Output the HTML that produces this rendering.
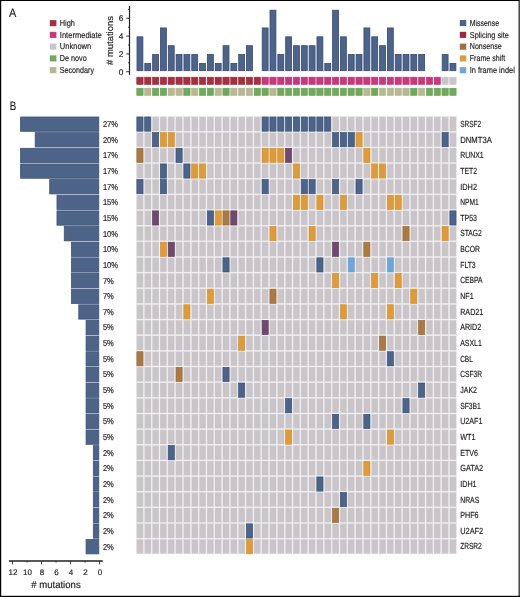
<!DOCTYPE html>
<html><head><meta charset="utf-8"><title>Oncoprint</title>
<style>
html,body{margin:0;padding:0;background:#fff;}
body{width:520px;height:597px;overflow:hidden;}
svg{display:block;will-change:transform;}
text{font-family:"Liberation Sans",sans-serif;fill:#231f20;stroke:#231f20;stroke-width:0.18px;text-rendering:geometricPrecision;}
</style></head>
<body>
<svg width="520" height="597" viewBox="0 0 520 597">
<rect x="0" y="0" width="520" height="597" fill="#fff"/>
<text x="9.00" y="16.80" font-size="12.4" text-anchor="start" textLength="7.3" lengthAdjust="spacingAndGlyphs">A</text>
<text x="9.80" y="110.20" font-size="12.4" text-anchor="start" textLength="6.5" lengthAdjust="spacingAndGlyphs">B</text>
<rect x="49.80" y="20.10" width="6.60" height="6.10" fill="#a3313f"/>
<text x="59.80" y="26.00" font-size="8.6" text-anchor="start" textLength="15.1" lengthAdjust="spacingAndGlyphs">High</text>
<rect x="49.80" y="31.85" width="6.60" height="6.10" fill="#c63a7b"/>
<text x="59.80" y="37.70" font-size="8.6" text-anchor="start" textLength="42.0" lengthAdjust="spacingAndGlyphs">Intermediate</text>
<rect x="49.80" y="43.60" width="6.60" height="6.10" fill="#cac5c9"/>
<text x="59.80" y="49.40" font-size="8.6" text-anchor="start" textLength="31.4" lengthAdjust="spacingAndGlyphs">Unknown</text>
<rect x="49.80" y="55.35" width="6.60" height="6.10" fill="#71a85b"/>
<text x="59.80" y="61.10" font-size="8.6" text-anchor="start" textLength="26.9" lengthAdjust="spacingAndGlyphs">De novo</text>
<rect x="49.80" y="67.10" width="6.60" height="6.10" fill="#b8b993"/>
<text x="59.80" y="72.80" font-size="8.6" text-anchor="start" textLength="34.2" lengthAdjust="spacingAndGlyphs">Secondary</text>
<rect x="459.80" y="20.00" width="6.40" height="6.10" fill="#4d6388"/>
<text x="469.80" y="25.90" font-size="8.6" text-anchor="start" textLength="29.2" lengthAdjust="spacingAndGlyphs">Missense</text>
<rect x="459.80" y="31.80" width="6.40" height="6.10" fill="#9c2a42"/>
<text x="469.80" y="37.60" font-size="8.6" text-anchor="start" textLength="39.0" lengthAdjust="spacingAndGlyphs">Splicing site</text>
<rect x="459.80" y="43.60" width="6.40" height="6.10" fill="#a0703a"/>
<text x="469.80" y="49.30" font-size="8.6" text-anchor="start" textLength="31.9" lengthAdjust="spacingAndGlyphs">Nonsense</text>
<rect x="459.80" y="55.40" width="6.40" height="6.10" fill="#dc9b3f"/>
<text x="469.80" y="61.00" font-size="8.6" text-anchor="start" textLength="35.4" lengthAdjust="spacingAndGlyphs">Frame shift</text>
<rect x="459.80" y="67.20" width="6.40" height="6.10" fill="#70a6d6"/>
<text x="469.80" y="72.70" font-size="8.6" text-anchor="start" textLength="45.0" lengthAdjust="spacingAndGlyphs">In frame indel</text>
<line x1="129.5" y1="6" x2="129.5" y2="74.9" stroke="#231f20" stroke-width="1.2"/>
<line x1="126.3" y1="71.70" x2="129.5" y2="71.70" stroke="#231f20" stroke-width="0.9"/>
<text x="121.00" y="74.60" font-size="8.3" text-anchor="middle">0</text>
<line x1="128.1" y1="62.80" x2="129.5" y2="62.80" stroke="#231f20" stroke-width="0.9"/>
<line x1="126.3" y1="53.90" x2="129.5" y2="53.90" stroke="#231f20" stroke-width="0.9"/>
<text x="121.00" y="56.80" font-size="8.3" text-anchor="middle">2</text>
<line x1="128.1" y1="45.00" x2="129.5" y2="45.00" stroke="#231f20" stroke-width="0.9"/>
<line x1="126.3" y1="36.10" x2="129.5" y2="36.10" stroke="#231f20" stroke-width="0.9"/>
<text x="121.00" y="39.00" font-size="8.3" text-anchor="middle">4</text>
<line x1="128.1" y1="27.20" x2="129.5" y2="27.20" stroke="#231f20" stroke-width="0.9"/>
<line x1="126.3" y1="18.30" x2="129.5" y2="18.30" stroke="#231f20" stroke-width="0.9"/>
<text x="121.00" y="21.20" font-size="8.3" text-anchor="middle">6</text>
<line x1="128.1" y1="9.40" x2="129.5" y2="9.40" stroke="#231f20" stroke-width="0.9"/>
<text transform="translate(112.9,65) rotate(-90)" font-size="9.2" textLength="49" lengthAdjust="spacingAndGlyphs">#&#160;mutations</text>
<rect x="137.00" y="36.82" width="5.90" height="33.88" fill="#4d6388" stroke="#34497a" stroke-width="0.8"/>
<rect x="144.82" y="63.43" width="5.90" height="7.27" fill="#4d6388" stroke="#34497a" stroke-width="0.8"/>
<rect x="152.65" y="54.56" width="5.90" height="16.14" fill="#4d6388" stroke="#34497a" stroke-width="0.8"/>
<rect x="160.47" y="27.95" width="5.90" height="42.75" fill="#4d6388" stroke="#34497a" stroke-width="0.8"/>
<rect x="168.30" y="45.69" width="5.90" height="25.01" fill="#4d6388" stroke="#34497a" stroke-width="0.8"/>
<rect x="176.12" y="54.56" width="5.90" height="16.14" fill="#4d6388" stroke="#34497a" stroke-width="0.8"/>
<rect x="183.95" y="54.56" width="5.90" height="16.14" fill="#4d6388" stroke="#34497a" stroke-width="0.8"/>
<rect x="191.78" y="54.56" width="5.90" height="16.14" fill="#4d6388" stroke="#34497a" stroke-width="0.8"/>
<rect x="199.60" y="63.43" width="5.90" height="7.27" fill="#4d6388" stroke="#34497a" stroke-width="0.8"/>
<rect x="207.43" y="54.56" width="5.90" height="16.14" fill="#4d6388" stroke="#34497a" stroke-width="0.8"/>
<rect x="215.25" y="63.43" width="5.90" height="7.27" fill="#4d6388" stroke="#34497a" stroke-width="0.8"/>
<rect x="223.07" y="45.69" width="5.90" height="25.01" fill="#4d6388" stroke="#34497a" stroke-width="0.8"/>
<rect x="230.90" y="63.43" width="5.90" height="7.27" fill="#4d6388" stroke="#34497a" stroke-width="0.8"/>
<rect x="238.73" y="54.56" width="5.90" height="16.14" fill="#4d6388" stroke="#34497a" stroke-width="0.8"/>
<rect x="246.55" y="45.69" width="5.90" height="25.01" fill="#4d6388" stroke="#34497a" stroke-width="0.8"/>
<rect x="262.20" y="27.95" width="5.90" height="42.75" fill="#4d6388" stroke="#34497a" stroke-width="0.8"/>
<rect x="270.02" y="10.21" width="5.90" height="60.49" fill="#4d6388" stroke="#34497a" stroke-width="0.8"/>
<rect x="277.85" y="54.56" width="5.90" height="16.14" fill="#4d6388" stroke="#34497a" stroke-width="0.8"/>
<rect x="285.68" y="36.82" width="5.90" height="33.88" fill="#4d6388" stroke="#34497a" stroke-width="0.8"/>
<rect x="293.50" y="45.69" width="5.90" height="25.01" fill="#4d6388" stroke="#34497a" stroke-width="0.8"/>
<rect x="301.33" y="45.69" width="5.90" height="25.01" fill="#4d6388" stroke="#34497a" stroke-width="0.8"/>
<rect x="309.15" y="45.69" width="5.90" height="25.01" fill="#4d6388" stroke="#34497a" stroke-width="0.8"/>
<rect x="316.98" y="36.82" width="5.90" height="33.88" fill="#4d6388" stroke="#34497a" stroke-width="0.8"/>
<rect x="324.80" y="63.43" width="5.90" height="7.27" fill="#4d6388" stroke="#34497a" stroke-width="0.8"/>
<rect x="332.62" y="10.21" width="5.90" height="60.49" fill="#4d6388" stroke="#34497a" stroke-width="0.8"/>
<rect x="340.45" y="36.82" width="5.90" height="33.88" fill="#4d6388" stroke="#34497a" stroke-width="0.8"/>
<rect x="348.27" y="54.56" width="5.90" height="16.14" fill="#4d6388" stroke="#34497a" stroke-width="0.8"/>
<rect x="356.10" y="54.56" width="5.90" height="16.14" fill="#4d6388" stroke="#34497a" stroke-width="0.8"/>
<rect x="363.93" y="27.95" width="5.90" height="42.75" fill="#4d6388" stroke="#34497a" stroke-width="0.8"/>
<rect x="371.75" y="36.82" width="5.90" height="33.88" fill="#4d6388" stroke="#34497a" stroke-width="0.8"/>
<rect x="379.58" y="45.69" width="5.90" height="25.01" fill="#4d6388" stroke="#34497a" stroke-width="0.8"/>
<rect x="387.40" y="27.95" width="5.90" height="42.75" fill="#4d6388" stroke="#34497a" stroke-width="0.8"/>
<rect x="395.23" y="54.56" width="5.90" height="16.14" fill="#4d6388" stroke="#34497a" stroke-width="0.8"/>
<rect x="403.05" y="54.56" width="5.90" height="16.14" fill="#4d6388" stroke="#34497a" stroke-width="0.8"/>
<rect x="410.88" y="54.56" width="5.90" height="16.14" fill="#4d6388" stroke="#34497a" stroke-width="0.8"/>
<rect x="418.70" y="54.56" width="5.90" height="16.14" fill="#4d6388" stroke="#34497a" stroke-width="0.8"/>
<rect x="442.18" y="54.56" width="5.90" height="16.14" fill="#4d6388" stroke="#34497a" stroke-width="0.8"/>
<rect x="450.00" y="63.43" width="5.90" height="7.27" fill="#4d6388" stroke="#34497a" stroke-width="0.8"/>
<rect x="136.75" y="77.15" width="6.40" height="7.40" fill="#a3313f" stroke="#9a2437" stroke-width="0.5"/>
<rect x="136.75" y="88.15" width="6.40" height="7.40" fill="#71a85b" stroke="#66a04f" stroke-width="0.5"/>
<rect x="144.57" y="77.15" width="6.40" height="7.40" fill="#a3313f" stroke="#9a2437" stroke-width="0.5"/>
<rect x="144.57" y="88.15" width="6.40" height="7.40" fill="#b8b993" stroke="#b0b188" stroke-width="0.5"/>
<rect x="152.40" y="77.15" width="6.40" height="7.40" fill="#a3313f" stroke="#9a2437" stroke-width="0.5"/>
<rect x="152.40" y="88.15" width="6.40" height="7.40" fill="#71a85b" stroke="#66a04f" stroke-width="0.5"/>
<rect x="160.22" y="77.15" width="6.40" height="7.40" fill="#a3313f" stroke="#9a2437" stroke-width="0.5"/>
<rect x="160.22" y="88.15" width="6.40" height="7.40" fill="#71a85b" stroke="#66a04f" stroke-width="0.5"/>
<rect x="168.05" y="77.15" width="6.40" height="7.40" fill="#a3313f" stroke="#9a2437" stroke-width="0.5"/>
<rect x="168.05" y="88.15" width="6.40" height="7.40" fill="#b8b993" stroke="#b0b188" stroke-width="0.5"/>
<rect x="175.88" y="77.15" width="6.40" height="7.40" fill="#a3313f" stroke="#9a2437" stroke-width="0.5"/>
<rect x="175.88" y="88.15" width="6.40" height="7.40" fill="#b8b993" stroke="#b0b188" stroke-width="0.5"/>
<rect x="183.70" y="77.15" width="6.40" height="7.40" fill="#a3313f" stroke="#9a2437" stroke-width="0.5"/>
<rect x="183.70" y="88.15" width="6.40" height="7.40" fill="#71a85b" stroke="#66a04f" stroke-width="0.5"/>
<rect x="191.53" y="77.15" width="6.40" height="7.40" fill="#a3313f" stroke="#9a2437" stroke-width="0.5"/>
<rect x="191.53" y="88.15" width="6.40" height="7.40" fill="#b8b993" stroke="#b0b188" stroke-width="0.5"/>
<rect x="199.35" y="77.15" width="6.40" height="7.40" fill="#a3313f" stroke="#9a2437" stroke-width="0.5"/>
<rect x="199.35" y="88.15" width="6.40" height="7.40" fill="#71a85b" stroke="#66a04f" stroke-width="0.5"/>
<rect x="207.18" y="77.15" width="6.40" height="7.40" fill="#a3313f" stroke="#9a2437" stroke-width="0.5"/>
<rect x="207.18" y="88.15" width="6.40" height="7.40" fill="#71a85b" stroke="#66a04f" stroke-width="0.5"/>
<rect x="215.00" y="77.15" width="6.40" height="7.40" fill="#a3313f" stroke="#9a2437" stroke-width="0.5"/>
<rect x="215.00" y="88.15" width="6.40" height="7.40" fill="#b8b993" stroke="#b0b188" stroke-width="0.5"/>
<rect x="222.82" y="77.15" width="6.40" height="7.40" fill="#a3313f" stroke="#9a2437" stroke-width="0.5"/>
<rect x="222.82" y="88.15" width="6.40" height="7.40" fill="#71a85b" stroke="#66a04f" stroke-width="0.5"/>
<rect x="230.65" y="77.15" width="6.40" height="7.40" fill="#a3313f" stroke="#9a2437" stroke-width="0.5"/>
<rect x="230.65" y="88.15" width="6.40" height="7.40" fill="#b8b993" stroke="#b0b188" stroke-width="0.5"/>
<rect x="238.48" y="77.15" width="6.40" height="7.40" fill="#a3313f" stroke="#9a2437" stroke-width="0.5"/>
<rect x="238.48" y="88.15" width="6.40" height="7.40" fill="#b8b993" stroke="#b0b188" stroke-width="0.5"/>
<rect x="246.30" y="77.15" width="6.40" height="7.40" fill="#a3313f" stroke="#9a2437" stroke-width="0.5"/>
<rect x="246.30" y="88.15" width="6.40" height="7.40" fill="#b8b993" stroke="#b0b188" stroke-width="0.5"/>
<rect x="254.12" y="77.15" width="6.40" height="7.40" fill="#a3313f" stroke="#9a2437" stroke-width="0.5"/>
<rect x="254.12" y="88.15" width="6.40" height="7.40" fill="#71a85b" stroke="#66a04f" stroke-width="0.5"/>
<rect x="261.95" y="77.15" width="6.40" height="7.40" fill="#c63a7b" stroke="#c02b74" stroke-width="0.5"/>
<rect x="261.95" y="88.15" width="6.40" height="7.40" fill="#71a85b" stroke="#66a04f" stroke-width="0.5"/>
<rect x="269.77" y="77.15" width="6.40" height="7.40" fill="#c63a7b" stroke="#c02b74" stroke-width="0.5"/>
<rect x="269.77" y="88.15" width="6.40" height="7.40" fill="#b8b993" stroke="#b0b188" stroke-width="0.5"/>
<rect x="277.60" y="77.15" width="6.40" height="7.40" fill="#c63a7b" stroke="#c02b74" stroke-width="0.5"/>
<rect x="277.60" y="88.15" width="6.40" height="7.40" fill="#71a85b" stroke="#66a04f" stroke-width="0.5"/>
<rect x="285.43" y="77.15" width="6.40" height="7.40" fill="#c63a7b" stroke="#c02b74" stroke-width="0.5"/>
<rect x="285.43" y="88.15" width="6.40" height="7.40" fill="#71a85b" stroke="#66a04f" stroke-width="0.5"/>
<rect x="293.25" y="77.15" width="6.40" height="7.40" fill="#c63a7b" stroke="#c02b74" stroke-width="0.5"/>
<rect x="293.25" y="88.15" width="6.40" height="7.40" fill="#71a85b" stroke="#66a04f" stroke-width="0.5"/>
<rect x="301.08" y="77.15" width="6.40" height="7.40" fill="#c63a7b" stroke="#c02b74" stroke-width="0.5"/>
<rect x="301.08" y="88.15" width="6.40" height="7.40" fill="#71a85b" stroke="#66a04f" stroke-width="0.5"/>
<rect x="308.90" y="77.15" width="6.40" height="7.40" fill="#c63a7b" stroke="#c02b74" stroke-width="0.5"/>
<rect x="308.90" y="88.15" width="6.40" height="7.40" fill="#71a85b" stroke="#66a04f" stroke-width="0.5"/>
<rect x="316.73" y="77.15" width="6.40" height="7.40" fill="#c63a7b" stroke="#c02b74" stroke-width="0.5"/>
<rect x="316.73" y="88.15" width="6.40" height="7.40" fill="#71a85b" stroke="#66a04f" stroke-width="0.5"/>
<rect x="324.55" y="77.15" width="6.40" height="7.40" fill="#c63a7b" stroke="#c02b74" stroke-width="0.5"/>
<rect x="324.55" y="88.15" width="6.40" height="7.40" fill="#71a85b" stroke="#66a04f" stroke-width="0.5"/>
<rect x="332.38" y="77.15" width="6.40" height="7.40" fill="#c63a7b" stroke="#c02b74" stroke-width="0.5"/>
<rect x="332.38" y="88.15" width="6.40" height="7.40" fill="#71a85b" stroke="#66a04f" stroke-width="0.5"/>
<rect x="340.20" y="77.15" width="6.40" height="7.40" fill="#c63a7b" stroke="#c02b74" stroke-width="0.5"/>
<rect x="340.20" y="88.15" width="6.40" height="7.40" fill="#71a85b" stroke="#66a04f" stroke-width="0.5"/>
<rect x="348.02" y="77.15" width="6.40" height="7.40" fill="#c63a7b" stroke="#c02b74" stroke-width="0.5"/>
<rect x="348.02" y="88.15" width="6.40" height="7.40" fill="#71a85b" stroke="#66a04f" stroke-width="0.5"/>
<rect x="355.85" y="77.15" width="6.40" height="7.40" fill="#c63a7b" stroke="#c02b74" stroke-width="0.5"/>
<rect x="355.85" y="88.15" width="6.40" height="7.40" fill="#71a85b" stroke="#66a04f" stroke-width="0.5"/>
<rect x="363.68" y="77.15" width="6.40" height="7.40" fill="#c63a7b" stroke="#c02b74" stroke-width="0.5"/>
<rect x="363.68" y="88.15" width="6.40" height="7.40" fill="#b8b993" stroke="#b0b188" stroke-width="0.5"/>
<rect x="371.50" y="77.15" width="6.40" height="7.40" fill="#c63a7b" stroke="#c02b74" stroke-width="0.5"/>
<rect x="371.50" y="88.15" width="6.40" height="7.40" fill="#71a85b" stroke="#66a04f" stroke-width="0.5"/>
<rect x="379.33" y="77.15" width="6.40" height="7.40" fill="#c63a7b" stroke="#c02b74" stroke-width="0.5"/>
<rect x="379.33" y="88.15" width="6.40" height="7.40" fill="#b8b993" stroke="#b0b188" stroke-width="0.5"/>
<rect x="387.15" y="77.15" width="6.40" height="7.40" fill="#c63a7b" stroke="#c02b74" stroke-width="0.5"/>
<rect x="387.15" y="88.15" width="6.40" height="7.40" fill="#b8b993" stroke="#b0b188" stroke-width="0.5"/>
<rect x="394.98" y="77.15" width="6.40" height="7.40" fill="#c63a7b" stroke="#c02b74" stroke-width="0.5"/>
<rect x="394.98" y="88.15" width="6.40" height="7.40" fill="#b8b993" stroke="#b0b188" stroke-width="0.5"/>
<rect x="402.80" y="77.15" width="6.40" height="7.40" fill="#c63a7b" stroke="#c02b74" stroke-width="0.5"/>
<rect x="402.80" y="88.15" width="6.40" height="7.40" fill="#b8b993" stroke="#b0b188" stroke-width="0.5"/>
<rect x="410.62" y="77.15" width="6.40" height="7.40" fill="#c63a7b" stroke="#c02b74" stroke-width="0.5"/>
<rect x="410.62" y="88.15" width="6.40" height="7.40" fill="#71a85b" stroke="#66a04f" stroke-width="0.5"/>
<rect x="418.45" y="77.15" width="6.40" height="7.40" fill="#c63a7b" stroke="#c02b74" stroke-width="0.5"/>
<rect x="418.45" y="88.15" width="6.40" height="7.40" fill="#b8b993" stroke="#b0b188" stroke-width="0.5"/>
<rect x="426.28" y="77.15" width="6.40" height="7.40" fill="#c63a7b" stroke="#c02b74" stroke-width="0.5"/>
<rect x="426.28" y="88.15" width="6.40" height="7.40" fill="#71a85b" stroke="#66a04f" stroke-width="0.5"/>
<rect x="434.10" y="77.15" width="6.40" height="7.40" fill="#c63a7b" stroke="#c02b74" stroke-width="0.5"/>
<rect x="434.10" y="88.15" width="6.40" height="7.40" fill="#71a85b" stroke="#66a04f" stroke-width="0.5"/>
<rect x="441.93" y="77.15" width="6.40" height="7.40" fill="#cac5c9" stroke="#cac5c9" stroke-width="0.5"/>
<rect x="441.93" y="88.15" width="6.40" height="7.40" fill="#71a85b" stroke="#66a04f" stroke-width="0.5"/>
<rect x="449.75" y="77.15" width="6.40" height="7.40" fill="#cac5c9" stroke="#cac5c9" stroke-width="0.5"/>
<rect x="449.75" y="88.15" width="6.40" height="7.40" fill="#71a85b" stroke="#66a04f" stroke-width="0.5"/>
<rect x="136.85" y="116.95" width="6.20" height="14.25" fill="#4d6388" stroke="#36507a" stroke-width="0.7"/>
<rect x="144.67" y="116.95" width="6.20" height="14.25" fill="#4d6388" stroke="#36507a" stroke-width="0.7"/>
<rect x="152.15" y="116.60" width="6.90" height="14.70" fill="#cac5c9" stroke="#e8e5ea" stroke-width="0.5"/>
<rect x="159.97" y="116.60" width="6.90" height="14.70" fill="#cac5c9" stroke="#e8e5ea" stroke-width="0.5"/>
<rect x="167.80" y="116.60" width="6.90" height="14.70" fill="#cac5c9" stroke="#e8e5ea" stroke-width="0.5"/>
<rect x="175.62" y="116.60" width="6.90" height="14.70" fill="#cac5c9" stroke="#e8e5ea" stroke-width="0.5"/>
<rect x="183.45" y="116.60" width="6.90" height="14.70" fill="#cac5c9" stroke="#e8e5ea" stroke-width="0.5"/>
<rect x="191.28" y="116.60" width="6.90" height="14.70" fill="#cac5c9" stroke="#e8e5ea" stroke-width="0.5"/>
<rect x="199.10" y="116.60" width="6.90" height="14.70" fill="#cac5c9" stroke="#e8e5ea" stroke-width="0.5"/>
<rect x="206.93" y="116.60" width="6.90" height="14.70" fill="#cac5c9" stroke="#e8e5ea" stroke-width="0.5"/>
<rect x="214.75" y="116.60" width="6.90" height="14.70" fill="#cac5c9" stroke="#e8e5ea" stroke-width="0.5"/>
<rect x="222.57" y="116.60" width="6.90" height="14.70" fill="#cac5c9" stroke="#e8e5ea" stroke-width="0.5"/>
<rect x="230.40" y="116.60" width="6.90" height="14.70" fill="#cac5c9" stroke="#e8e5ea" stroke-width="0.5"/>
<rect x="238.23" y="116.60" width="6.90" height="14.70" fill="#cac5c9" stroke="#e8e5ea" stroke-width="0.5"/>
<rect x="246.05" y="116.60" width="6.90" height="14.70" fill="#cac5c9" stroke="#e8e5ea" stroke-width="0.5"/>
<rect x="253.88" y="116.60" width="6.90" height="14.70" fill="#cac5c9" stroke="#e8e5ea" stroke-width="0.5"/>
<rect x="262.05" y="116.95" width="6.20" height="14.25" fill="#4d6388" stroke="#36507a" stroke-width="0.7"/>
<rect x="269.88" y="116.95" width="6.20" height="14.25" fill="#4d6388" stroke="#36507a" stroke-width="0.7"/>
<rect x="277.70" y="116.95" width="6.20" height="14.25" fill="#4d6388" stroke="#36507a" stroke-width="0.7"/>
<rect x="285.53" y="116.95" width="6.20" height="14.25" fill="#4d6388" stroke="#36507a" stroke-width="0.7"/>
<rect x="293.35" y="116.95" width="6.20" height="14.25" fill="#4d6388" stroke="#36507a" stroke-width="0.7"/>
<rect x="301.18" y="116.95" width="6.20" height="14.25" fill="#4d6388" stroke="#36507a" stroke-width="0.7"/>
<rect x="309.00" y="116.95" width="6.20" height="14.25" fill="#4d6388" stroke="#36507a" stroke-width="0.7"/>
<rect x="316.83" y="116.95" width="6.20" height="14.25" fill="#4d6388" stroke="#36507a" stroke-width="0.7"/>
<rect x="324.65" y="116.95" width="6.20" height="14.25" fill="#4d6388" stroke="#36507a" stroke-width="0.7"/>
<rect x="332.12" y="116.60" width="6.90" height="14.70" fill="#cac5c9" stroke="#e8e5ea" stroke-width="0.5"/>
<rect x="339.95" y="116.60" width="6.90" height="14.70" fill="#cac5c9" stroke="#e8e5ea" stroke-width="0.5"/>
<rect x="347.77" y="116.60" width="6.90" height="14.70" fill="#cac5c9" stroke="#e8e5ea" stroke-width="0.5"/>
<rect x="355.60" y="116.60" width="6.90" height="14.70" fill="#cac5c9" stroke="#e8e5ea" stroke-width="0.5"/>
<rect x="363.43" y="116.60" width="6.90" height="14.70" fill="#cac5c9" stroke="#e8e5ea" stroke-width="0.5"/>
<rect x="371.25" y="116.60" width="6.90" height="14.70" fill="#cac5c9" stroke="#e8e5ea" stroke-width="0.5"/>
<rect x="379.08" y="116.60" width="6.90" height="14.70" fill="#cac5c9" stroke="#e8e5ea" stroke-width="0.5"/>
<rect x="386.90" y="116.60" width="6.90" height="14.70" fill="#cac5c9" stroke="#e8e5ea" stroke-width="0.5"/>
<rect x="394.73" y="116.60" width="6.90" height="14.70" fill="#cac5c9" stroke="#e8e5ea" stroke-width="0.5"/>
<rect x="402.55" y="116.60" width="6.90" height="14.70" fill="#cac5c9" stroke="#e8e5ea" stroke-width="0.5"/>
<rect x="410.38" y="116.60" width="6.90" height="14.70" fill="#cac5c9" stroke="#e8e5ea" stroke-width="0.5"/>
<rect x="418.20" y="116.60" width="6.90" height="14.70" fill="#cac5c9" stroke="#e8e5ea" stroke-width="0.5"/>
<rect x="426.03" y="116.60" width="6.90" height="14.70" fill="#cac5c9" stroke="#e8e5ea" stroke-width="0.5"/>
<rect x="433.85" y="116.60" width="6.90" height="14.70" fill="#cac5c9" stroke="#e8e5ea" stroke-width="0.5"/>
<rect x="441.68" y="116.60" width="6.90" height="14.70" fill="#cac5c9" stroke="#e8e5ea" stroke-width="0.5"/>
<rect x="449.50" y="116.60" width="6.90" height="14.70" fill="#cac5c9" stroke="#e8e5ea" stroke-width="0.5"/>
<text x="460.20" y="126.90" font-size="8.8" text-anchor="start" textLength="21.0" lengthAdjust="spacingAndGlyphs">SRSF2</text>
<text x="102.90" y="127.00" font-size="8.5" text-anchor="start" textLength="15.2" lengthAdjust="spacingAndGlyphs">27%</text>
<rect x="20.63" y="117.00" width="78.17" height="14.30" fill="#4d6388" stroke="#3d5279" stroke-width="0.8"/>
<rect x="136.50" y="132.25" width="6.90" height="14.70" fill="#cac5c9" stroke="#e8e5ea" stroke-width="0.5"/>
<rect x="144.32" y="132.25" width="6.90" height="14.70" fill="#cac5c9" stroke="#e8e5ea" stroke-width="0.5"/>
<rect x="152.50" y="132.60" width="6.20" height="14.25" fill="#4d6388" stroke="#36507a" stroke-width="0.7"/>
<rect x="160.32" y="132.60" width="6.20" height="14.25" fill="#dc9b3f" stroke="#d48f2e" stroke-width="0.7"/>
<rect x="168.15" y="132.60" width="6.20" height="14.25" fill="#dc9b3f" stroke="#d48f2e" stroke-width="0.7"/>
<rect x="175.62" y="132.25" width="6.90" height="14.70" fill="#cac5c9" stroke="#e8e5ea" stroke-width="0.5"/>
<rect x="183.45" y="132.25" width="6.90" height="14.70" fill="#cac5c9" stroke="#e8e5ea" stroke-width="0.5"/>
<rect x="191.28" y="132.25" width="6.90" height="14.70" fill="#cac5c9" stroke="#e8e5ea" stroke-width="0.5"/>
<rect x="199.10" y="132.25" width="6.90" height="14.70" fill="#cac5c9" stroke="#e8e5ea" stroke-width="0.5"/>
<rect x="206.93" y="132.25" width="6.90" height="14.70" fill="#cac5c9" stroke="#e8e5ea" stroke-width="0.5"/>
<rect x="214.75" y="132.25" width="6.90" height="14.70" fill="#cac5c9" stroke="#e8e5ea" stroke-width="0.5"/>
<rect x="222.57" y="132.25" width="6.90" height="14.70" fill="#cac5c9" stroke="#e8e5ea" stroke-width="0.5"/>
<rect x="230.40" y="132.25" width="6.90" height="14.70" fill="#cac5c9" stroke="#e8e5ea" stroke-width="0.5"/>
<rect x="238.23" y="132.25" width="6.90" height="14.70" fill="#cac5c9" stroke="#e8e5ea" stroke-width="0.5"/>
<rect x="246.05" y="132.25" width="6.90" height="14.70" fill="#cac5c9" stroke="#e8e5ea" stroke-width="0.5"/>
<rect x="253.88" y="132.25" width="6.90" height="14.70" fill="#cac5c9" stroke="#e8e5ea" stroke-width="0.5"/>
<rect x="261.70" y="132.25" width="6.90" height="14.70" fill="#cac5c9" stroke="#e8e5ea" stroke-width="0.5"/>
<rect x="269.52" y="132.25" width="6.90" height="14.70" fill="#cac5c9" stroke="#e8e5ea" stroke-width="0.5"/>
<rect x="277.35" y="132.25" width="6.90" height="14.70" fill="#cac5c9" stroke="#e8e5ea" stroke-width="0.5"/>
<rect x="285.18" y="132.25" width="6.90" height="14.70" fill="#cac5c9" stroke="#e8e5ea" stroke-width="0.5"/>
<rect x="293.00" y="132.25" width="6.90" height="14.70" fill="#cac5c9" stroke="#e8e5ea" stroke-width="0.5"/>
<rect x="300.83" y="132.25" width="6.90" height="14.70" fill="#cac5c9" stroke="#e8e5ea" stroke-width="0.5"/>
<rect x="308.65" y="132.25" width="6.90" height="14.70" fill="#cac5c9" stroke="#e8e5ea" stroke-width="0.5"/>
<rect x="316.48" y="132.25" width="6.90" height="14.70" fill="#cac5c9" stroke="#e8e5ea" stroke-width="0.5"/>
<rect x="324.30" y="132.25" width="6.90" height="14.70" fill="#cac5c9" stroke="#e8e5ea" stroke-width="0.5"/>
<rect x="332.48" y="132.60" width="6.20" height="14.25" fill="#4d6388" stroke="#36507a" stroke-width="0.7"/>
<rect x="340.30" y="132.60" width="6.20" height="14.25" fill="#4d6388" stroke="#36507a" stroke-width="0.7"/>
<rect x="348.12" y="132.60" width="6.20" height="14.25" fill="#4d6388" stroke="#36507a" stroke-width="0.7"/>
<rect x="355.95" y="132.60" width="6.20" height="14.25" fill="#dc9b3f" stroke="#d48f2e" stroke-width="0.7"/>
<rect x="363.43" y="132.25" width="6.90" height="14.70" fill="#cac5c9" stroke="#e8e5ea" stroke-width="0.5"/>
<rect x="371.25" y="132.25" width="6.90" height="14.70" fill="#cac5c9" stroke="#e8e5ea" stroke-width="0.5"/>
<rect x="379.08" y="132.25" width="6.90" height="14.70" fill="#cac5c9" stroke="#e8e5ea" stroke-width="0.5"/>
<rect x="386.90" y="132.25" width="6.90" height="14.70" fill="#cac5c9" stroke="#e8e5ea" stroke-width="0.5"/>
<rect x="394.73" y="132.25" width="6.90" height="14.70" fill="#cac5c9" stroke="#e8e5ea" stroke-width="0.5"/>
<rect x="402.55" y="132.25" width="6.90" height="14.70" fill="#cac5c9" stroke="#e8e5ea" stroke-width="0.5"/>
<rect x="410.38" y="132.25" width="6.90" height="14.70" fill="#cac5c9" stroke="#e8e5ea" stroke-width="0.5"/>
<rect x="418.20" y="132.25" width="6.90" height="14.70" fill="#cac5c9" stroke="#e8e5ea" stroke-width="0.5"/>
<rect x="426.03" y="132.25" width="6.90" height="14.70" fill="#cac5c9" stroke="#e8e5ea" stroke-width="0.5"/>
<rect x="433.85" y="132.25" width="6.90" height="14.70" fill="#cac5c9" stroke="#e8e5ea" stroke-width="0.5"/>
<rect x="442.03" y="132.60" width="6.20" height="14.25" fill="#4d6388" stroke="#36507a" stroke-width="0.7"/>
<rect x="449.50" y="132.25" width="6.90" height="14.70" fill="#cac5c9" stroke="#e8e5ea" stroke-width="0.5"/>
<text x="460.20" y="142.55" font-size="8.8" text-anchor="start" textLength="31.7" lengthAdjust="spacingAndGlyphs">DNMT3A</text>
<text x="102.90" y="142.65" font-size="8.5" text-anchor="start" textLength="15.2" lengthAdjust="spacingAndGlyphs">20%</text>
<rect x="35.17" y="132.65" width="63.63" height="14.30" fill="#4d6388" stroke="#3d5279" stroke-width="0.8"/>
<rect x="136.85" y="148.25" width="6.20" height="14.25" fill="#a97a45" stroke="#9c6c37" stroke-width="0.7"/>
<rect x="144.32" y="147.90" width="6.90" height="14.70" fill="#cac5c9" stroke="#e8e5ea" stroke-width="0.5"/>
<rect x="152.15" y="147.90" width="6.90" height="14.70" fill="#cac5c9" stroke="#e8e5ea" stroke-width="0.5"/>
<rect x="159.97" y="147.90" width="6.90" height="14.70" fill="#cac5c9" stroke="#e8e5ea" stroke-width="0.5"/>
<rect x="167.80" y="147.90" width="6.90" height="14.70" fill="#cac5c9" stroke="#e8e5ea" stroke-width="0.5"/>
<rect x="175.97" y="148.25" width="6.20" height="14.25" fill="#4d6388" stroke="#36507a" stroke-width="0.7"/>
<rect x="183.45" y="147.90" width="6.90" height="14.70" fill="#cac5c9" stroke="#e8e5ea" stroke-width="0.5"/>
<rect x="191.28" y="147.90" width="6.90" height="14.70" fill="#cac5c9" stroke="#e8e5ea" stroke-width="0.5"/>
<rect x="199.10" y="147.90" width="6.90" height="14.70" fill="#cac5c9" stroke="#e8e5ea" stroke-width="0.5"/>
<rect x="206.93" y="147.90" width="6.90" height="14.70" fill="#cac5c9" stroke="#e8e5ea" stroke-width="0.5"/>
<rect x="214.75" y="147.90" width="6.90" height="14.70" fill="#cac5c9" stroke="#e8e5ea" stroke-width="0.5"/>
<rect x="222.57" y="147.90" width="6.90" height="14.70" fill="#cac5c9" stroke="#e8e5ea" stroke-width="0.5"/>
<rect x="230.40" y="147.90" width="6.90" height="14.70" fill="#cac5c9" stroke="#e8e5ea" stroke-width="0.5"/>
<rect x="238.23" y="147.90" width="6.90" height="14.70" fill="#cac5c9" stroke="#e8e5ea" stroke-width="0.5"/>
<rect x="246.05" y="147.90" width="6.90" height="14.70" fill="#cac5c9" stroke="#e8e5ea" stroke-width="0.5"/>
<rect x="253.88" y="147.90" width="6.90" height="14.70" fill="#cac5c9" stroke="#e8e5ea" stroke-width="0.5"/>
<rect x="262.05" y="148.25" width="6.20" height="14.25" fill="#dc9b3f" stroke="#d48f2e" stroke-width="0.7"/>
<rect x="269.88" y="148.25" width="6.20" height="14.25" fill="#dc9b3f" stroke="#d48f2e" stroke-width="0.7"/>
<rect x="277.70" y="148.25" width="6.20" height="14.25" fill="#dc9b3f" stroke="#d48f2e" stroke-width="0.7"/>
<rect x="285.53" y="148.25" width="6.20" height="14.25" fill="#6e4a6f" stroke="#603d61" stroke-width="0.7"/>
<rect x="293.00" y="147.90" width="6.90" height="14.70" fill="#cac5c9" stroke="#e8e5ea" stroke-width="0.5"/>
<rect x="300.83" y="147.90" width="6.90" height="14.70" fill="#cac5c9" stroke="#e8e5ea" stroke-width="0.5"/>
<rect x="308.65" y="147.90" width="6.90" height="14.70" fill="#cac5c9" stroke="#e8e5ea" stroke-width="0.5"/>
<rect x="316.48" y="147.90" width="6.90" height="14.70" fill="#cac5c9" stroke="#e8e5ea" stroke-width="0.5"/>
<rect x="324.30" y="147.90" width="6.90" height="14.70" fill="#cac5c9" stroke="#e8e5ea" stroke-width="0.5"/>
<rect x="332.12" y="147.90" width="6.90" height="14.70" fill="#cac5c9" stroke="#e8e5ea" stroke-width="0.5"/>
<rect x="339.95" y="147.90" width="6.90" height="14.70" fill="#cac5c9" stroke="#e8e5ea" stroke-width="0.5"/>
<rect x="347.77" y="147.90" width="6.90" height="14.70" fill="#cac5c9" stroke="#e8e5ea" stroke-width="0.5"/>
<rect x="355.60" y="147.90" width="6.90" height="14.70" fill="#cac5c9" stroke="#e8e5ea" stroke-width="0.5"/>
<rect x="363.78" y="148.25" width="6.20" height="14.25" fill="#dc9b3f" stroke="#d48f2e" stroke-width="0.7"/>
<rect x="371.25" y="147.90" width="6.90" height="14.70" fill="#cac5c9" stroke="#e8e5ea" stroke-width="0.5"/>
<rect x="379.08" y="147.90" width="6.90" height="14.70" fill="#cac5c9" stroke="#e8e5ea" stroke-width="0.5"/>
<rect x="386.90" y="147.90" width="6.90" height="14.70" fill="#cac5c9" stroke="#e8e5ea" stroke-width="0.5"/>
<rect x="394.73" y="147.90" width="6.90" height="14.70" fill="#cac5c9" stroke="#e8e5ea" stroke-width="0.5"/>
<rect x="402.55" y="147.90" width="6.90" height="14.70" fill="#cac5c9" stroke="#e8e5ea" stroke-width="0.5"/>
<rect x="410.38" y="147.90" width="6.90" height="14.70" fill="#cac5c9" stroke="#e8e5ea" stroke-width="0.5"/>
<rect x="418.20" y="147.90" width="6.90" height="14.70" fill="#cac5c9" stroke="#e8e5ea" stroke-width="0.5"/>
<rect x="426.03" y="147.90" width="6.90" height="14.70" fill="#cac5c9" stroke="#e8e5ea" stroke-width="0.5"/>
<rect x="433.85" y="147.90" width="6.90" height="14.70" fill="#cac5c9" stroke="#e8e5ea" stroke-width="0.5"/>
<rect x="441.68" y="147.90" width="6.90" height="14.70" fill="#cac5c9" stroke="#e8e5ea" stroke-width="0.5"/>
<rect x="449.50" y="147.90" width="6.90" height="14.70" fill="#cac5c9" stroke="#e8e5ea" stroke-width="0.5"/>
<text x="460.20" y="158.20" font-size="8.8" text-anchor="start" textLength="23.5" lengthAdjust="spacingAndGlyphs">RUNX1</text>
<text x="102.90" y="158.30" font-size="8.5" text-anchor="start" textLength="15.2" lengthAdjust="spacingAndGlyphs">17%</text>
<rect x="20.63" y="148.30" width="78.17" height="14.30" fill="#4d6388" stroke="#3d5279" stroke-width="0.8"/>
<rect x="136.50" y="163.55" width="6.90" height="14.70" fill="#cac5c9" stroke="#e8e5ea" stroke-width="0.5"/>
<rect x="144.32" y="163.55" width="6.90" height="14.70" fill="#cac5c9" stroke="#e8e5ea" stroke-width="0.5"/>
<rect x="152.15" y="163.55" width="6.90" height="14.70" fill="#cac5c9" stroke="#e8e5ea" stroke-width="0.5"/>
<rect x="160.32" y="163.90" width="6.20" height="14.25" fill="#4d6388" stroke="#36507a" stroke-width="0.7"/>
<rect x="167.80" y="163.55" width="6.90" height="14.70" fill="#cac5c9" stroke="#e8e5ea" stroke-width="0.5"/>
<rect x="175.62" y="163.55" width="6.90" height="14.70" fill="#cac5c9" stroke="#e8e5ea" stroke-width="0.5"/>
<rect x="183.80" y="163.90" width="6.20" height="14.25" fill="#4d6388" stroke="#36507a" stroke-width="0.7"/>
<rect x="191.62" y="163.90" width="6.20" height="14.25" fill="#dc9b3f" stroke="#d48f2e" stroke-width="0.7"/>
<rect x="199.45" y="163.90" width="6.20" height="14.25" fill="#dc9b3f" stroke="#d48f2e" stroke-width="0.7"/>
<rect x="206.93" y="163.55" width="6.90" height="14.70" fill="#cac5c9" stroke="#e8e5ea" stroke-width="0.5"/>
<rect x="214.75" y="163.55" width="6.90" height="14.70" fill="#cac5c9" stroke="#e8e5ea" stroke-width="0.5"/>
<rect x="222.57" y="163.55" width="6.90" height="14.70" fill="#cac5c9" stroke="#e8e5ea" stroke-width="0.5"/>
<rect x="230.40" y="163.55" width="6.90" height="14.70" fill="#cac5c9" stroke="#e8e5ea" stroke-width="0.5"/>
<rect x="238.23" y="163.55" width="6.90" height="14.70" fill="#cac5c9" stroke="#e8e5ea" stroke-width="0.5"/>
<rect x="246.05" y="163.55" width="6.90" height="14.70" fill="#cac5c9" stroke="#e8e5ea" stroke-width="0.5"/>
<rect x="253.88" y="163.55" width="6.90" height="14.70" fill="#cac5c9" stroke="#e8e5ea" stroke-width="0.5"/>
<rect x="261.70" y="163.55" width="6.90" height="14.70" fill="#cac5c9" stroke="#e8e5ea" stroke-width="0.5"/>
<rect x="269.52" y="163.55" width="6.90" height="14.70" fill="#cac5c9" stroke="#e8e5ea" stroke-width="0.5"/>
<rect x="277.35" y="163.55" width="6.90" height="14.70" fill="#cac5c9" stroke="#e8e5ea" stroke-width="0.5"/>
<rect x="285.18" y="163.55" width="6.90" height="14.70" fill="#cac5c9" stroke="#e8e5ea" stroke-width="0.5"/>
<rect x="293.35" y="163.90" width="6.20" height="14.25" fill="#dc9b3f" stroke="#d48f2e" stroke-width="0.7"/>
<rect x="300.83" y="163.55" width="6.90" height="14.70" fill="#cac5c9" stroke="#e8e5ea" stroke-width="0.5"/>
<rect x="308.65" y="163.55" width="6.90" height="14.70" fill="#cac5c9" stroke="#e8e5ea" stroke-width="0.5"/>
<rect x="316.48" y="163.55" width="6.90" height="14.70" fill="#cac5c9" stroke="#e8e5ea" stroke-width="0.5"/>
<rect x="324.30" y="163.55" width="6.90" height="14.70" fill="#cac5c9" stroke="#e8e5ea" stroke-width="0.5"/>
<rect x="332.12" y="163.55" width="6.90" height="14.70" fill="#cac5c9" stroke="#e8e5ea" stroke-width="0.5"/>
<rect x="339.95" y="163.55" width="6.90" height="14.70" fill="#cac5c9" stroke="#e8e5ea" stroke-width="0.5"/>
<rect x="347.77" y="163.55" width="6.90" height="14.70" fill="#cac5c9" stroke="#e8e5ea" stroke-width="0.5"/>
<rect x="355.60" y="163.55" width="6.90" height="14.70" fill="#cac5c9" stroke="#e8e5ea" stroke-width="0.5"/>
<rect x="363.43" y="163.55" width="6.90" height="14.70" fill="#cac5c9" stroke="#e8e5ea" stroke-width="0.5"/>
<rect x="371.60" y="163.90" width="6.20" height="14.25" fill="#dc9b3f" stroke="#d48f2e" stroke-width="0.7"/>
<rect x="379.43" y="163.90" width="6.20" height="14.25" fill="#dc9b3f" stroke="#d48f2e" stroke-width="0.7"/>
<rect x="386.90" y="163.55" width="6.90" height="14.70" fill="#cac5c9" stroke="#e8e5ea" stroke-width="0.5"/>
<rect x="394.73" y="163.55" width="6.90" height="14.70" fill="#cac5c9" stroke="#e8e5ea" stroke-width="0.5"/>
<rect x="402.55" y="163.55" width="6.90" height="14.70" fill="#cac5c9" stroke="#e8e5ea" stroke-width="0.5"/>
<rect x="410.38" y="163.55" width="6.90" height="14.70" fill="#cac5c9" stroke="#e8e5ea" stroke-width="0.5"/>
<rect x="418.20" y="163.55" width="6.90" height="14.70" fill="#cac5c9" stroke="#e8e5ea" stroke-width="0.5"/>
<rect x="426.03" y="163.55" width="6.90" height="14.70" fill="#cac5c9" stroke="#e8e5ea" stroke-width="0.5"/>
<rect x="433.85" y="163.55" width="6.90" height="14.70" fill="#cac5c9" stroke="#e8e5ea" stroke-width="0.5"/>
<rect x="441.68" y="163.55" width="6.90" height="14.70" fill="#cac5c9" stroke="#e8e5ea" stroke-width="0.5"/>
<rect x="449.50" y="163.55" width="6.90" height="14.70" fill="#cac5c9" stroke="#e8e5ea" stroke-width="0.5"/>
<text x="460.20" y="173.85" font-size="8.8" text-anchor="start" textLength="16.8" lengthAdjust="spacingAndGlyphs">TET2</text>
<text x="102.90" y="173.95" font-size="8.5" text-anchor="start" textLength="15.2" lengthAdjust="spacingAndGlyphs">17%</text>
<rect x="20.63" y="163.95" width="78.17" height="14.30" fill="#4d6388" stroke="#3d5279" stroke-width="0.8"/>
<rect x="136.85" y="179.55" width="6.20" height="14.25" fill="#4d6388" stroke="#36507a" stroke-width="0.7"/>
<rect x="144.32" y="179.20" width="6.90" height="14.70" fill="#cac5c9" stroke="#e8e5ea" stroke-width="0.5"/>
<rect x="152.15" y="179.20" width="6.90" height="14.70" fill="#cac5c9" stroke="#e8e5ea" stroke-width="0.5"/>
<rect x="160.32" y="179.55" width="6.20" height="14.25" fill="#4d6388" stroke="#36507a" stroke-width="0.7"/>
<rect x="167.80" y="179.20" width="6.90" height="14.70" fill="#cac5c9" stroke="#e8e5ea" stroke-width="0.5"/>
<rect x="175.62" y="179.20" width="6.90" height="14.70" fill="#cac5c9" stroke="#e8e5ea" stroke-width="0.5"/>
<rect x="183.45" y="179.20" width="6.90" height="14.70" fill="#cac5c9" stroke="#e8e5ea" stroke-width="0.5"/>
<rect x="191.28" y="179.20" width="6.90" height="14.70" fill="#cac5c9" stroke="#e8e5ea" stroke-width="0.5"/>
<rect x="199.10" y="179.20" width="6.90" height="14.70" fill="#cac5c9" stroke="#e8e5ea" stroke-width="0.5"/>
<rect x="206.93" y="179.20" width="6.90" height="14.70" fill="#cac5c9" stroke="#e8e5ea" stroke-width="0.5"/>
<rect x="214.75" y="179.20" width="6.90" height="14.70" fill="#cac5c9" stroke="#e8e5ea" stroke-width="0.5"/>
<rect x="222.57" y="179.20" width="6.90" height="14.70" fill="#cac5c9" stroke="#e8e5ea" stroke-width="0.5"/>
<rect x="230.40" y="179.20" width="6.90" height="14.70" fill="#cac5c9" stroke="#e8e5ea" stroke-width="0.5"/>
<rect x="238.23" y="179.20" width="6.90" height="14.70" fill="#cac5c9" stroke="#e8e5ea" stroke-width="0.5"/>
<rect x="246.05" y="179.20" width="6.90" height="14.70" fill="#cac5c9" stroke="#e8e5ea" stroke-width="0.5"/>
<rect x="253.88" y="179.20" width="6.90" height="14.70" fill="#cac5c9" stroke="#e8e5ea" stroke-width="0.5"/>
<rect x="262.05" y="179.55" width="6.20" height="14.25" fill="#4d6388" stroke="#36507a" stroke-width="0.7"/>
<rect x="269.52" y="179.20" width="6.90" height="14.70" fill="#cac5c9" stroke="#e8e5ea" stroke-width="0.5"/>
<rect x="277.35" y="179.20" width="6.90" height="14.70" fill="#cac5c9" stroke="#e8e5ea" stroke-width="0.5"/>
<rect x="285.18" y="179.20" width="6.90" height="14.70" fill="#cac5c9" stroke="#e8e5ea" stroke-width="0.5"/>
<rect x="293.00" y="179.20" width="6.90" height="14.70" fill="#cac5c9" stroke="#e8e5ea" stroke-width="0.5"/>
<rect x="301.18" y="179.55" width="6.20" height="14.25" fill="#4d6388" stroke="#36507a" stroke-width="0.7"/>
<rect x="309.00" y="179.55" width="6.20" height="14.25" fill="#4d6388" stroke="#36507a" stroke-width="0.7"/>
<rect x="316.48" y="179.20" width="6.90" height="14.70" fill="#cac5c9" stroke="#e8e5ea" stroke-width="0.5"/>
<rect x="324.30" y="179.20" width="6.90" height="14.70" fill="#cac5c9" stroke="#e8e5ea" stroke-width="0.5"/>
<rect x="332.48" y="179.55" width="6.20" height="14.25" fill="#4d6388" stroke="#36507a" stroke-width="0.7"/>
<rect x="339.95" y="179.20" width="6.90" height="14.70" fill="#cac5c9" stroke="#e8e5ea" stroke-width="0.5"/>
<rect x="347.77" y="179.20" width="6.90" height="14.70" fill="#cac5c9" stroke="#e8e5ea" stroke-width="0.5"/>
<rect x="355.95" y="179.55" width="6.20" height="14.25" fill="#4d6388" stroke="#36507a" stroke-width="0.7"/>
<rect x="363.43" y="179.20" width="6.90" height="14.70" fill="#cac5c9" stroke="#e8e5ea" stroke-width="0.5"/>
<rect x="371.25" y="179.20" width="6.90" height="14.70" fill="#cac5c9" stroke="#e8e5ea" stroke-width="0.5"/>
<rect x="379.08" y="179.20" width="6.90" height="14.70" fill="#cac5c9" stroke="#e8e5ea" stroke-width="0.5"/>
<rect x="386.90" y="179.20" width="6.90" height="14.70" fill="#cac5c9" stroke="#e8e5ea" stroke-width="0.5"/>
<rect x="394.73" y="179.20" width="6.90" height="14.70" fill="#cac5c9" stroke="#e8e5ea" stroke-width="0.5"/>
<rect x="402.55" y="179.20" width="6.90" height="14.70" fill="#cac5c9" stroke="#e8e5ea" stroke-width="0.5"/>
<rect x="410.38" y="179.20" width="6.90" height="14.70" fill="#cac5c9" stroke="#e8e5ea" stroke-width="0.5"/>
<rect x="418.20" y="179.20" width="6.90" height="14.70" fill="#cac5c9" stroke="#e8e5ea" stroke-width="0.5"/>
<rect x="426.03" y="179.20" width="6.90" height="14.70" fill="#cac5c9" stroke="#e8e5ea" stroke-width="0.5"/>
<rect x="433.85" y="179.20" width="6.90" height="14.70" fill="#cac5c9" stroke="#e8e5ea" stroke-width="0.5"/>
<rect x="441.68" y="179.20" width="6.90" height="14.70" fill="#cac5c9" stroke="#e8e5ea" stroke-width="0.5"/>
<rect x="449.50" y="179.20" width="6.90" height="14.70" fill="#cac5c9" stroke="#e8e5ea" stroke-width="0.5"/>
<text x="460.20" y="189.50" font-size="8.8" text-anchor="start" textLength="16.8" lengthAdjust="spacingAndGlyphs">IDH2</text>
<text x="102.90" y="189.60" font-size="8.5" text-anchor="start" textLength="15.2" lengthAdjust="spacingAndGlyphs">17%</text>
<rect x="49.71" y="179.60" width="49.09" height="14.30" fill="#4d6388" stroke="#3d5279" stroke-width="0.8"/>
<rect x="136.50" y="194.85" width="6.90" height="14.70" fill="#cac5c9" stroke="#e8e5ea" stroke-width="0.5"/>
<rect x="144.32" y="194.85" width="6.90" height="14.70" fill="#cac5c9" stroke="#e8e5ea" stroke-width="0.5"/>
<rect x="152.15" y="194.85" width="6.90" height="14.70" fill="#cac5c9" stroke="#e8e5ea" stroke-width="0.5"/>
<rect x="159.97" y="194.85" width="6.90" height="14.70" fill="#cac5c9" stroke="#e8e5ea" stroke-width="0.5"/>
<rect x="167.80" y="194.85" width="6.90" height="14.70" fill="#cac5c9" stroke="#e8e5ea" stroke-width="0.5"/>
<rect x="175.62" y="194.85" width="6.90" height="14.70" fill="#cac5c9" stroke="#e8e5ea" stroke-width="0.5"/>
<rect x="183.45" y="194.85" width="6.90" height="14.70" fill="#cac5c9" stroke="#e8e5ea" stroke-width="0.5"/>
<rect x="191.28" y="194.85" width="6.90" height="14.70" fill="#cac5c9" stroke="#e8e5ea" stroke-width="0.5"/>
<rect x="199.10" y="194.85" width="6.90" height="14.70" fill="#cac5c9" stroke="#e8e5ea" stroke-width="0.5"/>
<rect x="206.93" y="194.85" width="6.90" height="14.70" fill="#cac5c9" stroke="#e8e5ea" stroke-width="0.5"/>
<rect x="214.75" y="194.85" width="6.90" height="14.70" fill="#cac5c9" stroke="#e8e5ea" stroke-width="0.5"/>
<rect x="222.57" y="194.85" width="6.90" height="14.70" fill="#cac5c9" stroke="#e8e5ea" stroke-width="0.5"/>
<rect x="230.40" y="194.85" width="6.90" height="14.70" fill="#cac5c9" stroke="#e8e5ea" stroke-width="0.5"/>
<rect x="238.23" y="194.85" width="6.90" height="14.70" fill="#cac5c9" stroke="#e8e5ea" stroke-width="0.5"/>
<rect x="246.05" y="194.85" width="6.90" height="14.70" fill="#cac5c9" stroke="#e8e5ea" stroke-width="0.5"/>
<rect x="253.88" y="194.85" width="6.90" height="14.70" fill="#cac5c9" stroke="#e8e5ea" stroke-width="0.5"/>
<rect x="261.70" y="194.85" width="6.90" height="14.70" fill="#cac5c9" stroke="#e8e5ea" stroke-width="0.5"/>
<rect x="269.52" y="194.85" width="6.90" height="14.70" fill="#cac5c9" stroke="#e8e5ea" stroke-width="0.5"/>
<rect x="277.35" y="194.85" width="6.90" height="14.70" fill="#cac5c9" stroke="#e8e5ea" stroke-width="0.5"/>
<rect x="285.18" y="194.85" width="6.90" height="14.70" fill="#cac5c9" stroke="#e8e5ea" stroke-width="0.5"/>
<rect x="293.35" y="195.20" width="6.20" height="14.25" fill="#dc9b3f" stroke="#d48f2e" stroke-width="0.7"/>
<rect x="301.18" y="195.20" width="6.20" height="14.25" fill="#dc9b3f" stroke="#d48f2e" stroke-width="0.7"/>
<rect x="308.65" y="194.85" width="6.90" height="14.70" fill="#cac5c9" stroke="#e8e5ea" stroke-width="0.5"/>
<rect x="316.83" y="195.20" width="6.20" height="14.25" fill="#dc9b3f" stroke="#d48f2e" stroke-width="0.7"/>
<rect x="324.30" y="194.85" width="6.90" height="14.70" fill="#cac5c9" stroke="#e8e5ea" stroke-width="0.5"/>
<rect x="332.12" y="194.85" width="6.90" height="14.70" fill="#cac5c9" stroke="#e8e5ea" stroke-width="0.5"/>
<rect x="340.30" y="195.20" width="6.20" height="14.25" fill="#dc9b3f" stroke="#d48f2e" stroke-width="0.7"/>
<rect x="347.77" y="194.85" width="6.90" height="14.70" fill="#cac5c9" stroke="#e8e5ea" stroke-width="0.5"/>
<rect x="355.60" y="194.85" width="6.90" height="14.70" fill="#cac5c9" stroke="#e8e5ea" stroke-width="0.5"/>
<rect x="363.43" y="194.85" width="6.90" height="14.70" fill="#cac5c9" stroke="#e8e5ea" stroke-width="0.5"/>
<rect x="371.25" y="194.85" width="6.90" height="14.70" fill="#cac5c9" stroke="#e8e5ea" stroke-width="0.5"/>
<rect x="379.08" y="194.85" width="6.90" height="14.70" fill="#cac5c9" stroke="#e8e5ea" stroke-width="0.5"/>
<rect x="387.25" y="195.20" width="6.20" height="14.25" fill="#dc9b3f" stroke="#d48f2e" stroke-width="0.7"/>
<rect x="395.08" y="195.20" width="6.20" height="14.25" fill="#dc9b3f" stroke="#d48f2e" stroke-width="0.7"/>
<rect x="402.55" y="194.85" width="6.90" height="14.70" fill="#cac5c9" stroke="#e8e5ea" stroke-width="0.5"/>
<rect x="410.38" y="194.85" width="6.90" height="14.70" fill="#cac5c9" stroke="#e8e5ea" stroke-width="0.5"/>
<rect x="418.20" y="194.85" width="6.90" height="14.70" fill="#cac5c9" stroke="#e8e5ea" stroke-width="0.5"/>
<rect x="426.03" y="194.85" width="6.90" height="14.70" fill="#cac5c9" stroke="#e8e5ea" stroke-width="0.5"/>
<rect x="433.85" y="194.85" width="6.90" height="14.70" fill="#cac5c9" stroke="#e8e5ea" stroke-width="0.5"/>
<rect x="441.68" y="194.85" width="6.90" height="14.70" fill="#cac5c9" stroke="#e8e5ea" stroke-width="0.5"/>
<rect x="449.50" y="194.85" width="6.90" height="14.70" fill="#cac5c9" stroke="#e8e5ea" stroke-width="0.5"/>
<text x="460.20" y="205.15" font-size="8.8" text-anchor="start" textLength="18.4" lengthAdjust="spacingAndGlyphs">NPM1</text>
<text x="102.90" y="205.25" font-size="8.5" text-anchor="start" textLength="15.2" lengthAdjust="spacingAndGlyphs">15%</text>
<rect x="56.98" y="195.25" width="41.82" height="14.30" fill="#4d6388" stroke="#3d5279" stroke-width="0.8"/>
<rect x="136.50" y="210.50" width="6.90" height="14.70" fill="#cac5c9" stroke="#e8e5ea" stroke-width="0.5"/>
<rect x="144.32" y="210.50" width="6.90" height="14.70" fill="#cac5c9" stroke="#e8e5ea" stroke-width="0.5"/>
<rect x="152.50" y="210.85" width="6.20" height="14.25" fill="#6e4a6f" stroke="#603d61" stroke-width="0.7"/>
<rect x="159.97" y="210.50" width="6.90" height="14.70" fill="#cac5c9" stroke="#e8e5ea" stroke-width="0.5"/>
<rect x="167.80" y="210.50" width="6.90" height="14.70" fill="#cac5c9" stroke="#e8e5ea" stroke-width="0.5"/>
<rect x="175.62" y="210.50" width="6.90" height="14.70" fill="#cac5c9" stroke="#e8e5ea" stroke-width="0.5"/>
<rect x="183.45" y="210.50" width="6.90" height="14.70" fill="#cac5c9" stroke="#e8e5ea" stroke-width="0.5"/>
<rect x="191.28" y="210.50" width="6.90" height="14.70" fill="#cac5c9" stroke="#e8e5ea" stroke-width="0.5"/>
<rect x="199.10" y="210.50" width="6.90" height="14.70" fill="#cac5c9" stroke="#e8e5ea" stroke-width="0.5"/>
<rect x="207.28" y="210.85" width="6.20" height="14.25" fill="#4d6388" stroke="#36507a" stroke-width="0.7"/>
<rect x="215.10" y="210.85" width="6.20" height="14.25" fill="#dc9b3f" stroke="#d48f2e" stroke-width="0.7"/>
<rect x="222.92" y="210.85" width="6.20" height="14.25" fill="#a97a45" stroke="#9c6c37" stroke-width="0.7"/>
<rect x="230.75" y="210.85" width="6.20" height="14.25" fill="#6e4a6f" stroke="#603d61" stroke-width="0.7"/>
<rect x="238.23" y="210.50" width="6.90" height="14.70" fill="#cac5c9" stroke="#e8e5ea" stroke-width="0.5"/>
<rect x="246.05" y="210.50" width="6.90" height="14.70" fill="#cac5c9" stroke="#e8e5ea" stroke-width="0.5"/>
<rect x="253.88" y="210.50" width="6.90" height="14.70" fill="#cac5c9" stroke="#e8e5ea" stroke-width="0.5"/>
<rect x="261.70" y="210.50" width="6.90" height="14.70" fill="#cac5c9" stroke="#e8e5ea" stroke-width="0.5"/>
<rect x="269.52" y="210.50" width="6.90" height="14.70" fill="#cac5c9" stroke="#e8e5ea" stroke-width="0.5"/>
<rect x="277.35" y="210.50" width="6.90" height="14.70" fill="#cac5c9" stroke="#e8e5ea" stroke-width="0.5"/>
<rect x="285.18" y="210.50" width="6.90" height="14.70" fill="#cac5c9" stroke="#e8e5ea" stroke-width="0.5"/>
<rect x="293.00" y="210.50" width="6.90" height="14.70" fill="#cac5c9" stroke="#e8e5ea" stroke-width="0.5"/>
<rect x="300.83" y="210.50" width="6.90" height="14.70" fill="#cac5c9" stroke="#e8e5ea" stroke-width="0.5"/>
<rect x="308.65" y="210.50" width="6.90" height="14.70" fill="#cac5c9" stroke="#e8e5ea" stroke-width="0.5"/>
<rect x="316.48" y="210.50" width="6.90" height="14.70" fill="#cac5c9" stroke="#e8e5ea" stroke-width="0.5"/>
<rect x="324.30" y="210.50" width="6.90" height="14.70" fill="#cac5c9" stroke="#e8e5ea" stroke-width="0.5"/>
<rect x="332.12" y="210.50" width="6.90" height="14.70" fill="#cac5c9" stroke="#e8e5ea" stroke-width="0.5"/>
<rect x="339.95" y="210.50" width="6.90" height="14.70" fill="#cac5c9" stroke="#e8e5ea" stroke-width="0.5"/>
<rect x="347.77" y="210.50" width="6.90" height="14.70" fill="#cac5c9" stroke="#e8e5ea" stroke-width="0.5"/>
<rect x="355.60" y="210.50" width="6.90" height="14.70" fill="#cac5c9" stroke="#e8e5ea" stroke-width="0.5"/>
<rect x="363.43" y="210.50" width="6.90" height="14.70" fill="#cac5c9" stroke="#e8e5ea" stroke-width="0.5"/>
<rect x="371.25" y="210.50" width="6.90" height="14.70" fill="#cac5c9" stroke="#e8e5ea" stroke-width="0.5"/>
<rect x="379.08" y="210.50" width="6.90" height="14.70" fill="#cac5c9" stroke="#e8e5ea" stroke-width="0.5"/>
<rect x="386.90" y="210.50" width="6.90" height="14.70" fill="#cac5c9" stroke="#e8e5ea" stroke-width="0.5"/>
<rect x="394.73" y="210.50" width="6.90" height="14.70" fill="#cac5c9" stroke="#e8e5ea" stroke-width="0.5"/>
<rect x="402.55" y="210.50" width="6.90" height="14.70" fill="#cac5c9" stroke="#e8e5ea" stroke-width="0.5"/>
<rect x="410.38" y="210.50" width="6.90" height="14.70" fill="#cac5c9" stroke="#e8e5ea" stroke-width="0.5"/>
<rect x="418.20" y="210.50" width="6.90" height="14.70" fill="#cac5c9" stroke="#e8e5ea" stroke-width="0.5"/>
<rect x="426.03" y="210.50" width="6.90" height="14.70" fill="#cac5c9" stroke="#e8e5ea" stroke-width="0.5"/>
<rect x="433.85" y="210.50" width="6.90" height="14.70" fill="#cac5c9" stroke="#e8e5ea" stroke-width="0.5"/>
<rect x="441.68" y="210.50" width="6.90" height="14.70" fill="#cac5c9" stroke="#e8e5ea" stroke-width="0.5"/>
<rect x="449.85" y="210.85" width="6.20" height="14.25" fill="#4d6388" stroke="#36507a" stroke-width="0.7"/>
<text x="460.20" y="220.80" font-size="8.8" text-anchor="start" textLength="16.8" lengthAdjust="spacingAndGlyphs">TP53</text>
<text x="102.90" y="220.90" font-size="8.5" text-anchor="start" textLength="15.2" lengthAdjust="spacingAndGlyphs">15%</text>
<rect x="56.98" y="210.90" width="41.82" height="14.30" fill="#4d6388" stroke="#3d5279" stroke-width="0.8"/>
<rect x="136.50" y="226.15" width="6.90" height="14.70" fill="#cac5c9" stroke="#e8e5ea" stroke-width="0.5"/>
<rect x="144.32" y="226.15" width="6.90" height="14.70" fill="#cac5c9" stroke="#e8e5ea" stroke-width="0.5"/>
<rect x="152.15" y="226.15" width="6.90" height="14.70" fill="#cac5c9" stroke="#e8e5ea" stroke-width="0.5"/>
<rect x="159.97" y="226.15" width="6.90" height="14.70" fill="#cac5c9" stroke="#e8e5ea" stroke-width="0.5"/>
<rect x="167.80" y="226.15" width="6.90" height="14.70" fill="#cac5c9" stroke="#e8e5ea" stroke-width="0.5"/>
<rect x="175.62" y="226.15" width="6.90" height="14.70" fill="#cac5c9" stroke="#e8e5ea" stroke-width="0.5"/>
<rect x="183.45" y="226.15" width="6.90" height="14.70" fill="#cac5c9" stroke="#e8e5ea" stroke-width="0.5"/>
<rect x="191.28" y="226.15" width="6.90" height="14.70" fill="#cac5c9" stroke="#e8e5ea" stroke-width="0.5"/>
<rect x="199.10" y="226.15" width="6.90" height="14.70" fill="#cac5c9" stroke="#e8e5ea" stroke-width="0.5"/>
<rect x="206.93" y="226.15" width="6.90" height="14.70" fill="#cac5c9" stroke="#e8e5ea" stroke-width="0.5"/>
<rect x="214.75" y="226.15" width="6.90" height="14.70" fill="#cac5c9" stroke="#e8e5ea" stroke-width="0.5"/>
<rect x="222.57" y="226.15" width="6.90" height="14.70" fill="#cac5c9" stroke="#e8e5ea" stroke-width="0.5"/>
<rect x="230.40" y="226.15" width="6.90" height="14.70" fill="#cac5c9" stroke="#e8e5ea" stroke-width="0.5"/>
<rect x="238.23" y="226.15" width="6.90" height="14.70" fill="#cac5c9" stroke="#e8e5ea" stroke-width="0.5"/>
<rect x="246.05" y="226.15" width="6.90" height="14.70" fill="#cac5c9" stroke="#e8e5ea" stroke-width="0.5"/>
<rect x="253.88" y="226.15" width="6.90" height="14.70" fill="#cac5c9" stroke="#e8e5ea" stroke-width="0.5"/>
<rect x="261.70" y="226.15" width="6.90" height="14.70" fill="#cac5c9" stroke="#e8e5ea" stroke-width="0.5"/>
<rect x="269.88" y="226.50" width="6.20" height="14.25" fill="#dc9b3f" stroke="#d48f2e" stroke-width="0.7"/>
<rect x="277.35" y="226.15" width="6.90" height="14.70" fill="#cac5c9" stroke="#e8e5ea" stroke-width="0.5"/>
<rect x="285.18" y="226.15" width="6.90" height="14.70" fill="#cac5c9" stroke="#e8e5ea" stroke-width="0.5"/>
<rect x="293.00" y="226.15" width="6.90" height="14.70" fill="#cac5c9" stroke="#e8e5ea" stroke-width="0.5"/>
<rect x="300.83" y="226.15" width="6.90" height="14.70" fill="#cac5c9" stroke="#e8e5ea" stroke-width="0.5"/>
<rect x="309.00" y="226.50" width="6.20" height="14.25" fill="#dc9b3f" stroke="#d48f2e" stroke-width="0.7"/>
<rect x="316.48" y="226.15" width="6.90" height="14.70" fill="#cac5c9" stroke="#e8e5ea" stroke-width="0.5"/>
<rect x="324.30" y="226.15" width="6.90" height="14.70" fill="#cac5c9" stroke="#e8e5ea" stroke-width="0.5"/>
<rect x="332.12" y="226.15" width="6.90" height="14.70" fill="#cac5c9" stroke="#e8e5ea" stroke-width="0.5"/>
<rect x="339.95" y="226.15" width="6.90" height="14.70" fill="#cac5c9" stroke="#e8e5ea" stroke-width="0.5"/>
<rect x="347.77" y="226.15" width="6.90" height="14.70" fill="#cac5c9" stroke="#e8e5ea" stroke-width="0.5"/>
<rect x="355.60" y="226.15" width="6.90" height="14.70" fill="#cac5c9" stroke="#e8e5ea" stroke-width="0.5"/>
<rect x="363.43" y="226.15" width="6.90" height="14.70" fill="#cac5c9" stroke="#e8e5ea" stroke-width="0.5"/>
<rect x="371.25" y="226.15" width="6.90" height="14.70" fill="#cac5c9" stroke="#e8e5ea" stroke-width="0.5"/>
<rect x="379.08" y="226.15" width="6.90" height="14.70" fill="#cac5c9" stroke="#e8e5ea" stroke-width="0.5"/>
<rect x="386.90" y="226.15" width="6.90" height="14.70" fill="#cac5c9" stroke="#e8e5ea" stroke-width="0.5"/>
<rect x="394.73" y="226.15" width="6.90" height="14.70" fill="#cac5c9" stroke="#e8e5ea" stroke-width="0.5"/>
<rect x="402.90" y="226.50" width="6.20" height="14.25" fill="#a97a45" stroke="#9c6c37" stroke-width="0.7"/>
<rect x="410.38" y="226.15" width="6.90" height="14.70" fill="#cac5c9" stroke="#e8e5ea" stroke-width="0.5"/>
<rect x="418.20" y="226.15" width="6.90" height="14.70" fill="#cac5c9" stroke="#e8e5ea" stroke-width="0.5"/>
<rect x="426.03" y="226.15" width="6.90" height="14.70" fill="#cac5c9" stroke="#e8e5ea" stroke-width="0.5"/>
<rect x="433.85" y="226.15" width="6.90" height="14.70" fill="#cac5c9" stroke="#e8e5ea" stroke-width="0.5"/>
<rect x="442.03" y="226.50" width="6.20" height="14.25" fill="#dc9b3f" stroke="#d48f2e" stroke-width="0.7"/>
<rect x="449.50" y="226.15" width="6.90" height="14.70" fill="#cac5c9" stroke="#e8e5ea" stroke-width="0.5"/>
<text x="460.20" y="236.45" font-size="8.8" text-anchor="start" textLength="21.6" lengthAdjust="spacingAndGlyphs">STAG2</text>
<text x="102.90" y="236.55" font-size="8.5" text-anchor="start" textLength="15.2" lengthAdjust="spacingAndGlyphs">10%</text>
<rect x="64.25" y="226.55" width="34.55" height="14.30" fill="#4d6388" stroke="#3d5279" stroke-width="0.8"/>
<rect x="136.50" y="241.80" width="6.90" height="14.70" fill="#cac5c9" stroke="#e8e5ea" stroke-width="0.5"/>
<rect x="144.32" y="241.80" width="6.90" height="14.70" fill="#cac5c9" stroke="#e8e5ea" stroke-width="0.5"/>
<rect x="152.15" y="241.80" width="6.90" height="14.70" fill="#cac5c9" stroke="#e8e5ea" stroke-width="0.5"/>
<rect x="160.32" y="242.15" width="6.20" height="14.25" fill="#dc9b3f" stroke="#d48f2e" stroke-width="0.7"/>
<rect x="168.15" y="242.15" width="6.20" height="14.25" fill="#6e4a6f" stroke="#603d61" stroke-width="0.7"/>
<rect x="175.62" y="241.80" width="6.90" height="14.70" fill="#cac5c9" stroke="#e8e5ea" stroke-width="0.5"/>
<rect x="183.45" y="241.80" width="6.90" height="14.70" fill="#cac5c9" stroke="#e8e5ea" stroke-width="0.5"/>
<rect x="191.28" y="241.80" width="6.90" height="14.70" fill="#cac5c9" stroke="#e8e5ea" stroke-width="0.5"/>
<rect x="199.10" y="241.80" width="6.90" height="14.70" fill="#cac5c9" stroke="#e8e5ea" stroke-width="0.5"/>
<rect x="206.93" y="241.80" width="6.90" height="14.70" fill="#cac5c9" stroke="#e8e5ea" stroke-width="0.5"/>
<rect x="214.75" y="241.80" width="6.90" height="14.70" fill="#cac5c9" stroke="#e8e5ea" stroke-width="0.5"/>
<rect x="222.57" y="241.80" width="6.90" height="14.70" fill="#cac5c9" stroke="#e8e5ea" stroke-width="0.5"/>
<rect x="230.40" y="241.80" width="6.90" height="14.70" fill="#cac5c9" stroke="#e8e5ea" stroke-width="0.5"/>
<rect x="238.23" y="241.80" width="6.90" height="14.70" fill="#cac5c9" stroke="#e8e5ea" stroke-width="0.5"/>
<rect x="246.05" y="241.80" width="6.90" height="14.70" fill="#cac5c9" stroke="#e8e5ea" stroke-width="0.5"/>
<rect x="253.88" y="241.80" width="6.90" height="14.70" fill="#cac5c9" stroke="#e8e5ea" stroke-width="0.5"/>
<rect x="261.70" y="241.80" width="6.90" height="14.70" fill="#cac5c9" stroke="#e8e5ea" stroke-width="0.5"/>
<rect x="269.52" y="241.80" width="6.90" height="14.70" fill="#cac5c9" stroke="#e8e5ea" stroke-width="0.5"/>
<rect x="277.35" y="241.80" width="6.90" height="14.70" fill="#cac5c9" stroke="#e8e5ea" stroke-width="0.5"/>
<rect x="285.18" y="241.80" width="6.90" height="14.70" fill="#cac5c9" stroke="#e8e5ea" stroke-width="0.5"/>
<rect x="293.00" y="241.80" width="6.90" height="14.70" fill="#cac5c9" stroke="#e8e5ea" stroke-width="0.5"/>
<rect x="300.83" y="241.80" width="6.90" height="14.70" fill="#cac5c9" stroke="#e8e5ea" stroke-width="0.5"/>
<rect x="308.65" y="241.80" width="6.90" height="14.70" fill="#cac5c9" stroke="#e8e5ea" stroke-width="0.5"/>
<rect x="316.48" y="241.80" width="6.90" height="14.70" fill="#cac5c9" stroke="#e8e5ea" stroke-width="0.5"/>
<rect x="324.30" y="241.80" width="6.90" height="14.70" fill="#cac5c9" stroke="#e8e5ea" stroke-width="0.5"/>
<rect x="332.48" y="242.15" width="6.20" height="14.25" fill="#6e4a6f" stroke="#603d61" stroke-width="0.7"/>
<rect x="339.95" y="241.80" width="6.90" height="14.70" fill="#cac5c9" stroke="#e8e5ea" stroke-width="0.5"/>
<rect x="347.77" y="241.80" width="6.90" height="14.70" fill="#cac5c9" stroke="#e8e5ea" stroke-width="0.5"/>
<rect x="355.60" y="241.80" width="6.90" height="14.70" fill="#cac5c9" stroke="#e8e5ea" stroke-width="0.5"/>
<rect x="363.78" y="242.15" width="6.20" height="14.25" fill="#a97a45" stroke="#9c6c37" stroke-width="0.7"/>
<rect x="371.25" y="241.80" width="6.90" height="14.70" fill="#cac5c9" stroke="#e8e5ea" stroke-width="0.5"/>
<rect x="379.08" y="241.80" width="6.90" height="14.70" fill="#cac5c9" stroke="#e8e5ea" stroke-width="0.5"/>
<rect x="386.90" y="241.80" width="6.90" height="14.70" fill="#cac5c9" stroke="#e8e5ea" stroke-width="0.5"/>
<rect x="394.73" y="241.80" width="6.90" height="14.70" fill="#cac5c9" stroke="#e8e5ea" stroke-width="0.5"/>
<rect x="402.55" y="241.80" width="6.90" height="14.70" fill="#cac5c9" stroke="#e8e5ea" stroke-width="0.5"/>
<rect x="410.38" y="241.80" width="6.90" height="14.70" fill="#cac5c9" stroke="#e8e5ea" stroke-width="0.5"/>
<rect x="418.20" y="241.80" width="6.90" height="14.70" fill="#cac5c9" stroke="#e8e5ea" stroke-width="0.5"/>
<rect x="426.03" y="241.80" width="6.90" height="14.70" fill="#cac5c9" stroke="#e8e5ea" stroke-width="0.5"/>
<rect x="433.85" y="241.80" width="6.90" height="14.70" fill="#cac5c9" stroke="#e8e5ea" stroke-width="0.5"/>
<rect x="441.68" y="241.80" width="6.90" height="14.70" fill="#cac5c9" stroke="#e8e5ea" stroke-width="0.5"/>
<rect x="449.50" y="241.80" width="6.90" height="14.70" fill="#cac5c9" stroke="#e8e5ea" stroke-width="0.5"/>
<text x="460.20" y="252.10" font-size="8.8" text-anchor="start" textLength="19.7" lengthAdjust="spacingAndGlyphs">BCOR</text>
<text x="102.90" y="252.20" font-size="8.5" text-anchor="start" textLength="15.2" lengthAdjust="spacingAndGlyphs">10%</text>
<rect x="71.52" y="242.20" width="27.28" height="14.30" fill="#4d6388" stroke="#3d5279" stroke-width="0.8"/>
<rect x="136.50" y="257.45" width="6.90" height="14.70" fill="#cac5c9" stroke="#e8e5ea" stroke-width="0.5"/>
<rect x="144.32" y="257.45" width="6.90" height="14.70" fill="#cac5c9" stroke="#e8e5ea" stroke-width="0.5"/>
<rect x="152.15" y="257.45" width="6.90" height="14.70" fill="#cac5c9" stroke="#e8e5ea" stroke-width="0.5"/>
<rect x="159.97" y="257.45" width="6.90" height="14.70" fill="#cac5c9" stroke="#e8e5ea" stroke-width="0.5"/>
<rect x="167.80" y="257.45" width="6.90" height="14.70" fill="#cac5c9" stroke="#e8e5ea" stroke-width="0.5"/>
<rect x="175.62" y="257.45" width="6.90" height="14.70" fill="#cac5c9" stroke="#e8e5ea" stroke-width="0.5"/>
<rect x="183.45" y="257.45" width="6.90" height="14.70" fill="#cac5c9" stroke="#e8e5ea" stroke-width="0.5"/>
<rect x="191.28" y="257.45" width="6.90" height="14.70" fill="#cac5c9" stroke="#e8e5ea" stroke-width="0.5"/>
<rect x="199.10" y="257.45" width="6.90" height="14.70" fill="#cac5c9" stroke="#e8e5ea" stroke-width="0.5"/>
<rect x="206.93" y="257.45" width="6.90" height="14.70" fill="#cac5c9" stroke="#e8e5ea" stroke-width="0.5"/>
<rect x="214.75" y="257.45" width="6.90" height="14.70" fill="#cac5c9" stroke="#e8e5ea" stroke-width="0.5"/>
<rect x="222.92" y="257.80" width="6.20" height="14.25" fill="#4d6388" stroke="#36507a" stroke-width="0.7"/>
<rect x="230.40" y="257.45" width="6.90" height="14.70" fill="#cac5c9" stroke="#e8e5ea" stroke-width="0.5"/>
<rect x="238.23" y="257.45" width="6.90" height="14.70" fill="#cac5c9" stroke="#e8e5ea" stroke-width="0.5"/>
<rect x="246.05" y="257.45" width="6.90" height="14.70" fill="#cac5c9" stroke="#e8e5ea" stroke-width="0.5"/>
<rect x="253.88" y="257.45" width="6.90" height="14.70" fill="#cac5c9" stroke="#e8e5ea" stroke-width="0.5"/>
<rect x="261.70" y="257.45" width="6.90" height="14.70" fill="#cac5c9" stroke="#e8e5ea" stroke-width="0.5"/>
<rect x="269.52" y="257.45" width="6.90" height="14.70" fill="#cac5c9" stroke="#e8e5ea" stroke-width="0.5"/>
<rect x="277.35" y="257.45" width="6.90" height="14.70" fill="#cac5c9" stroke="#e8e5ea" stroke-width="0.5"/>
<rect x="285.18" y="257.45" width="6.90" height="14.70" fill="#cac5c9" stroke="#e8e5ea" stroke-width="0.5"/>
<rect x="293.00" y="257.45" width="6.90" height="14.70" fill="#cac5c9" stroke="#e8e5ea" stroke-width="0.5"/>
<rect x="300.83" y="257.45" width="6.90" height="14.70" fill="#cac5c9" stroke="#e8e5ea" stroke-width="0.5"/>
<rect x="308.65" y="257.45" width="6.90" height="14.70" fill="#cac5c9" stroke="#e8e5ea" stroke-width="0.5"/>
<rect x="316.83" y="257.80" width="6.20" height="14.25" fill="#4d6388" stroke="#36507a" stroke-width="0.7"/>
<rect x="324.30" y="257.45" width="6.90" height="14.70" fill="#cac5c9" stroke="#e8e5ea" stroke-width="0.5"/>
<rect x="332.12" y="257.45" width="6.90" height="14.70" fill="#cac5c9" stroke="#e8e5ea" stroke-width="0.5"/>
<rect x="339.95" y="257.45" width="6.90" height="14.70" fill="#cac5c9" stroke="#e8e5ea" stroke-width="0.5"/>
<rect x="348.12" y="257.80" width="6.20" height="14.25" fill="#70a6d6" stroke="#62a0d4" stroke-width="0.7"/>
<rect x="355.60" y="257.45" width="6.90" height="14.70" fill="#cac5c9" stroke="#e8e5ea" stroke-width="0.5"/>
<rect x="363.43" y="257.45" width="6.90" height="14.70" fill="#cac5c9" stroke="#e8e5ea" stroke-width="0.5"/>
<rect x="371.25" y="257.45" width="6.90" height="14.70" fill="#cac5c9" stroke="#e8e5ea" stroke-width="0.5"/>
<rect x="379.08" y="257.45" width="6.90" height="14.70" fill="#cac5c9" stroke="#e8e5ea" stroke-width="0.5"/>
<rect x="387.25" y="257.80" width="6.20" height="14.25" fill="#70a6d6" stroke="#62a0d4" stroke-width="0.7"/>
<rect x="394.73" y="257.45" width="6.90" height="14.70" fill="#cac5c9" stroke="#e8e5ea" stroke-width="0.5"/>
<rect x="402.55" y="257.45" width="6.90" height="14.70" fill="#cac5c9" stroke="#e8e5ea" stroke-width="0.5"/>
<rect x="410.38" y="257.45" width="6.90" height="14.70" fill="#cac5c9" stroke="#e8e5ea" stroke-width="0.5"/>
<rect x="418.20" y="257.45" width="6.90" height="14.70" fill="#cac5c9" stroke="#e8e5ea" stroke-width="0.5"/>
<rect x="426.03" y="257.45" width="6.90" height="14.70" fill="#cac5c9" stroke="#e8e5ea" stroke-width="0.5"/>
<rect x="433.85" y="257.45" width="6.90" height="14.70" fill="#cac5c9" stroke="#e8e5ea" stroke-width="0.5"/>
<rect x="441.68" y="257.45" width="6.90" height="14.70" fill="#cac5c9" stroke="#e8e5ea" stroke-width="0.5"/>
<rect x="449.50" y="257.45" width="6.90" height="14.70" fill="#cac5c9" stroke="#e8e5ea" stroke-width="0.5"/>
<text x="460.20" y="267.75" font-size="8.8" text-anchor="start" textLength="15.5" lengthAdjust="spacingAndGlyphs">FLT3</text>
<text x="102.90" y="267.85" font-size="8.5" text-anchor="start" textLength="15.2" lengthAdjust="spacingAndGlyphs">10%</text>
<rect x="71.52" y="257.85" width="27.28" height="14.30" fill="#4d6388" stroke="#3d5279" stroke-width="0.8"/>
<rect x="136.50" y="273.10" width="6.90" height="14.70" fill="#cac5c9" stroke="#e8e5ea" stroke-width="0.5"/>
<rect x="144.32" y="273.10" width="6.90" height="14.70" fill="#cac5c9" stroke="#e8e5ea" stroke-width="0.5"/>
<rect x="152.15" y="273.10" width="6.90" height="14.70" fill="#cac5c9" stroke="#e8e5ea" stroke-width="0.5"/>
<rect x="159.97" y="273.10" width="6.90" height="14.70" fill="#cac5c9" stroke="#e8e5ea" stroke-width="0.5"/>
<rect x="167.80" y="273.10" width="6.90" height="14.70" fill="#cac5c9" stroke="#e8e5ea" stroke-width="0.5"/>
<rect x="175.62" y="273.10" width="6.90" height="14.70" fill="#cac5c9" stroke="#e8e5ea" stroke-width="0.5"/>
<rect x="183.45" y="273.10" width="6.90" height="14.70" fill="#cac5c9" stroke="#e8e5ea" stroke-width="0.5"/>
<rect x="191.28" y="273.10" width="6.90" height="14.70" fill="#cac5c9" stroke="#e8e5ea" stroke-width="0.5"/>
<rect x="199.10" y="273.10" width="6.90" height="14.70" fill="#cac5c9" stroke="#e8e5ea" stroke-width="0.5"/>
<rect x="206.93" y="273.10" width="6.90" height="14.70" fill="#cac5c9" stroke="#e8e5ea" stroke-width="0.5"/>
<rect x="214.75" y="273.10" width="6.90" height="14.70" fill="#cac5c9" stroke="#e8e5ea" stroke-width="0.5"/>
<rect x="222.57" y="273.10" width="6.90" height="14.70" fill="#cac5c9" stroke="#e8e5ea" stroke-width="0.5"/>
<rect x="230.40" y="273.10" width="6.90" height="14.70" fill="#cac5c9" stroke="#e8e5ea" stroke-width="0.5"/>
<rect x="238.23" y="273.10" width="6.90" height="14.70" fill="#cac5c9" stroke="#e8e5ea" stroke-width="0.5"/>
<rect x="246.05" y="273.10" width="6.90" height="14.70" fill="#cac5c9" stroke="#e8e5ea" stroke-width="0.5"/>
<rect x="253.88" y="273.10" width="6.90" height="14.70" fill="#cac5c9" stroke="#e8e5ea" stroke-width="0.5"/>
<rect x="261.70" y="273.10" width="6.90" height="14.70" fill="#cac5c9" stroke="#e8e5ea" stroke-width="0.5"/>
<rect x="269.52" y="273.10" width="6.90" height="14.70" fill="#cac5c9" stroke="#e8e5ea" stroke-width="0.5"/>
<rect x="277.35" y="273.10" width="6.90" height="14.70" fill="#cac5c9" stroke="#e8e5ea" stroke-width="0.5"/>
<rect x="285.18" y="273.10" width="6.90" height="14.70" fill="#cac5c9" stroke="#e8e5ea" stroke-width="0.5"/>
<rect x="293.00" y="273.10" width="6.90" height="14.70" fill="#cac5c9" stroke="#e8e5ea" stroke-width="0.5"/>
<rect x="300.83" y="273.10" width="6.90" height="14.70" fill="#cac5c9" stroke="#e8e5ea" stroke-width="0.5"/>
<rect x="308.65" y="273.10" width="6.90" height="14.70" fill="#cac5c9" stroke="#e8e5ea" stroke-width="0.5"/>
<rect x="316.48" y="273.10" width="6.90" height="14.70" fill="#cac5c9" stroke="#e8e5ea" stroke-width="0.5"/>
<rect x="324.30" y="273.10" width="6.90" height="14.70" fill="#cac5c9" stroke="#e8e5ea" stroke-width="0.5"/>
<rect x="332.48" y="273.45" width="6.20" height="14.25" fill="#dc9b3f" stroke="#d48f2e" stroke-width="0.7"/>
<rect x="339.95" y="273.10" width="6.90" height="14.70" fill="#cac5c9" stroke="#e8e5ea" stroke-width="0.5"/>
<rect x="347.77" y="273.10" width="6.90" height="14.70" fill="#cac5c9" stroke="#e8e5ea" stroke-width="0.5"/>
<rect x="355.60" y="273.10" width="6.90" height="14.70" fill="#cac5c9" stroke="#e8e5ea" stroke-width="0.5"/>
<rect x="363.43" y="273.10" width="6.90" height="14.70" fill="#cac5c9" stroke="#e8e5ea" stroke-width="0.5"/>
<rect x="371.60" y="273.45" width="6.20" height="14.25" fill="#dc9b3f" stroke="#d48f2e" stroke-width="0.7"/>
<rect x="379.08" y="273.10" width="6.90" height="14.70" fill="#cac5c9" stroke="#e8e5ea" stroke-width="0.5"/>
<rect x="386.90" y="273.10" width="6.90" height="14.70" fill="#cac5c9" stroke="#e8e5ea" stroke-width="0.5"/>
<rect x="395.08" y="273.45" width="6.20" height="14.25" fill="#dc9b3f" stroke="#d48f2e" stroke-width="0.7"/>
<rect x="402.55" y="273.10" width="6.90" height="14.70" fill="#cac5c9" stroke="#e8e5ea" stroke-width="0.5"/>
<rect x="410.38" y="273.10" width="6.90" height="14.70" fill="#cac5c9" stroke="#e8e5ea" stroke-width="0.5"/>
<rect x="418.20" y="273.10" width="6.90" height="14.70" fill="#cac5c9" stroke="#e8e5ea" stroke-width="0.5"/>
<rect x="426.03" y="273.10" width="6.90" height="14.70" fill="#cac5c9" stroke="#e8e5ea" stroke-width="0.5"/>
<rect x="433.85" y="273.10" width="6.90" height="14.70" fill="#cac5c9" stroke="#e8e5ea" stroke-width="0.5"/>
<rect x="441.68" y="273.10" width="6.90" height="14.70" fill="#cac5c9" stroke="#e8e5ea" stroke-width="0.5"/>
<rect x="449.50" y="273.10" width="6.90" height="14.70" fill="#cac5c9" stroke="#e8e5ea" stroke-width="0.5"/>
<text x="460.20" y="283.40" font-size="8.8" text-anchor="start" textLength="22.2" lengthAdjust="spacingAndGlyphs">CEBPA</text>
<text x="102.90" y="283.50" font-size="8.5" text-anchor="start" textLength="10.9" lengthAdjust="spacingAndGlyphs">7%</text>
<rect x="71.52" y="273.50" width="27.28" height="14.30" fill="#4d6388" stroke="#3d5279" stroke-width="0.8"/>
<rect x="136.50" y="288.75" width="6.90" height="14.70" fill="#cac5c9" stroke="#e8e5ea" stroke-width="0.5"/>
<rect x="144.32" y="288.75" width="6.90" height="14.70" fill="#cac5c9" stroke="#e8e5ea" stroke-width="0.5"/>
<rect x="152.15" y="288.75" width="6.90" height="14.70" fill="#cac5c9" stroke="#e8e5ea" stroke-width="0.5"/>
<rect x="159.97" y="288.75" width="6.90" height="14.70" fill="#cac5c9" stroke="#e8e5ea" stroke-width="0.5"/>
<rect x="167.80" y="288.75" width="6.90" height="14.70" fill="#cac5c9" stroke="#e8e5ea" stroke-width="0.5"/>
<rect x="175.62" y="288.75" width="6.90" height="14.70" fill="#cac5c9" stroke="#e8e5ea" stroke-width="0.5"/>
<rect x="183.45" y="288.75" width="6.90" height="14.70" fill="#cac5c9" stroke="#e8e5ea" stroke-width="0.5"/>
<rect x="191.28" y="288.75" width="6.90" height="14.70" fill="#cac5c9" stroke="#e8e5ea" stroke-width="0.5"/>
<rect x="199.10" y="288.75" width="6.90" height="14.70" fill="#cac5c9" stroke="#e8e5ea" stroke-width="0.5"/>
<rect x="207.28" y="289.10" width="6.20" height="14.25" fill="#dc9b3f" stroke="#d48f2e" stroke-width="0.7"/>
<rect x="214.75" y="288.75" width="6.90" height="14.70" fill="#cac5c9" stroke="#e8e5ea" stroke-width="0.5"/>
<rect x="222.57" y="288.75" width="6.90" height="14.70" fill="#cac5c9" stroke="#e8e5ea" stroke-width="0.5"/>
<rect x="230.40" y="288.75" width="6.90" height="14.70" fill="#cac5c9" stroke="#e8e5ea" stroke-width="0.5"/>
<rect x="238.23" y="288.75" width="6.90" height="14.70" fill="#cac5c9" stroke="#e8e5ea" stroke-width="0.5"/>
<rect x="246.05" y="288.75" width="6.90" height="14.70" fill="#cac5c9" stroke="#e8e5ea" stroke-width="0.5"/>
<rect x="253.88" y="288.75" width="6.90" height="14.70" fill="#cac5c9" stroke="#e8e5ea" stroke-width="0.5"/>
<rect x="261.70" y="288.75" width="6.90" height="14.70" fill="#cac5c9" stroke="#e8e5ea" stroke-width="0.5"/>
<rect x="269.88" y="289.10" width="6.20" height="14.25" fill="#a97a45" stroke="#9c6c37" stroke-width="0.7"/>
<rect x="277.35" y="288.75" width="6.90" height="14.70" fill="#cac5c9" stroke="#e8e5ea" stroke-width="0.5"/>
<rect x="285.18" y="288.75" width="6.90" height="14.70" fill="#cac5c9" stroke="#e8e5ea" stroke-width="0.5"/>
<rect x="293.00" y="288.75" width="6.90" height="14.70" fill="#cac5c9" stroke="#e8e5ea" stroke-width="0.5"/>
<rect x="300.83" y="288.75" width="6.90" height="14.70" fill="#cac5c9" stroke="#e8e5ea" stroke-width="0.5"/>
<rect x="308.65" y="288.75" width="6.90" height="14.70" fill="#cac5c9" stroke="#e8e5ea" stroke-width="0.5"/>
<rect x="316.48" y="288.75" width="6.90" height="14.70" fill="#cac5c9" stroke="#e8e5ea" stroke-width="0.5"/>
<rect x="324.30" y="288.75" width="6.90" height="14.70" fill="#cac5c9" stroke="#e8e5ea" stroke-width="0.5"/>
<rect x="332.12" y="288.75" width="6.90" height="14.70" fill="#cac5c9" stroke="#e8e5ea" stroke-width="0.5"/>
<rect x="339.95" y="288.75" width="6.90" height="14.70" fill="#cac5c9" stroke="#e8e5ea" stroke-width="0.5"/>
<rect x="347.77" y="288.75" width="6.90" height="14.70" fill="#cac5c9" stroke="#e8e5ea" stroke-width="0.5"/>
<rect x="355.60" y="288.75" width="6.90" height="14.70" fill="#cac5c9" stroke="#e8e5ea" stroke-width="0.5"/>
<rect x="363.43" y="288.75" width="6.90" height="14.70" fill="#cac5c9" stroke="#e8e5ea" stroke-width="0.5"/>
<rect x="371.25" y="288.75" width="6.90" height="14.70" fill="#cac5c9" stroke="#e8e5ea" stroke-width="0.5"/>
<rect x="379.08" y="288.75" width="6.90" height="14.70" fill="#cac5c9" stroke="#e8e5ea" stroke-width="0.5"/>
<rect x="386.90" y="288.75" width="6.90" height="14.70" fill="#cac5c9" stroke="#e8e5ea" stroke-width="0.5"/>
<rect x="394.73" y="288.75" width="6.90" height="14.70" fill="#cac5c9" stroke="#e8e5ea" stroke-width="0.5"/>
<rect x="402.55" y="288.75" width="6.90" height="14.70" fill="#cac5c9" stroke="#e8e5ea" stroke-width="0.5"/>
<rect x="410.73" y="289.10" width="6.20" height="14.25" fill="#dc9b3f" stroke="#d48f2e" stroke-width="0.7"/>
<rect x="418.20" y="288.75" width="6.90" height="14.70" fill="#cac5c9" stroke="#e8e5ea" stroke-width="0.5"/>
<rect x="426.03" y="288.75" width="6.90" height="14.70" fill="#cac5c9" stroke="#e8e5ea" stroke-width="0.5"/>
<rect x="433.85" y="288.75" width="6.90" height="14.70" fill="#cac5c9" stroke="#e8e5ea" stroke-width="0.5"/>
<rect x="441.68" y="288.75" width="6.90" height="14.70" fill="#cac5c9" stroke="#e8e5ea" stroke-width="0.5"/>
<rect x="449.50" y="288.75" width="6.90" height="14.70" fill="#cac5c9" stroke="#e8e5ea" stroke-width="0.5"/>
<text x="460.20" y="299.05" font-size="8.8" text-anchor="start" textLength="13.4" lengthAdjust="spacingAndGlyphs">NF1</text>
<text x="102.90" y="299.15" font-size="8.5" text-anchor="start" textLength="10.9" lengthAdjust="spacingAndGlyphs">7%</text>
<rect x="71.52" y="289.15" width="27.28" height="14.30" fill="#4d6388" stroke="#3d5279" stroke-width="0.8"/>
<rect x="136.50" y="304.40" width="6.90" height="14.70" fill="#cac5c9" stroke="#e8e5ea" stroke-width="0.5"/>
<rect x="144.32" y="304.40" width="6.90" height="14.70" fill="#cac5c9" stroke="#e8e5ea" stroke-width="0.5"/>
<rect x="152.15" y="304.40" width="6.90" height="14.70" fill="#cac5c9" stroke="#e8e5ea" stroke-width="0.5"/>
<rect x="159.97" y="304.40" width="6.90" height="14.70" fill="#cac5c9" stroke="#e8e5ea" stroke-width="0.5"/>
<rect x="167.80" y="304.40" width="6.90" height="14.70" fill="#cac5c9" stroke="#e8e5ea" stroke-width="0.5"/>
<rect x="175.62" y="304.40" width="6.90" height="14.70" fill="#cac5c9" stroke="#e8e5ea" stroke-width="0.5"/>
<rect x="183.80" y="304.75" width="6.20" height="14.25" fill="#dc9b3f" stroke="#d48f2e" stroke-width="0.7"/>
<rect x="191.28" y="304.40" width="6.90" height="14.70" fill="#cac5c9" stroke="#e8e5ea" stroke-width="0.5"/>
<rect x="199.10" y="304.40" width="6.90" height="14.70" fill="#cac5c9" stroke="#e8e5ea" stroke-width="0.5"/>
<rect x="206.93" y="304.40" width="6.90" height="14.70" fill="#cac5c9" stroke="#e8e5ea" stroke-width="0.5"/>
<rect x="214.75" y="304.40" width="6.90" height="14.70" fill="#cac5c9" stroke="#e8e5ea" stroke-width="0.5"/>
<rect x="222.57" y="304.40" width="6.90" height="14.70" fill="#cac5c9" stroke="#e8e5ea" stroke-width="0.5"/>
<rect x="230.40" y="304.40" width="6.90" height="14.70" fill="#cac5c9" stroke="#e8e5ea" stroke-width="0.5"/>
<rect x="238.23" y="304.40" width="6.90" height="14.70" fill="#cac5c9" stroke="#e8e5ea" stroke-width="0.5"/>
<rect x="246.05" y="304.40" width="6.90" height="14.70" fill="#cac5c9" stroke="#e8e5ea" stroke-width="0.5"/>
<rect x="253.88" y="304.40" width="6.90" height="14.70" fill="#cac5c9" stroke="#e8e5ea" stroke-width="0.5"/>
<rect x="261.70" y="304.40" width="6.90" height="14.70" fill="#cac5c9" stroke="#e8e5ea" stroke-width="0.5"/>
<rect x="269.52" y="304.40" width="6.90" height="14.70" fill="#cac5c9" stroke="#e8e5ea" stroke-width="0.5"/>
<rect x="277.35" y="304.40" width="6.90" height="14.70" fill="#cac5c9" stroke="#e8e5ea" stroke-width="0.5"/>
<rect x="285.18" y="304.40" width="6.90" height="14.70" fill="#cac5c9" stroke="#e8e5ea" stroke-width="0.5"/>
<rect x="293.00" y="304.40" width="6.90" height="14.70" fill="#cac5c9" stroke="#e8e5ea" stroke-width="0.5"/>
<rect x="300.83" y="304.40" width="6.90" height="14.70" fill="#cac5c9" stroke="#e8e5ea" stroke-width="0.5"/>
<rect x="308.65" y="304.40" width="6.90" height="14.70" fill="#cac5c9" stroke="#e8e5ea" stroke-width="0.5"/>
<rect x="316.48" y="304.40" width="6.90" height="14.70" fill="#cac5c9" stroke="#e8e5ea" stroke-width="0.5"/>
<rect x="324.30" y="304.40" width="6.90" height="14.70" fill="#cac5c9" stroke="#e8e5ea" stroke-width="0.5"/>
<rect x="332.12" y="304.40" width="6.90" height="14.70" fill="#cac5c9" stroke="#e8e5ea" stroke-width="0.5"/>
<rect x="340.30" y="304.75" width="6.20" height="14.25" fill="#dc9b3f" stroke="#d48f2e" stroke-width="0.7"/>
<rect x="347.77" y="304.40" width="6.90" height="14.70" fill="#cac5c9" stroke="#e8e5ea" stroke-width="0.5"/>
<rect x="355.60" y="304.40" width="6.90" height="14.70" fill="#cac5c9" stroke="#e8e5ea" stroke-width="0.5"/>
<rect x="363.43" y="304.40" width="6.90" height="14.70" fill="#cac5c9" stroke="#e8e5ea" stroke-width="0.5"/>
<rect x="371.25" y="304.40" width="6.90" height="14.70" fill="#cac5c9" stroke="#e8e5ea" stroke-width="0.5"/>
<rect x="379.08" y="304.40" width="6.90" height="14.70" fill="#cac5c9" stroke="#e8e5ea" stroke-width="0.5"/>
<rect x="387.25" y="304.75" width="6.20" height="14.25" fill="#dc9b3f" stroke="#d48f2e" stroke-width="0.7"/>
<rect x="394.73" y="304.40" width="6.90" height="14.70" fill="#cac5c9" stroke="#e8e5ea" stroke-width="0.5"/>
<rect x="402.55" y="304.40" width="6.90" height="14.70" fill="#cac5c9" stroke="#e8e5ea" stroke-width="0.5"/>
<rect x="410.38" y="304.40" width="6.90" height="14.70" fill="#cac5c9" stroke="#e8e5ea" stroke-width="0.5"/>
<rect x="418.20" y="304.40" width="6.90" height="14.70" fill="#cac5c9" stroke="#e8e5ea" stroke-width="0.5"/>
<rect x="426.03" y="304.40" width="6.90" height="14.70" fill="#cac5c9" stroke="#e8e5ea" stroke-width="0.5"/>
<rect x="433.85" y="304.40" width="6.90" height="14.70" fill="#cac5c9" stroke="#e8e5ea" stroke-width="0.5"/>
<rect x="441.68" y="304.40" width="6.90" height="14.70" fill="#cac5c9" stroke="#e8e5ea" stroke-width="0.5"/>
<rect x="449.50" y="304.40" width="6.90" height="14.70" fill="#cac5c9" stroke="#e8e5ea" stroke-width="0.5"/>
<text x="460.20" y="314.70" font-size="8.8" text-anchor="start" textLength="23.1" lengthAdjust="spacingAndGlyphs">RAD21</text>
<text x="102.90" y="314.80" font-size="8.5" text-anchor="start" textLength="10.9" lengthAdjust="spacingAndGlyphs">7%</text>
<rect x="78.79" y="304.80" width="20.01" height="14.30" fill="#4d6388" stroke="#3d5279" stroke-width="0.8"/>
<rect x="136.50" y="320.05" width="6.90" height="14.70" fill="#cac5c9" stroke="#e8e5ea" stroke-width="0.5"/>
<rect x="144.32" y="320.05" width="6.90" height="14.70" fill="#cac5c9" stroke="#e8e5ea" stroke-width="0.5"/>
<rect x="152.15" y="320.05" width="6.90" height="14.70" fill="#cac5c9" stroke="#e8e5ea" stroke-width="0.5"/>
<rect x="159.97" y="320.05" width="6.90" height="14.70" fill="#cac5c9" stroke="#e8e5ea" stroke-width="0.5"/>
<rect x="167.80" y="320.05" width="6.90" height="14.70" fill="#cac5c9" stroke="#e8e5ea" stroke-width="0.5"/>
<rect x="175.62" y="320.05" width="6.90" height="14.70" fill="#cac5c9" stroke="#e8e5ea" stroke-width="0.5"/>
<rect x="183.45" y="320.05" width="6.90" height="14.70" fill="#cac5c9" stroke="#e8e5ea" stroke-width="0.5"/>
<rect x="191.28" y="320.05" width="6.90" height="14.70" fill="#cac5c9" stroke="#e8e5ea" stroke-width="0.5"/>
<rect x="199.10" y="320.05" width="6.90" height="14.70" fill="#cac5c9" stroke="#e8e5ea" stroke-width="0.5"/>
<rect x="206.93" y="320.05" width="6.90" height="14.70" fill="#cac5c9" stroke="#e8e5ea" stroke-width="0.5"/>
<rect x="214.75" y="320.05" width="6.90" height="14.70" fill="#cac5c9" stroke="#e8e5ea" stroke-width="0.5"/>
<rect x="222.57" y="320.05" width="6.90" height="14.70" fill="#cac5c9" stroke="#e8e5ea" stroke-width="0.5"/>
<rect x="230.40" y="320.05" width="6.90" height="14.70" fill="#cac5c9" stroke="#e8e5ea" stroke-width="0.5"/>
<rect x="238.23" y="320.05" width="6.90" height="14.70" fill="#cac5c9" stroke="#e8e5ea" stroke-width="0.5"/>
<rect x="246.05" y="320.05" width="6.90" height="14.70" fill="#cac5c9" stroke="#e8e5ea" stroke-width="0.5"/>
<rect x="253.88" y="320.05" width="6.90" height="14.70" fill="#cac5c9" stroke="#e8e5ea" stroke-width="0.5"/>
<rect x="262.05" y="320.40" width="6.20" height="14.25" fill="#6e4a6f" stroke="#603d61" stroke-width="0.7"/>
<rect x="269.52" y="320.05" width="6.90" height="14.70" fill="#cac5c9" stroke="#e8e5ea" stroke-width="0.5"/>
<rect x="277.35" y="320.05" width="6.90" height="14.70" fill="#cac5c9" stroke="#e8e5ea" stroke-width="0.5"/>
<rect x="285.18" y="320.05" width="6.90" height="14.70" fill="#cac5c9" stroke="#e8e5ea" stroke-width="0.5"/>
<rect x="293.00" y="320.05" width="6.90" height="14.70" fill="#cac5c9" stroke="#e8e5ea" stroke-width="0.5"/>
<rect x="300.83" y="320.05" width="6.90" height="14.70" fill="#cac5c9" stroke="#e8e5ea" stroke-width="0.5"/>
<rect x="308.65" y="320.05" width="6.90" height="14.70" fill="#cac5c9" stroke="#e8e5ea" stroke-width="0.5"/>
<rect x="316.48" y="320.05" width="6.90" height="14.70" fill="#cac5c9" stroke="#e8e5ea" stroke-width="0.5"/>
<rect x="324.30" y="320.05" width="6.90" height="14.70" fill="#cac5c9" stroke="#e8e5ea" stroke-width="0.5"/>
<rect x="332.12" y="320.05" width="6.90" height="14.70" fill="#cac5c9" stroke="#e8e5ea" stroke-width="0.5"/>
<rect x="339.95" y="320.05" width="6.90" height="14.70" fill="#cac5c9" stroke="#e8e5ea" stroke-width="0.5"/>
<rect x="347.77" y="320.05" width="6.90" height="14.70" fill="#cac5c9" stroke="#e8e5ea" stroke-width="0.5"/>
<rect x="355.60" y="320.05" width="6.90" height="14.70" fill="#cac5c9" stroke="#e8e5ea" stroke-width="0.5"/>
<rect x="363.43" y="320.05" width="6.90" height="14.70" fill="#cac5c9" stroke="#e8e5ea" stroke-width="0.5"/>
<rect x="371.25" y="320.05" width="6.90" height="14.70" fill="#cac5c9" stroke="#e8e5ea" stroke-width="0.5"/>
<rect x="379.08" y="320.05" width="6.90" height="14.70" fill="#cac5c9" stroke="#e8e5ea" stroke-width="0.5"/>
<rect x="386.90" y="320.05" width="6.90" height="14.70" fill="#cac5c9" stroke="#e8e5ea" stroke-width="0.5"/>
<rect x="394.73" y="320.05" width="6.90" height="14.70" fill="#cac5c9" stroke="#e8e5ea" stroke-width="0.5"/>
<rect x="402.55" y="320.05" width="6.90" height="14.70" fill="#cac5c9" stroke="#e8e5ea" stroke-width="0.5"/>
<rect x="410.38" y="320.05" width="6.90" height="14.70" fill="#cac5c9" stroke="#e8e5ea" stroke-width="0.5"/>
<rect x="418.55" y="320.40" width="6.20" height="14.25" fill="#a97a45" stroke="#9c6c37" stroke-width="0.7"/>
<rect x="426.03" y="320.05" width="6.90" height="14.70" fill="#cac5c9" stroke="#e8e5ea" stroke-width="0.5"/>
<rect x="433.85" y="320.05" width="6.90" height="14.70" fill="#cac5c9" stroke="#e8e5ea" stroke-width="0.5"/>
<rect x="441.68" y="320.05" width="6.90" height="14.70" fill="#cac5c9" stroke="#e8e5ea" stroke-width="0.5"/>
<rect x="449.50" y="320.05" width="6.90" height="14.70" fill="#cac5c9" stroke="#e8e5ea" stroke-width="0.5"/>
<text x="460.20" y="330.35" font-size="8.8" text-anchor="start" textLength="21.0" lengthAdjust="spacingAndGlyphs">ARID2</text>
<text x="102.90" y="330.45" font-size="8.5" text-anchor="start" textLength="10.9" lengthAdjust="spacingAndGlyphs">5%</text>
<rect x="86.06" y="320.45" width="12.74" height="14.30" fill="#4d6388" stroke="#3d5279" stroke-width="0.8"/>
<rect x="136.50" y="335.70" width="6.90" height="14.70" fill="#cac5c9" stroke="#e8e5ea" stroke-width="0.5"/>
<rect x="144.32" y="335.70" width="6.90" height="14.70" fill="#cac5c9" stroke="#e8e5ea" stroke-width="0.5"/>
<rect x="152.15" y="335.70" width="6.90" height="14.70" fill="#cac5c9" stroke="#e8e5ea" stroke-width="0.5"/>
<rect x="159.97" y="335.70" width="6.90" height="14.70" fill="#cac5c9" stroke="#e8e5ea" stroke-width="0.5"/>
<rect x="167.80" y="335.70" width="6.90" height="14.70" fill="#cac5c9" stroke="#e8e5ea" stroke-width="0.5"/>
<rect x="175.62" y="335.70" width="6.90" height="14.70" fill="#cac5c9" stroke="#e8e5ea" stroke-width="0.5"/>
<rect x="183.45" y="335.70" width="6.90" height="14.70" fill="#cac5c9" stroke="#e8e5ea" stroke-width="0.5"/>
<rect x="191.28" y="335.70" width="6.90" height="14.70" fill="#cac5c9" stroke="#e8e5ea" stroke-width="0.5"/>
<rect x="199.10" y="335.70" width="6.90" height="14.70" fill="#cac5c9" stroke="#e8e5ea" stroke-width="0.5"/>
<rect x="206.93" y="335.70" width="6.90" height="14.70" fill="#cac5c9" stroke="#e8e5ea" stroke-width="0.5"/>
<rect x="214.75" y="335.70" width="6.90" height="14.70" fill="#cac5c9" stroke="#e8e5ea" stroke-width="0.5"/>
<rect x="222.57" y="335.70" width="6.90" height="14.70" fill="#cac5c9" stroke="#e8e5ea" stroke-width="0.5"/>
<rect x="230.40" y="335.70" width="6.90" height="14.70" fill="#cac5c9" stroke="#e8e5ea" stroke-width="0.5"/>
<rect x="238.58" y="336.05" width="6.20" height="14.25" fill="#dc9b3f" stroke="#d48f2e" stroke-width="0.7"/>
<rect x="246.05" y="335.70" width="6.90" height="14.70" fill="#cac5c9" stroke="#e8e5ea" stroke-width="0.5"/>
<rect x="253.88" y="335.70" width="6.90" height="14.70" fill="#cac5c9" stroke="#e8e5ea" stroke-width="0.5"/>
<rect x="261.70" y="335.70" width="6.90" height="14.70" fill="#cac5c9" stroke="#e8e5ea" stroke-width="0.5"/>
<rect x="269.52" y="335.70" width="6.90" height="14.70" fill="#cac5c9" stroke="#e8e5ea" stroke-width="0.5"/>
<rect x="277.35" y="335.70" width="6.90" height="14.70" fill="#cac5c9" stroke="#e8e5ea" stroke-width="0.5"/>
<rect x="285.18" y="335.70" width="6.90" height="14.70" fill="#cac5c9" stroke="#e8e5ea" stroke-width="0.5"/>
<rect x="293.00" y="335.70" width="6.90" height="14.70" fill="#cac5c9" stroke="#e8e5ea" stroke-width="0.5"/>
<rect x="300.83" y="335.70" width="6.90" height="14.70" fill="#cac5c9" stroke="#e8e5ea" stroke-width="0.5"/>
<rect x="308.65" y="335.70" width="6.90" height="14.70" fill="#cac5c9" stroke="#e8e5ea" stroke-width="0.5"/>
<rect x="316.48" y="335.70" width="6.90" height="14.70" fill="#cac5c9" stroke="#e8e5ea" stroke-width="0.5"/>
<rect x="324.30" y="335.70" width="6.90" height="14.70" fill="#cac5c9" stroke="#e8e5ea" stroke-width="0.5"/>
<rect x="332.12" y="335.70" width="6.90" height="14.70" fill="#cac5c9" stroke="#e8e5ea" stroke-width="0.5"/>
<rect x="339.95" y="335.70" width="6.90" height="14.70" fill="#cac5c9" stroke="#e8e5ea" stroke-width="0.5"/>
<rect x="347.77" y="335.70" width="6.90" height="14.70" fill="#cac5c9" stroke="#e8e5ea" stroke-width="0.5"/>
<rect x="355.60" y="335.70" width="6.90" height="14.70" fill="#cac5c9" stroke="#e8e5ea" stroke-width="0.5"/>
<rect x="363.43" y="335.70" width="6.90" height="14.70" fill="#cac5c9" stroke="#e8e5ea" stroke-width="0.5"/>
<rect x="371.25" y="335.70" width="6.90" height="14.70" fill="#cac5c9" stroke="#e8e5ea" stroke-width="0.5"/>
<rect x="379.43" y="336.05" width="6.20" height="14.25" fill="#a97a45" stroke="#9c6c37" stroke-width="0.7"/>
<rect x="386.90" y="335.70" width="6.90" height="14.70" fill="#cac5c9" stroke="#e8e5ea" stroke-width="0.5"/>
<rect x="394.73" y="335.70" width="6.90" height="14.70" fill="#cac5c9" stroke="#e8e5ea" stroke-width="0.5"/>
<rect x="402.55" y="335.70" width="6.90" height="14.70" fill="#cac5c9" stroke="#e8e5ea" stroke-width="0.5"/>
<rect x="410.38" y="335.70" width="6.90" height="14.70" fill="#cac5c9" stroke="#e8e5ea" stroke-width="0.5"/>
<rect x="418.20" y="335.70" width="6.90" height="14.70" fill="#cac5c9" stroke="#e8e5ea" stroke-width="0.5"/>
<rect x="426.03" y="335.70" width="6.90" height="14.70" fill="#cac5c9" stroke="#e8e5ea" stroke-width="0.5"/>
<rect x="433.85" y="335.70" width="6.90" height="14.70" fill="#cac5c9" stroke="#e8e5ea" stroke-width="0.5"/>
<rect x="441.68" y="335.70" width="6.90" height="14.70" fill="#cac5c9" stroke="#e8e5ea" stroke-width="0.5"/>
<rect x="449.50" y="335.70" width="6.90" height="14.70" fill="#cac5c9" stroke="#e8e5ea" stroke-width="0.5"/>
<text x="460.20" y="346.00" font-size="8.8" text-anchor="start" textLength="21.6" lengthAdjust="spacingAndGlyphs">ASXL1</text>
<text x="102.90" y="346.10" font-size="8.5" text-anchor="start" textLength="10.9" lengthAdjust="spacingAndGlyphs">5%</text>
<rect x="86.06" y="336.10" width="12.74" height="14.30" fill="#4d6388" stroke="#3d5279" stroke-width="0.8"/>
<rect x="136.85" y="351.70" width="6.20" height="14.25" fill="#a97a45" stroke="#9c6c37" stroke-width="0.7"/>
<rect x="144.32" y="351.35" width="6.90" height="14.70" fill="#cac5c9" stroke="#e8e5ea" stroke-width="0.5"/>
<rect x="152.15" y="351.35" width="6.90" height="14.70" fill="#cac5c9" stroke="#e8e5ea" stroke-width="0.5"/>
<rect x="159.97" y="351.35" width="6.90" height="14.70" fill="#cac5c9" stroke="#e8e5ea" stroke-width="0.5"/>
<rect x="167.80" y="351.35" width="6.90" height="14.70" fill="#cac5c9" stroke="#e8e5ea" stroke-width="0.5"/>
<rect x="175.62" y="351.35" width="6.90" height="14.70" fill="#cac5c9" stroke="#e8e5ea" stroke-width="0.5"/>
<rect x="183.45" y="351.35" width="6.90" height="14.70" fill="#cac5c9" stroke="#e8e5ea" stroke-width="0.5"/>
<rect x="191.28" y="351.35" width="6.90" height="14.70" fill="#cac5c9" stroke="#e8e5ea" stroke-width="0.5"/>
<rect x="199.10" y="351.35" width="6.90" height="14.70" fill="#cac5c9" stroke="#e8e5ea" stroke-width="0.5"/>
<rect x="206.93" y="351.35" width="6.90" height="14.70" fill="#cac5c9" stroke="#e8e5ea" stroke-width="0.5"/>
<rect x="214.75" y="351.35" width="6.90" height="14.70" fill="#cac5c9" stroke="#e8e5ea" stroke-width="0.5"/>
<rect x="222.57" y="351.35" width="6.90" height="14.70" fill="#cac5c9" stroke="#e8e5ea" stroke-width="0.5"/>
<rect x="230.40" y="351.35" width="6.90" height="14.70" fill="#cac5c9" stroke="#e8e5ea" stroke-width="0.5"/>
<rect x="238.23" y="351.35" width="6.90" height="14.70" fill="#cac5c9" stroke="#e8e5ea" stroke-width="0.5"/>
<rect x="246.05" y="351.35" width="6.90" height="14.70" fill="#cac5c9" stroke="#e8e5ea" stroke-width="0.5"/>
<rect x="253.88" y="351.35" width="6.90" height="14.70" fill="#cac5c9" stroke="#e8e5ea" stroke-width="0.5"/>
<rect x="261.70" y="351.35" width="6.90" height="14.70" fill="#cac5c9" stroke="#e8e5ea" stroke-width="0.5"/>
<rect x="269.52" y="351.35" width="6.90" height="14.70" fill="#cac5c9" stroke="#e8e5ea" stroke-width="0.5"/>
<rect x="277.35" y="351.35" width="6.90" height="14.70" fill="#cac5c9" stroke="#e8e5ea" stroke-width="0.5"/>
<rect x="285.18" y="351.35" width="6.90" height="14.70" fill="#cac5c9" stroke="#e8e5ea" stroke-width="0.5"/>
<rect x="293.00" y="351.35" width="6.90" height="14.70" fill="#cac5c9" stroke="#e8e5ea" stroke-width="0.5"/>
<rect x="300.83" y="351.35" width="6.90" height="14.70" fill="#cac5c9" stroke="#e8e5ea" stroke-width="0.5"/>
<rect x="308.65" y="351.35" width="6.90" height="14.70" fill="#cac5c9" stroke="#e8e5ea" stroke-width="0.5"/>
<rect x="316.48" y="351.35" width="6.90" height="14.70" fill="#cac5c9" stroke="#e8e5ea" stroke-width="0.5"/>
<rect x="324.30" y="351.35" width="6.90" height="14.70" fill="#cac5c9" stroke="#e8e5ea" stroke-width="0.5"/>
<rect x="332.12" y="351.35" width="6.90" height="14.70" fill="#cac5c9" stroke="#e8e5ea" stroke-width="0.5"/>
<rect x="339.95" y="351.35" width="6.90" height="14.70" fill="#cac5c9" stroke="#e8e5ea" stroke-width="0.5"/>
<rect x="347.77" y="351.35" width="6.90" height="14.70" fill="#cac5c9" stroke="#e8e5ea" stroke-width="0.5"/>
<rect x="355.60" y="351.35" width="6.90" height="14.70" fill="#cac5c9" stroke="#e8e5ea" stroke-width="0.5"/>
<rect x="363.43" y="351.35" width="6.90" height="14.70" fill="#cac5c9" stroke="#e8e5ea" stroke-width="0.5"/>
<rect x="371.25" y="351.35" width="6.90" height="14.70" fill="#cac5c9" stroke="#e8e5ea" stroke-width="0.5"/>
<rect x="379.08" y="351.35" width="6.90" height="14.70" fill="#cac5c9" stroke="#e8e5ea" stroke-width="0.5"/>
<rect x="387.25" y="351.70" width="6.20" height="14.25" fill="#4d6388" stroke="#36507a" stroke-width="0.7"/>
<rect x="394.73" y="351.35" width="6.90" height="14.70" fill="#cac5c9" stroke="#e8e5ea" stroke-width="0.5"/>
<rect x="402.55" y="351.35" width="6.90" height="14.70" fill="#cac5c9" stroke="#e8e5ea" stroke-width="0.5"/>
<rect x="410.38" y="351.35" width="6.90" height="14.70" fill="#cac5c9" stroke="#e8e5ea" stroke-width="0.5"/>
<rect x="418.20" y="351.35" width="6.90" height="14.70" fill="#cac5c9" stroke="#e8e5ea" stroke-width="0.5"/>
<rect x="426.03" y="351.35" width="6.90" height="14.70" fill="#cac5c9" stroke="#e8e5ea" stroke-width="0.5"/>
<rect x="433.85" y="351.35" width="6.90" height="14.70" fill="#cac5c9" stroke="#e8e5ea" stroke-width="0.5"/>
<rect x="441.68" y="351.35" width="6.90" height="14.70" fill="#cac5c9" stroke="#e8e5ea" stroke-width="0.5"/>
<rect x="449.50" y="351.35" width="6.90" height="14.70" fill="#cac5c9" stroke="#e8e5ea" stroke-width="0.5"/>
<text x="460.20" y="361.65" font-size="8.8" text-anchor="start" textLength="12.6" lengthAdjust="spacingAndGlyphs">CBL</text>
<text x="102.90" y="361.75" font-size="8.5" text-anchor="start" textLength="10.9" lengthAdjust="spacingAndGlyphs">5%</text>
<rect x="86.06" y="351.75" width="12.74" height="14.30" fill="#4d6388" stroke="#3d5279" stroke-width="0.8"/>
<rect x="136.50" y="367.00" width="6.90" height="14.70" fill="#cac5c9" stroke="#e8e5ea" stroke-width="0.5"/>
<rect x="144.32" y="367.00" width="6.90" height="14.70" fill="#cac5c9" stroke="#e8e5ea" stroke-width="0.5"/>
<rect x="152.15" y="367.00" width="6.90" height="14.70" fill="#cac5c9" stroke="#e8e5ea" stroke-width="0.5"/>
<rect x="159.97" y="367.00" width="6.90" height="14.70" fill="#cac5c9" stroke="#e8e5ea" stroke-width="0.5"/>
<rect x="167.80" y="367.00" width="6.90" height="14.70" fill="#cac5c9" stroke="#e8e5ea" stroke-width="0.5"/>
<rect x="175.97" y="367.35" width="6.20" height="14.25" fill="#a97a45" stroke="#9c6c37" stroke-width="0.7"/>
<rect x="183.45" y="367.00" width="6.90" height="14.70" fill="#cac5c9" stroke="#e8e5ea" stroke-width="0.5"/>
<rect x="191.28" y="367.00" width="6.90" height="14.70" fill="#cac5c9" stroke="#e8e5ea" stroke-width="0.5"/>
<rect x="199.10" y="367.00" width="6.90" height="14.70" fill="#cac5c9" stroke="#e8e5ea" stroke-width="0.5"/>
<rect x="206.93" y="367.00" width="6.90" height="14.70" fill="#cac5c9" stroke="#e8e5ea" stroke-width="0.5"/>
<rect x="214.75" y="367.00" width="6.90" height="14.70" fill="#cac5c9" stroke="#e8e5ea" stroke-width="0.5"/>
<rect x="222.92" y="367.35" width="6.20" height="14.25" fill="#4d6388" stroke="#36507a" stroke-width="0.7"/>
<rect x="230.40" y="367.00" width="6.90" height="14.70" fill="#cac5c9" stroke="#e8e5ea" stroke-width="0.5"/>
<rect x="238.23" y="367.00" width="6.90" height="14.70" fill="#cac5c9" stroke="#e8e5ea" stroke-width="0.5"/>
<rect x="246.05" y="367.00" width="6.90" height="14.70" fill="#cac5c9" stroke="#e8e5ea" stroke-width="0.5"/>
<rect x="253.88" y="367.00" width="6.90" height="14.70" fill="#cac5c9" stroke="#e8e5ea" stroke-width="0.5"/>
<rect x="261.70" y="367.00" width="6.90" height="14.70" fill="#cac5c9" stroke="#e8e5ea" stroke-width="0.5"/>
<rect x="269.52" y="367.00" width="6.90" height="14.70" fill="#cac5c9" stroke="#e8e5ea" stroke-width="0.5"/>
<rect x="277.35" y="367.00" width="6.90" height="14.70" fill="#cac5c9" stroke="#e8e5ea" stroke-width="0.5"/>
<rect x="285.18" y="367.00" width="6.90" height="14.70" fill="#cac5c9" stroke="#e8e5ea" stroke-width="0.5"/>
<rect x="293.00" y="367.00" width="6.90" height="14.70" fill="#cac5c9" stroke="#e8e5ea" stroke-width="0.5"/>
<rect x="300.83" y="367.00" width="6.90" height="14.70" fill="#cac5c9" stroke="#e8e5ea" stroke-width="0.5"/>
<rect x="308.65" y="367.00" width="6.90" height="14.70" fill="#cac5c9" stroke="#e8e5ea" stroke-width="0.5"/>
<rect x="316.48" y="367.00" width="6.90" height="14.70" fill="#cac5c9" stroke="#e8e5ea" stroke-width="0.5"/>
<rect x="324.30" y="367.00" width="6.90" height="14.70" fill="#cac5c9" stroke="#e8e5ea" stroke-width="0.5"/>
<rect x="332.12" y="367.00" width="6.90" height="14.70" fill="#cac5c9" stroke="#e8e5ea" stroke-width="0.5"/>
<rect x="339.95" y="367.00" width="6.90" height="14.70" fill="#cac5c9" stroke="#e8e5ea" stroke-width="0.5"/>
<rect x="347.77" y="367.00" width="6.90" height="14.70" fill="#cac5c9" stroke="#e8e5ea" stroke-width="0.5"/>
<rect x="355.60" y="367.00" width="6.90" height="14.70" fill="#cac5c9" stroke="#e8e5ea" stroke-width="0.5"/>
<rect x="363.43" y="367.00" width="6.90" height="14.70" fill="#cac5c9" stroke="#e8e5ea" stroke-width="0.5"/>
<rect x="371.25" y="367.00" width="6.90" height="14.70" fill="#cac5c9" stroke="#e8e5ea" stroke-width="0.5"/>
<rect x="379.08" y="367.00" width="6.90" height="14.70" fill="#cac5c9" stroke="#e8e5ea" stroke-width="0.5"/>
<rect x="386.90" y="367.00" width="6.90" height="14.70" fill="#cac5c9" stroke="#e8e5ea" stroke-width="0.5"/>
<rect x="394.73" y="367.00" width="6.90" height="14.70" fill="#cac5c9" stroke="#e8e5ea" stroke-width="0.5"/>
<rect x="402.55" y="367.00" width="6.90" height="14.70" fill="#cac5c9" stroke="#e8e5ea" stroke-width="0.5"/>
<rect x="410.38" y="367.00" width="6.90" height="14.70" fill="#cac5c9" stroke="#e8e5ea" stroke-width="0.5"/>
<rect x="418.20" y="367.00" width="6.90" height="14.70" fill="#cac5c9" stroke="#e8e5ea" stroke-width="0.5"/>
<rect x="426.03" y="367.00" width="6.90" height="14.70" fill="#cac5c9" stroke="#e8e5ea" stroke-width="0.5"/>
<rect x="433.85" y="367.00" width="6.90" height="14.70" fill="#cac5c9" stroke="#e8e5ea" stroke-width="0.5"/>
<rect x="441.68" y="367.00" width="6.90" height="14.70" fill="#cac5c9" stroke="#e8e5ea" stroke-width="0.5"/>
<rect x="449.50" y="367.00" width="6.90" height="14.70" fill="#cac5c9" stroke="#e8e5ea" stroke-width="0.5"/>
<text x="460.20" y="377.30" font-size="8.8" text-anchor="start" textLength="22.0" lengthAdjust="spacingAndGlyphs">CSF3R</text>
<text x="102.90" y="377.40" font-size="8.5" text-anchor="start" textLength="10.9" lengthAdjust="spacingAndGlyphs">5%</text>
<rect x="86.06" y="367.40" width="12.74" height="14.30" fill="#4d6388" stroke="#3d5279" stroke-width="0.8"/>
<rect x="136.50" y="382.65" width="6.90" height="14.70" fill="#cac5c9" stroke="#e8e5ea" stroke-width="0.5"/>
<rect x="144.32" y="382.65" width="6.90" height="14.70" fill="#cac5c9" stroke="#e8e5ea" stroke-width="0.5"/>
<rect x="152.15" y="382.65" width="6.90" height="14.70" fill="#cac5c9" stroke="#e8e5ea" stroke-width="0.5"/>
<rect x="159.97" y="382.65" width="6.90" height="14.70" fill="#cac5c9" stroke="#e8e5ea" stroke-width="0.5"/>
<rect x="167.80" y="382.65" width="6.90" height="14.70" fill="#cac5c9" stroke="#e8e5ea" stroke-width="0.5"/>
<rect x="175.62" y="382.65" width="6.90" height="14.70" fill="#cac5c9" stroke="#e8e5ea" stroke-width="0.5"/>
<rect x="183.45" y="382.65" width="6.90" height="14.70" fill="#cac5c9" stroke="#e8e5ea" stroke-width="0.5"/>
<rect x="191.28" y="382.65" width="6.90" height="14.70" fill="#cac5c9" stroke="#e8e5ea" stroke-width="0.5"/>
<rect x="199.10" y="382.65" width="6.90" height="14.70" fill="#cac5c9" stroke="#e8e5ea" stroke-width="0.5"/>
<rect x="206.93" y="382.65" width="6.90" height="14.70" fill="#cac5c9" stroke="#e8e5ea" stroke-width="0.5"/>
<rect x="214.75" y="382.65" width="6.90" height="14.70" fill="#cac5c9" stroke="#e8e5ea" stroke-width="0.5"/>
<rect x="222.57" y="382.65" width="6.90" height="14.70" fill="#cac5c9" stroke="#e8e5ea" stroke-width="0.5"/>
<rect x="230.40" y="382.65" width="6.90" height="14.70" fill="#cac5c9" stroke="#e8e5ea" stroke-width="0.5"/>
<rect x="238.58" y="383.00" width="6.20" height="14.25" fill="#4d6388" stroke="#36507a" stroke-width="0.7"/>
<rect x="246.05" y="382.65" width="6.90" height="14.70" fill="#cac5c9" stroke="#e8e5ea" stroke-width="0.5"/>
<rect x="253.88" y="382.65" width="6.90" height="14.70" fill="#cac5c9" stroke="#e8e5ea" stroke-width="0.5"/>
<rect x="261.70" y="382.65" width="6.90" height="14.70" fill="#cac5c9" stroke="#e8e5ea" stroke-width="0.5"/>
<rect x="269.52" y="382.65" width="6.90" height="14.70" fill="#cac5c9" stroke="#e8e5ea" stroke-width="0.5"/>
<rect x="277.35" y="382.65" width="6.90" height="14.70" fill="#cac5c9" stroke="#e8e5ea" stroke-width="0.5"/>
<rect x="285.18" y="382.65" width="6.90" height="14.70" fill="#cac5c9" stroke="#e8e5ea" stroke-width="0.5"/>
<rect x="293.00" y="382.65" width="6.90" height="14.70" fill="#cac5c9" stroke="#e8e5ea" stroke-width="0.5"/>
<rect x="300.83" y="382.65" width="6.90" height="14.70" fill="#cac5c9" stroke="#e8e5ea" stroke-width="0.5"/>
<rect x="308.65" y="382.65" width="6.90" height="14.70" fill="#cac5c9" stroke="#e8e5ea" stroke-width="0.5"/>
<rect x="316.48" y="382.65" width="6.90" height="14.70" fill="#cac5c9" stroke="#e8e5ea" stroke-width="0.5"/>
<rect x="324.30" y="382.65" width="6.90" height="14.70" fill="#cac5c9" stroke="#e8e5ea" stroke-width="0.5"/>
<rect x="332.12" y="382.65" width="6.90" height="14.70" fill="#cac5c9" stroke="#e8e5ea" stroke-width="0.5"/>
<rect x="339.95" y="382.65" width="6.90" height="14.70" fill="#cac5c9" stroke="#e8e5ea" stroke-width="0.5"/>
<rect x="347.77" y="382.65" width="6.90" height="14.70" fill="#cac5c9" stroke="#e8e5ea" stroke-width="0.5"/>
<rect x="355.60" y="382.65" width="6.90" height="14.70" fill="#cac5c9" stroke="#e8e5ea" stroke-width="0.5"/>
<rect x="363.43" y="382.65" width="6.90" height="14.70" fill="#cac5c9" stroke="#e8e5ea" stroke-width="0.5"/>
<rect x="371.25" y="382.65" width="6.90" height="14.70" fill="#cac5c9" stroke="#e8e5ea" stroke-width="0.5"/>
<rect x="379.08" y="382.65" width="6.90" height="14.70" fill="#cac5c9" stroke="#e8e5ea" stroke-width="0.5"/>
<rect x="386.90" y="382.65" width="6.90" height="14.70" fill="#cac5c9" stroke="#e8e5ea" stroke-width="0.5"/>
<rect x="394.73" y="382.65" width="6.90" height="14.70" fill="#cac5c9" stroke="#e8e5ea" stroke-width="0.5"/>
<rect x="402.55" y="382.65" width="6.90" height="14.70" fill="#cac5c9" stroke="#e8e5ea" stroke-width="0.5"/>
<rect x="410.38" y="382.65" width="6.90" height="14.70" fill="#cac5c9" stroke="#e8e5ea" stroke-width="0.5"/>
<rect x="418.55" y="383.00" width="6.20" height="14.25" fill="#4d6388" stroke="#36507a" stroke-width="0.7"/>
<rect x="426.03" y="382.65" width="6.90" height="14.70" fill="#cac5c9" stroke="#e8e5ea" stroke-width="0.5"/>
<rect x="433.85" y="382.65" width="6.90" height="14.70" fill="#cac5c9" stroke="#e8e5ea" stroke-width="0.5"/>
<rect x="441.68" y="382.65" width="6.90" height="14.70" fill="#cac5c9" stroke="#e8e5ea" stroke-width="0.5"/>
<rect x="449.50" y="382.65" width="6.90" height="14.70" fill="#cac5c9" stroke="#e8e5ea" stroke-width="0.5"/>
<text x="460.20" y="392.95" font-size="8.8" text-anchor="start" textLength="16.8" lengthAdjust="spacingAndGlyphs">JAK2</text>
<text x="102.90" y="393.05" font-size="8.5" text-anchor="start" textLength="10.9" lengthAdjust="spacingAndGlyphs">5%</text>
<rect x="86.06" y="383.05" width="12.74" height="14.30" fill="#4d6388" stroke="#3d5279" stroke-width="0.8"/>
<rect x="136.50" y="398.30" width="6.90" height="14.70" fill="#cac5c9" stroke="#e8e5ea" stroke-width="0.5"/>
<rect x="144.32" y="398.30" width="6.90" height="14.70" fill="#cac5c9" stroke="#e8e5ea" stroke-width="0.5"/>
<rect x="152.15" y="398.30" width="6.90" height="14.70" fill="#cac5c9" stroke="#e8e5ea" stroke-width="0.5"/>
<rect x="159.97" y="398.30" width="6.90" height="14.70" fill="#cac5c9" stroke="#e8e5ea" stroke-width="0.5"/>
<rect x="167.80" y="398.30" width="6.90" height="14.70" fill="#cac5c9" stroke="#e8e5ea" stroke-width="0.5"/>
<rect x="175.62" y="398.30" width="6.90" height="14.70" fill="#cac5c9" stroke="#e8e5ea" stroke-width="0.5"/>
<rect x="183.45" y="398.30" width="6.90" height="14.70" fill="#cac5c9" stroke="#e8e5ea" stroke-width="0.5"/>
<rect x="191.28" y="398.30" width="6.90" height="14.70" fill="#cac5c9" stroke="#e8e5ea" stroke-width="0.5"/>
<rect x="199.10" y="398.30" width="6.90" height="14.70" fill="#cac5c9" stroke="#e8e5ea" stroke-width="0.5"/>
<rect x="206.93" y="398.30" width="6.90" height="14.70" fill="#cac5c9" stroke="#e8e5ea" stroke-width="0.5"/>
<rect x="214.75" y="398.30" width="6.90" height="14.70" fill="#cac5c9" stroke="#e8e5ea" stroke-width="0.5"/>
<rect x="222.57" y="398.30" width="6.90" height="14.70" fill="#cac5c9" stroke="#e8e5ea" stroke-width="0.5"/>
<rect x="230.40" y="398.30" width="6.90" height="14.70" fill="#cac5c9" stroke="#e8e5ea" stroke-width="0.5"/>
<rect x="238.23" y="398.30" width="6.90" height="14.70" fill="#cac5c9" stroke="#e8e5ea" stroke-width="0.5"/>
<rect x="246.05" y="398.30" width="6.90" height="14.70" fill="#cac5c9" stroke="#e8e5ea" stroke-width="0.5"/>
<rect x="253.88" y="398.30" width="6.90" height="14.70" fill="#cac5c9" stroke="#e8e5ea" stroke-width="0.5"/>
<rect x="261.70" y="398.30" width="6.90" height="14.70" fill="#cac5c9" stroke="#e8e5ea" stroke-width="0.5"/>
<rect x="269.52" y="398.30" width="6.90" height="14.70" fill="#cac5c9" stroke="#e8e5ea" stroke-width="0.5"/>
<rect x="277.35" y="398.30" width="6.90" height="14.70" fill="#cac5c9" stroke="#e8e5ea" stroke-width="0.5"/>
<rect x="285.53" y="398.65" width="6.20" height="14.25" fill="#4d6388" stroke="#36507a" stroke-width="0.7"/>
<rect x="293.00" y="398.30" width="6.90" height="14.70" fill="#cac5c9" stroke="#e8e5ea" stroke-width="0.5"/>
<rect x="300.83" y="398.30" width="6.90" height="14.70" fill="#cac5c9" stroke="#e8e5ea" stroke-width="0.5"/>
<rect x="308.65" y="398.30" width="6.90" height="14.70" fill="#cac5c9" stroke="#e8e5ea" stroke-width="0.5"/>
<rect x="316.48" y="398.30" width="6.90" height="14.70" fill="#cac5c9" stroke="#e8e5ea" stroke-width="0.5"/>
<rect x="324.30" y="398.30" width="6.90" height="14.70" fill="#cac5c9" stroke="#e8e5ea" stroke-width="0.5"/>
<rect x="332.12" y="398.30" width="6.90" height="14.70" fill="#cac5c9" stroke="#e8e5ea" stroke-width="0.5"/>
<rect x="339.95" y="398.30" width="6.90" height="14.70" fill="#cac5c9" stroke="#e8e5ea" stroke-width="0.5"/>
<rect x="347.77" y="398.30" width="6.90" height="14.70" fill="#cac5c9" stroke="#e8e5ea" stroke-width="0.5"/>
<rect x="355.60" y="398.30" width="6.90" height="14.70" fill="#cac5c9" stroke="#e8e5ea" stroke-width="0.5"/>
<rect x="363.43" y="398.30" width="6.90" height="14.70" fill="#cac5c9" stroke="#e8e5ea" stroke-width="0.5"/>
<rect x="371.25" y="398.30" width="6.90" height="14.70" fill="#cac5c9" stroke="#e8e5ea" stroke-width="0.5"/>
<rect x="379.08" y="398.30" width="6.90" height="14.70" fill="#cac5c9" stroke="#e8e5ea" stroke-width="0.5"/>
<rect x="386.90" y="398.30" width="6.90" height="14.70" fill="#cac5c9" stroke="#e8e5ea" stroke-width="0.5"/>
<rect x="394.73" y="398.30" width="6.90" height="14.70" fill="#cac5c9" stroke="#e8e5ea" stroke-width="0.5"/>
<rect x="402.90" y="398.65" width="6.20" height="14.25" fill="#4d6388" stroke="#36507a" stroke-width="0.7"/>
<rect x="410.38" y="398.30" width="6.90" height="14.70" fill="#cac5c9" stroke="#e8e5ea" stroke-width="0.5"/>
<rect x="418.20" y="398.30" width="6.90" height="14.70" fill="#cac5c9" stroke="#e8e5ea" stroke-width="0.5"/>
<rect x="426.03" y="398.30" width="6.90" height="14.70" fill="#cac5c9" stroke="#e8e5ea" stroke-width="0.5"/>
<rect x="433.85" y="398.30" width="6.90" height="14.70" fill="#cac5c9" stroke="#e8e5ea" stroke-width="0.5"/>
<rect x="441.68" y="398.30" width="6.90" height="14.70" fill="#cac5c9" stroke="#e8e5ea" stroke-width="0.5"/>
<rect x="449.50" y="398.30" width="6.90" height="14.70" fill="#cac5c9" stroke="#e8e5ea" stroke-width="0.5"/>
<text x="460.20" y="408.60" font-size="8.8" text-anchor="start" textLength="20.7" lengthAdjust="spacingAndGlyphs">SF3B1</text>
<text x="102.90" y="408.70" font-size="8.5" text-anchor="start" textLength="10.9" lengthAdjust="spacingAndGlyphs">5%</text>
<rect x="86.06" y="398.70" width="12.74" height="14.30" fill="#4d6388" stroke="#3d5279" stroke-width="0.8"/>
<rect x="136.50" y="413.95" width="6.90" height="14.70" fill="#cac5c9" stroke="#e8e5ea" stroke-width="0.5"/>
<rect x="144.32" y="413.95" width="6.90" height="14.70" fill="#cac5c9" stroke="#e8e5ea" stroke-width="0.5"/>
<rect x="152.15" y="413.95" width="6.90" height="14.70" fill="#cac5c9" stroke="#e8e5ea" stroke-width="0.5"/>
<rect x="159.97" y="413.95" width="6.90" height="14.70" fill="#cac5c9" stroke="#e8e5ea" stroke-width="0.5"/>
<rect x="167.80" y="413.95" width="6.90" height="14.70" fill="#cac5c9" stroke="#e8e5ea" stroke-width="0.5"/>
<rect x="175.62" y="413.95" width="6.90" height="14.70" fill="#cac5c9" stroke="#e8e5ea" stroke-width="0.5"/>
<rect x="183.45" y="413.95" width="6.90" height="14.70" fill="#cac5c9" stroke="#e8e5ea" stroke-width="0.5"/>
<rect x="191.28" y="413.95" width="6.90" height="14.70" fill="#cac5c9" stroke="#e8e5ea" stroke-width="0.5"/>
<rect x="199.10" y="413.95" width="6.90" height="14.70" fill="#cac5c9" stroke="#e8e5ea" stroke-width="0.5"/>
<rect x="206.93" y="413.95" width="6.90" height="14.70" fill="#cac5c9" stroke="#e8e5ea" stroke-width="0.5"/>
<rect x="214.75" y="413.95" width="6.90" height="14.70" fill="#cac5c9" stroke="#e8e5ea" stroke-width="0.5"/>
<rect x="222.57" y="413.95" width="6.90" height="14.70" fill="#cac5c9" stroke="#e8e5ea" stroke-width="0.5"/>
<rect x="230.40" y="413.95" width="6.90" height="14.70" fill="#cac5c9" stroke="#e8e5ea" stroke-width="0.5"/>
<rect x="238.23" y="413.95" width="6.90" height="14.70" fill="#cac5c9" stroke="#e8e5ea" stroke-width="0.5"/>
<rect x="246.05" y="413.95" width="6.90" height="14.70" fill="#cac5c9" stroke="#e8e5ea" stroke-width="0.5"/>
<rect x="253.88" y="413.95" width="6.90" height="14.70" fill="#cac5c9" stroke="#e8e5ea" stroke-width="0.5"/>
<rect x="261.70" y="413.95" width="6.90" height="14.70" fill="#cac5c9" stroke="#e8e5ea" stroke-width="0.5"/>
<rect x="269.52" y="413.95" width="6.90" height="14.70" fill="#cac5c9" stroke="#e8e5ea" stroke-width="0.5"/>
<rect x="277.35" y="413.95" width="6.90" height="14.70" fill="#cac5c9" stroke="#e8e5ea" stroke-width="0.5"/>
<rect x="285.18" y="413.95" width="6.90" height="14.70" fill="#cac5c9" stroke="#e8e5ea" stroke-width="0.5"/>
<rect x="293.00" y="413.95" width="6.90" height="14.70" fill="#cac5c9" stroke="#e8e5ea" stroke-width="0.5"/>
<rect x="300.83" y="413.95" width="6.90" height="14.70" fill="#cac5c9" stroke="#e8e5ea" stroke-width="0.5"/>
<rect x="308.65" y="413.95" width="6.90" height="14.70" fill="#cac5c9" stroke="#e8e5ea" stroke-width="0.5"/>
<rect x="316.48" y="413.95" width="6.90" height="14.70" fill="#cac5c9" stroke="#e8e5ea" stroke-width="0.5"/>
<rect x="324.30" y="413.95" width="6.90" height="14.70" fill="#cac5c9" stroke="#e8e5ea" stroke-width="0.5"/>
<rect x="332.48" y="414.30" width="6.20" height="14.25" fill="#4d6388" stroke="#36507a" stroke-width="0.7"/>
<rect x="339.95" y="413.95" width="6.90" height="14.70" fill="#cac5c9" stroke="#e8e5ea" stroke-width="0.5"/>
<rect x="347.77" y="413.95" width="6.90" height="14.70" fill="#cac5c9" stroke="#e8e5ea" stroke-width="0.5"/>
<rect x="355.60" y="413.95" width="6.90" height="14.70" fill="#cac5c9" stroke="#e8e5ea" stroke-width="0.5"/>
<rect x="363.78" y="414.30" width="6.20" height="14.25" fill="#4d6388" stroke="#36507a" stroke-width="0.7"/>
<rect x="371.25" y="413.95" width="6.90" height="14.70" fill="#cac5c9" stroke="#e8e5ea" stroke-width="0.5"/>
<rect x="379.08" y="413.95" width="6.90" height="14.70" fill="#cac5c9" stroke="#e8e5ea" stroke-width="0.5"/>
<rect x="386.90" y="413.95" width="6.90" height="14.70" fill="#cac5c9" stroke="#e8e5ea" stroke-width="0.5"/>
<rect x="394.73" y="413.95" width="6.90" height="14.70" fill="#cac5c9" stroke="#e8e5ea" stroke-width="0.5"/>
<rect x="402.55" y="413.95" width="6.90" height="14.70" fill="#cac5c9" stroke="#e8e5ea" stroke-width="0.5"/>
<rect x="410.38" y="413.95" width="6.90" height="14.70" fill="#cac5c9" stroke="#e8e5ea" stroke-width="0.5"/>
<rect x="418.20" y="413.95" width="6.90" height="14.70" fill="#cac5c9" stroke="#e8e5ea" stroke-width="0.5"/>
<rect x="426.03" y="413.95" width="6.90" height="14.70" fill="#cac5c9" stroke="#e8e5ea" stroke-width="0.5"/>
<rect x="433.85" y="413.95" width="6.90" height="14.70" fill="#cac5c9" stroke="#e8e5ea" stroke-width="0.5"/>
<rect x="441.68" y="413.95" width="6.90" height="14.70" fill="#cac5c9" stroke="#e8e5ea" stroke-width="0.5"/>
<rect x="449.50" y="413.95" width="6.90" height="14.70" fill="#cac5c9" stroke="#e8e5ea" stroke-width="0.5"/>
<text x="460.20" y="424.25" font-size="8.8" text-anchor="start" textLength="22.2" lengthAdjust="spacingAndGlyphs">U2AF1</text>
<text x="102.90" y="424.35" font-size="8.5" text-anchor="start" textLength="10.9" lengthAdjust="spacingAndGlyphs">5%</text>
<rect x="86.06" y="414.35" width="12.74" height="14.30" fill="#4d6388" stroke="#3d5279" stroke-width="0.8"/>
<rect x="136.50" y="429.60" width="6.90" height="14.70" fill="#cac5c9" stroke="#e8e5ea" stroke-width="0.5"/>
<rect x="144.32" y="429.60" width="6.90" height="14.70" fill="#cac5c9" stroke="#e8e5ea" stroke-width="0.5"/>
<rect x="152.15" y="429.60" width="6.90" height="14.70" fill="#cac5c9" stroke="#e8e5ea" stroke-width="0.5"/>
<rect x="159.97" y="429.60" width="6.90" height="14.70" fill="#cac5c9" stroke="#e8e5ea" stroke-width="0.5"/>
<rect x="167.80" y="429.60" width="6.90" height="14.70" fill="#cac5c9" stroke="#e8e5ea" stroke-width="0.5"/>
<rect x="175.62" y="429.60" width="6.90" height="14.70" fill="#cac5c9" stroke="#e8e5ea" stroke-width="0.5"/>
<rect x="183.45" y="429.60" width="6.90" height="14.70" fill="#cac5c9" stroke="#e8e5ea" stroke-width="0.5"/>
<rect x="191.28" y="429.60" width="6.90" height="14.70" fill="#cac5c9" stroke="#e8e5ea" stroke-width="0.5"/>
<rect x="199.10" y="429.60" width="6.90" height="14.70" fill="#cac5c9" stroke="#e8e5ea" stroke-width="0.5"/>
<rect x="206.93" y="429.60" width="6.90" height="14.70" fill="#cac5c9" stroke="#e8e5ea" stroke-width="0.5"/>
<rect x="214.75" y="429.60" width="6.90" height="14.70" fill="#cac5c9" stroke="#e8e5ea" stroke-width="0.5"/>
<rect x="222.57" y="429.60" width="6.90" height="14.70" fill="#cac5c9" stroke="#e8e5ea" stroke-width="0.5"/>
<rect x="230.40" y="429.60" width="6.90" height="14.70" fill="#cac5c9" stroke="#e8e5ea" stroke-width="0.5"/>
<rect x="238.23" y="429.60" width="6.90" height="14.70" fill="#cac5c9" stroke="#e8e5ea" stroke-width="0.5"/>
<rect x="246.05" y="429.60" width="6.90" height="14.70" fill="#cac5c9" stroke="#e8e5ea" stroke-width="0.5"/>
<rect x="253.88" y="429.60" width="6.90" height="14.70" fill="#cac5c9" stroke="#e8e5ea" stroke-width="0.5"/>
<rect x="261.70" y="429.60" width="6.90" height="14.70" fill="#cac5c9" stroke="#e8e5ea" stroke-width="0.5"/>
<rect x="269.52" y="429.60" width="6.90" height="14.70" fill="#cac5c9" stroke="#e8e5ea" stroke-width="0.5"/>
<rect x="277.35" y="429.60" width="6.90" height="14.70" fill="#cac5c9" stroke="#e8e5ea" stroke-width="0.5"/>
<rect x="285.53" y="429.95" width="6.20" height="14.25" fill="#dc9b3f" stroke="#d48f2e" stroke-width="0.7"/>
<rect x="293.00" y="429.60" width="6.90" height="14.70" fill="#cac5c9" stroke="#e8e5ea" stroke-width="0.5"/>
<rect x="300.83" y="429.60" width="6.90" height="14.70" fill="#cac5c9" stroke="#e8e5ea" stroke-width="0.5"/>
<rect x="308.65" y="429.60" width="6.90" height="14.70" fill="#cac5c9" stroke="#e8e5ea" stroke-width="0.5"/>
<rect x="316.48" y="429.60" width="6.90" height="14.70" fill="#cac5c9" stroke="#e8e5ea" stroke-width="0.5"/>
<rect x="324.30" y="429.60" width="6.90" height="14.70" fill="#cac5c9" stroke="#e8e5ea" stroke-width="0.5"/>
<rect x="332.12" y="429.60" width="6.90" height="14.70" fill="#cac5c9" stroke="#e8e5ea" stroke-width="0.5"/>
<rect x="339.95" y="429.60" width="6.90" height="14.70" fill="#cac5c9" stroke="#e8e5ea" stroke-width="0.5"/>
<rect x="347.77" y="429.60" width="6.90" height="14.70" fill="#cac5c9" stroke="#e8e5ea" stroke-width="0.5"/>
<rect x="355.60" y="429.60" width="6.90" height="14.70" fill="#cac5c9" stroke="#e8e5ea" stroke-width="0.5"/>
<rect x="363.43" y="429.60" width="6.90" height="14.70" fill="#cac5c9" stroke="#e8e5ea" stroke-width="0.5"/>
<rect x="371.25" y="429.60" width="6.90" height="14.70" fill="#cac5c9" stroke="#e8e5ea" stroke-width="0.5"/>
<rect x="379.08" y="429.60" width="6.90" height="14.70" fill="#cac5c9" stroke="#e8e5ea" stroke-width="0.5"/>
<rect x="387.25" y="429.95" width="6.20" height="14.25" fill="#dc9b3f" stroke="#d48f2e" stroke-width="0.7"/>
<rect x="394.73" y="429.60" width="6.90" height="14.70" fill="#cac5c9" stroke="#e8e5ea" stroke-width="0.5"/>
<rect x="402.55" y="429.60" width="6.90" height="14.70" fill="#cac5c9" stroke="#e8e5ea" stroke-width="0.5"/>
<rect x="410.38" y="429.60" width="6.90" height="14.70" fill="#cac5c9" stroke="#e8e5ea" stroke-width="0.5"/>
<rect x="418.20" y="429.60" width="6.90" height="14.70" fill="#cac5c9" stroke="#e8e5ea" stroke-width="0.5"/>
<rect x="426.03" y="429.60" width="6.90" height="14.70" fill="#cac5c9" stroke="#e8e5ea" stroke-width="0.5"/>
<rect x="433.85" y="429.60" width="6.90" height="14.70" fill="#cac5c9" stroke="#e8e5ea" stroke-width="0.5"/>
<rect x="441.68" y="429.60" width="6.90" height="14.70" fill="#cac5c9" stroke="#e8e5ea" stroke-width="0.5"/>
<rect x="449.50" y="429.60" width="6.90" height="14.70" fill="#cac5c9" stroke="#e8e5ea" stroke-width="0.5"/>
<text x="460.20" y="439.90" font-size="8.8" text-anchor="start" textLength="15.5" lengthAdjust="spacingAndGlyphs">WT1</text>
<text x="102.90" y="440.00" font-size="8.5" text-anchor="start" textLength="10.9" lengthAdjust="spacingAndGlyphs">5%</text>
<rect x="86.06" y="430.00" width="12.74" height="14.30" fill="#4d6388" stroke="#3d5279" stroke-width="0.8"/>
<rect x="136.50" y="445.25" width="6.90" height="14.70" fill="#cac5c9" stroke="#e8e5ea" stroke-width="0.5"/>
<rect x="144.32" y="445.25" width="6.90" height="14.70" fill="#cac5c9" stroke="#e8e5ea" stroke-width="0.5"/>
<rect x="152.15" y="445.25" width="6.90" height="14.70" fill="#cac5c9" stroke="#e8e5ea" stroke-width="0.5"/>
<rect x="159.97" y="445.25" width="6.90" height="14.70" fill="#cac5c9" stroke="#e8e5ea" stroke-width="0.5"/>
<rect x="168.15" y="445.60" width="6.20" height="14.25" fill="#4d6388" stroke="#36507a" stroke-width="0.7"/>
<rect x="175.62" y="445.25" width="6.90" height="14.70" fill="#cac5c9" stroke="#e8e5ea" stroke-width="0.5"/>
<rect x="183.45" y="445.25" width="6.90" height="14.70" fill="#cac5c9" stroke="#e8e5ea" stroke-width="0.5"/>
<rect x="191.28" y="445.25" width="6.90" height="14.70" fill="#cac5c9" stroke="#e8e5ea" stroke-width="0.5"/>
<rect x="199.10" y="445.25" width="6.90" height="14.70" fill="#cac5c9" stroke="#e8e5ea" stroke-width="0.5"/>
<rect x="206.93" y="445.25" width="6.90" height="14.70" fill="#cac5c9" stroke="#e8e5ea" stroke-width="0.5"/>
<rect x="214.75" y="445.25" width="6.90" height="14.70" fill="#cac5c9" stroke="#e8e5ea" stroke-width="0.5"/>
<rect x="222.57" y="445.25" width="6.90" height="14.70" fill="#cac5c9" stroke="#e8e5ea" stroke-width="0.5"/>
<rect x="230.40" y="445.25" width="6.90" height="14.70" fill="#cac5c9" stroke="#e8e5ea" stroke-width="0.5"/>
<rect x="238.23" y="445.25" width="6.90" height="14.70" fill="#cac5c9" stroke="#e8e5ea" stroke-width="0.5"/>
<rect x="246.05" y="445.25" width="6.90" height="14.70" fill="#cac5c9" stroke="#e8e5ea" stroke-width="0.5"/>
<rect x="253.88" y="445.25" width="6.90" height="14.70" fill="#cac5c9" stroke="#e8e5ea" stroke-width="0.5"/>
<rect x="261.70" y="445.25" width="6.90" height="14.70" fill="#cac5c9" stroke="#e8e5ea" stroke-width="0.5"/>
<rect x="269.52" y="445.25" width="6.90" height="14.70" fill="#cac5c9" stroke="#e8e5ea" stroke-width="0.5"/>
<rect x="277.35" y="445.25" width="6.90" height="14.70" fill="#cac5c9" stroke="#e8e5ea" stroke-width="0.5"/>
<rect x="285.18" y="445.25" width="6.90" height="14.70" fill="#cac5c9" stroke="#e8e5ea" stroke-width="0.5"/>
<rect x="293.00" y="445.25" width="6.90" height="14.70" fill="#cac5c9" stroke="#e8e5ea" stroke-width="0.5"/>
<rect x="300.83" y="445.25" width="6.90" height="14.70" fill="#cac5c9" stroke="#e8e5ea" stroke-width="0.5"/>
<rect x="308.65" y="445.25" width="6.90" height="14.70" fill="#cac5c9" stroke="#e8e5ea" stroke-width="0.5"/>
<rect x="316.48" y="445.25" width="6.90" height="14.70" fill="#cac5c9" stroke="#e8e5ea" stroke-width="0.5"/>
<rect x="324.30" y="445.25" width="6.90" height="14.70" fill="#cac5c9" stroke="#e8e5ea" stroke-width="0.5"/>
<rect x="332.12" y="445.25" width="6.90" height="14.70" fill="#cac5c9" stroke="#e8e5ea" stroke-width="0.5"/>
<rect x="339.95" y="445.25" width="6.90" height="14.70" fill="#cac5c9" stroke="#e8e5ea" stroke-width="0.5"/>
<rect x="347.77" y="445.25" width="6.90" height="14.70" fill="#cac5c9" stroke="#e8e5ea" stroke-width="0.5"/>
<rect x="355.60" y="445.25" width="6.90" height="14.70" fill="#cac5c9" stroke="#e8e5ea" stroke-width="0.5"/>
<rect x="363.43" y="445.25" width="6.90" height="14.70" fill="#cac5c9" stroke="#e8e5ea" stroke-width="0.5"/>
<rect x="371.25" y="445.25" width="6.90" height="14.70" fill="#cac5c9" stroke="#e8e5ea" stroke-width="0.5"/>
<rect x="379.08" y="445.25" width="6.90" height="14.70" fill="#cac5c9" stroke="#e8e5ea" stroke-width="0.5"/>
<rect x="386.90" y="445.25" width="6.90" height="14.70" fill="#cac5c9" stroke="#e8e5ea" stroke-width="0.5"/>
<rect x="394.73" y="445.25" width="6.90" height="14.70" fill="#cac5c9" stroke="#e8e5ea" stroke-width="0.5"/>
<rect x="402.55" y="445.25" width="6.90" height="14.70" fill="#cac5c9" stroke="#e8e5ea" stroke-width="0.5"/>
<rect x="410.38" y="445.25" width="6.90" height="14.70" fill="#cac5c9" stroke="#e8e5ea" stroke-width="0.5"/>
<rect x="418.20" y="445.25" width="6.90" height="14.70" fill="#cac5c9" stroke="#e8e5ea" stroke-width="0.5"/>
<rect x="426.03" y="445.25" width="6.90" height="14.70" fill="#cac5c9" stroke="#e8e5ea" stroke-width="0.5"/>
<rect x="433.85" y="445.25" width="6.90" height="14.70" fill="#cac5c9" stroke="#e8e5ea" stroke-width="0.5"/>
<rect x="441.68" y="445.25" width="6.90" height="14.70" fill="#cac5c9" stroke="#e8e5ea" stroke-width="0.5"/>
<rect x="449.50" y="445.25" width="6.90" height="14.70" fill="#cac5c9" stroke="#e8e5ea" stroke-width="0.5"/>
<text x="460.20" y="455.55" font-size="8.8" text-anchor="start" textLength="17.8" lengthAdjust="spacingAndGlyphs">ETV6</text>
<text x="102.90" y="455.65" font-size="8.5" text-anchor="start" textLength="10.9" lengthAdjust="spacingAndGlyphs">2%</text>
<rect x="93.33" y="445.65" width="5.47" height="14.30" fill="#4d6388" stroke="#3d5279" stroke-width="0.8"/>
<rect x="136.50" y="460.90" width="6.90" height="14.70" fill="#cac5c9" stroke="#e8e5ea" stroke-width="0.5"/>
<rect x="144.32" y="460.90" width="6.90" height="14.70" fill="#cac5c9" stroke="#e8e5ea" stroke-width="0.5"/>
<rect x="152.15" y="460.90" width="6.90" height="14.70" fill="#cac5c9" stroke="#e8e5ea" stroke-width="0.5"/>
<rect x="159.97" y="460.90" width="6.90" height="14.70" fill="#cac5c9" stroke="#e8e5ea" stroke-width="0.5"/>
<rect x="167.80" y="460.90" width="6.90" height="14.70" fill="#cac5c9" stroke="#e8e5ea" stroke-width="0.5"/>
<rect x="175.62" y="460.90" width="6.90" height="14.70" fill="#cac5c9" stroke="#e8e5ea" stroke-width="0.5"/>
<rect x="183.45" y="460.90" width="6.90" height="14.70" fill="#cac5c9" stroke="#e8e5ea" stroke-width="0.5"/>
<rect x="191.28" y="460.90" width="6.90" height="14.70" fill="#cac5c9" stroke="#e8e5ea" stroke-width="0.5"/>
<rect x="199.10" y="460.90" width="6.90" height="14.70" fill="#cac5c9" stroke="#e8e5ea" stroke-width="0.5"/>
<rect x="206.93" y="460.90" width="6.90" height="14.70" fill="#cac5c9" stroke="#e8e5ea" stroke-width="0.5"/>
<rect x="214.75" y="460.90" width="6.90" height="14.70" fill="#cac5c9" stroke="#e8e5ea" stroke-width="0.5"/>
<rect x="222.57" y="460.90" width="6.90" height="14.70" fill="#cac5c9" stroke="#e8e5ea" stroke-width="0.5"/>
<rect x="230.40" y="460.90" width="6.90" height="14.70" fill="#cac5c9" stroke="#e8e5ea" stroke-width="0.5"/>
<rect x="238.23" y="460.90" width="6.90" height="14.70" fill="#cac5c9" stroke="#e8e5ea" stroke-width="0.5"/>
<rect x="246.05" y="460.90" width="6.90" height="14.70" fill="#cac5c9" stroke="#e8e5ea" stroke-width="0.5"/>
<rect x="253.88" y="460.90" width="6.90" height="14.70" fill="#cac5c9" stroke="#e8e5ea" stroke-width="0.5"/>
<rect x="261.70" y="460.90" width="6.90" height="14.70" fill="#cac5c9" stroke="#e8e5ea" stroke-width="0.5"/>
<rect x="269.52" y="460.90" width="6.90" height="14.70" fill="#cac5c9" stroke="#e8e5ea" stroke-width="0.5"/>
<rect x="277.35" y="460.90" width="6.90" height="14.70" fill="#cac5c9" stroke="#e8e5ea" stroke-width="0.5"/>
<rect x="285.18" y="460.90" width="6.90" height="14.70" fill="#cac5c9" stroke="#e8e5ea" stroke-width="0.5"/>
<rect x="293.00" y="460.90" width="6.90" height="14.70" fill="#cac5c9" stroke="#e8e5ea" stroke-width="0.5"/>
<rect x="300.83" y="460.90" width="6.90" height="14.70" fill="#cac5c9" stroke="#e8e5ea" stroke-width="0.5"/>
<rect x="308.65" y="460.90" width="6.90" height="14.70" fill="#cac5c9" stroke="#e8e5ea" stroke-width="0.5"/>
<rect x="316.48" y="460.90" width="6.90" height="14.70" fill="#cac5c9" stroke="#e8e5ea" stroke-width="0.5"/>
<rect x="324.30" y="460.90" width="6.90" height="14.70" fill="#cac5c9" stroke="#e8e5ea" stroke-width="0.5"/>
<rect x="332.12" y="460.90" width="6.90" height="14.70" fill="#cac5c9" stroke="#e8e5ea" stroke-width="0.5"/>
<rect x="339.95" y="460.90" width="6.90" height="14.70" fill="#cac5c9" stroke="#e8e5ea" stroke-width="0.5"/>
<rect x="347.77" y="460.90" width="6.90" height="14.70" fill="#cac5c9" stroke="#e8e5ea" stroke-width="0.5"/>
<rect x="355.60" y="460.90" width="6.90" height="14.70" fill="#cac5c9" stroke="#e8e5ea" stroke-width="0.5"/>
<rect x="363.78" y="461.25" width="6.20" height="14.25" fill="#dc9b3f" stroke="#d48f2e" stroke-width="0.7"/>
<rect x="371.25" y="460.90" width="6.90" height="14.70" fill="#cac5c9" stroke="#e8e5ea" stroke-width="0.5"/>
<rect x="379.08" y="460.90" width="6.90" height="14.70" fill="#cac5c9" stroke="#e8e5ea" stroke-width="0.5"/>
<rect x="386.90" y="460.90" width="6.90" height="14.70" fill="#cac5c9" stroke="#e8e5ea" stroke-width="0.5"/>
<rect x="394.73" y="460.90" width="6.90" height="14.70" fill="#cac5c9" stroke="#e8e5ea" stroke-width="0.5"/>
<rect x="402.55" y="460.90" width="6.90" height="14.70" fill="#cac5c9" stroke="#e8e5ea" stroke-width="0.5"/>
<rect x="410.38" y="460.90" width="6.90" height="14.70" fill="#cac5c9" stroke="#e8e5ea" stroke-width="0.5"/>
<rect x="418.20" y="460.90" width="6.90" height="14.70" fill="#cac5c9" stroke="#e8e5ea" stroke-width="0.5"/>
<rect x="426.03" y="460.90" width="6.90" height="14.70" fill="#cac5c9" stroke="#e8e5ea" stroke-width="0.5"/>
<rect x="433.85" y="460.90" width="6.90" height="14.70" fill="#cac5c9" stroke="#e8e5ea" stroke-width="0.5"/>
<rect x="441.68" y="460.90" width="6.90" height="14.70" fill="#cac5c9" stroke="#e8e5ea" stroke-width="0.5"/>
<rect x="449.50" y="460.90" width="6.90" height="14.70" fill="#cac5c9" stroke="#e8e5ea" stroke-width="0.5"/>
<text x="460.20" y="471.20" font-size="8.8" text-anchor="start" textLength="23.0" lengthAdjust="spacingAndGlyphs">GATA2</text>
<text x="102.90" y="471.30" font-size="8.5" text-anchor="start" textLength="10.9" lengthAdjust="spacingAndGlyphs">2%</text>
<rect x="93.33" y="461.30" width="5.47" height="14.30" fill="#4d6388" stroke="#3d5279" stroke-width="0.8"/>
<rect x="136.50" y="476.55" width="6.90" height="14.70" fill="#cac5c9" stroke="#e8e5ea" stroke-width="0.5"/>
<rect x="144.32" y="476.55" width="6.90" height="14.70" fill="#cac5c9" stroke="#e8e5ea" stroke-width="0.5"/>
<rect x="152.15" y="476.55" width="6.90" height="14.70" fill="#cac5c9" stroke="#e8e5ea" stroke-width="0.5"/>
<rect x="159.97" y="476.55" width="6.90" height="14.70" fill="#cac5c9" stroke="#e8e5ea" stroke-width="0.5"/>
<rect x="167.80" y="476.55" width="6.90" height="14.70" fill="#cac5c9" stroke="#e8e5ea" stroke-width="0.5"/>
<rect x="175.62" y="476.55" width="6.90" height="14.70" fill="#cac5c9" stroke="#e8e5ea" stroke-width="0.5"/>
<rect x="183.45" y="476.55" width="6.90" height="14.70" fill="#cac5c9" stroke="#e8e5ea" stroke-width="0.5"/>
<rect x="191.28" y="476.55" width="6.90" height="14.70" fill="#cac5c9" stroke="#e8e5ea" stroke-width="0.5"/>
<rect x="199.10" y="476.55" width="6.90" height="14.70" fill="#cac5c9" stroke="#e8e5ea" stroke-width="0.5"/>
<rect x="206.93" y="476.55" width="6.90" height="14.70" fill="#cac5c9" stroke="#e8e5ea" stroke-width="0.5"/>
<rect x="214.75" y="476.55" width="6.90" height="14.70" fill="#cac5c9" stroke="#e8e5ea" stroke-width="0.5"/>
<rect x="222.57" y="476.55" width="6.90" height="14.70" fill="#cac5c9" stroke="#e8e5ea" stroke-width="0.5"/>
<rect x="230.40" y="476.55" width="6.90" height="14.70" fill="#cac5c9" stroke="#e8e5ea" stroke-width="0.5"/>
<rect x="238.23" y="476.55" width="6.90" height="14.70" fill="#cac5c9" stroke="#e8e5ea" stroke-width="0.5"/>
<rect x="246.05" y="476.55" width="6.90" height="14.70" fill="#cac5c9" stroke="#e8e5ea" stroke-width="0.5"/>
<rect x="253.88" y="476.55" width="6.90" height="14.70" fill="#cac5c9" stroke="#e8e5ea" stroke-width="0.5"/>
<rect x="261.70" y="476.55" width="6.90" height="14.70" fill="#cac5c9" stroke="#e8e5ea" stroke-width="0.5"/>
<rect x="269.52" y="476.55" width="6.90" height="14.70" fill="#cac5c9" stroke="#e8e5ea" stroke-width="0.5"/>
<rect x="277.35" y="476.55" width="6.90" height="14.70" fill="#cac5c9" stroke="#e8e5ea" stroke-width="0.5"/>
<rect x="285.18" y="476.55" width="6.90" height="14.70" fill="#cac5c9" stroke="#e8e5ea" stroke-width="0.5"/>
<rect x="293.00" y="476.55" width="6.90" height="14.70" fill="#cac5c9" stroke="#e8e5ea" stroke-width="0.5"/>
<rect x="300.83" y="476.55" width="6.90" height="14.70" fill="#cac5c9" stroke="#e8e5ea" stroke-width="0.5"/>
<rect x="308.65" y="476.55" width="6.90" height="14.70" fill="#cac5c9" stroke="#e8e5ea" stroke-width="0.5"/>
<rect x="316.83" y="476.90" width="6.20" height="14.25" fill="#4d6388" stroke="#36507a" stroke-width="0.7"/>
<rect x="324.30" y="476.55" width="6.90" height="14.70" fill="#cac5c9" stroke="#e8e5ea" stroke-width="0.5"/>
<rect x="332.12" y="476.55" width="6.90" height="14.70" fill="#cac5c9" stroke="#e8e5ea" stroke-width="0.5"/>
<rect x="339.95" y="476.55" width="6.90" height="14.70" fill="#cac5c9" stroke="#e8e5ea" stroke-width="0.5"/>
<rect x="347.77" y="476.55" width="6.90" height="14.70" fill="#cac5c9" stroke="#e8e5ea" stroke-width="0.5"/>
<rect x="355.60" y="476.55" width="6.90" height="14.70" fill="#cac5c9" stroke="#e8e5ea" stroke-width="0.5"/>
<rect x="363.43" y="476.55" width="6.90" height="14.70" fill="#cac5c9" stroke="#e8e5ea" stroke-width="0.5"/>
<rect x="371.25" y="476.55" width="6.90" height="14.70" fill="#cac5c9" stroke="#e8e5ea" stroke-width="0.5"/>
<rect x="379.08" y="476.55" width="6.90" height="14.70" fill="#cac5c9" stroke="#e8e5ea" stroke-width="0.5"/>
<rect x="386.90" y="476.55" width="6.90" height="14.70" fill="#cac5c9" stroke="#e8e5ea" stroke-width="0.5"/>
<rect x="394.73" y="476.55" width="6.90" height="14.70" fill="#cac5c9" stroke="#e8e5ea" stroke-width="0.5"/>
<rect x="402.55" y="476.55" width="6.90" height="14.70" fill="#cac5c9" stroke="#e8e5ea" stroke-width="0.5"/>
<rect x="410.38" y="476.55" width="6.90" height="14.70" fill="#cac5c9" stroke="#e8e5ea" stroke-width="0.5"/>
<rect x="418.20" y="476.55" width="6.90" height="14.70" fill="#cac5c9" stroke="#e8e5ea" stroke-width="0.5"/>
<rect x="426.03" y="476.55" width="6.90" height="14.70" fill="#cac5c9" stroke="#e8e5ea" stroke-width="0.5"/>
<rect x="433.85" y="476.55" width="6.90" height="14.70" fill="#cac5c9" stroke="#e8e5ea" stroke-width="0.5"/>
<rect x="441.68" y="476.55" width="6.90" height="14.70" fill="#cac5c9" stroke="#e8e5ea" stroke-width="0.5"/>
<rect x="449.50" y="476.55" width="6.90" height="14.70" fill="#cac5c9" stroke="#e8e5ea" stroke-width="0.5"/>
<text x="460.20" y="486.85" font-size="8.8" text-anchor="start" textLength="16.4" lengthAdjust="spacingAndGlyphs">IDH1</text>
<text x="102.90" y="486.95" font-size="8.5" text-anchor="start" textLength="10.9" lengthAdjust="spacingAndGlyphs">2%</text>
<rect x="93.33" y="476.95" width="5.47" height="14.30" fill="#4d6388" stroke="#3d5279" stroke-width="0.8"/>
<rect x="136.50" y="492.20" width="6.90" height="14.70" fill="#cac5c9" stroke="#e8e5ea" stroke-width="0.5"/>
<rect x="144.32" y="492.20" width="6.90" height="14.70" fill="#cac5c9" stroke="#e8e5ea" stroke-width="0.5"/>
<rect x="152.15" y="492.20" width="6.90" height="14.70" fill="#cac5c9" stroke="#e8e5ea" stroke-width="0.5"/>
<rect x="159.97" y="492.20" width="6.90" height="14.70" fill="#cac5c9" stroke="#e8e5ea" stroke-width="0.5"/>
<rect x="167.80" y="492.20" width="6.90" height="14.70" fill="#cac5c9" stroke="#e8e5ea" stroke-width="0.5"/>
<rect x="175.62" y="492.20" width="6.90" height="14.70" fill="#cac5c9" stroke="#e8e5ea" stroke-width="0.5"/>
<rect x="183.45" y="492.20" width="6.90" height="14.70" fill="#cac5c9" stroke="#e8e5ea" stroke-width="0.5"/>
<rect x="191.28" y="492.20" width="6.90" height="14.70" fill="#cac5c9" stroke="#e8e5ea" stroke-width="0.5"/>
<rect x="199.10" y="492.20" width="6.90" height="14.70" fill="#cac5c9" stroke="#e8e5ea" stroke-width="0.5"/>
<rect x="206.93" y="492.20" width="6.90" height="14.70" fill="#cac5c9" stroke="#e8e5ea" stroke-width="0.5"/>
<rect x="214.75" y="492.20" width="6.90" height="14.70" fill="#cac5c9" stroke="#e8e5ea" stroke-width="0.5"/>
<rect x="222.57" y="492.20" width="6.90" height="14.70" fill="#cac5c9" stroke="#e8e5ea" stroke-width="0.5"/>
<rect x="230.40" y="492.20" width="6.90" height="14.70" fill="#cac5c9" stroke="#e8e5ea" stroke-width="0.5"/>
<rect x="238.23" y="492.20" width="6.90" height="14.70" fill="#cac5c9" stroke="#e8e5ea" stroke-width="0.5"/>
<rect x="246.05" y="492.20" width="6.90" height="14.70" fill="#cac5c9" stroke="#e8e5ea" stroke-width="0.5"/>
<rect x="253.88" y="492.20" width="6.90" height="14.70" fill="#cac5c9" stroke="#e8e5ea" stroke-width="0.5"/>
<rect x="261.70" y="492.20" width="6.90" height="14.70" fill="#cac5c9" stroke="#e8e5ea" stroke-width="0.5"/>
<rect x="269.52" y="492.20" width="6.90" height="14.70" fill="#cac5c9" stroke="#e8e5ea" stroke-width="0.5"/>
<rect x="277.35" y="492.20" width="6.90" height="14.70" fill="#cac5c9" stroke="#e8e5ea" stroke-width="0.5"/>
<rect x="285.18" y="492.20" width="6.90" height="14.70" fill="#cac5c9" stroke="#e8e5ea" stroke-width="0.5"/>
<rect x="293.00" y="492.20" width="6.90" height="14.70" fill="#cac5c9" stroke="#e8e5ea" stroke-width="0.5"/>
<rect x="300.83" y="492.20" width="6.90" height="14.70" fill="#cac5c9" stroke="#e8e5ea" stroke-width="0.5"/>
<rect x="308.65" y="492.20" width="6.90" height="14.70" fill="#cac5c9" stroke="#e8e5ea" stroke-width="0.5"/>
<rect x="316.48" y="492.20" width="6.90" height="14.70" fill="#cac5c9" stroke="#e8e5ea" stroke-width="0.5"/>
<rect x="324.30" y="492.20" width="6.90" height="14.70" fill="#cac5c9" stroke="#e8e5ea" stroke-width="0.5"/>
<rect x="332.12" y="492.20" width="6.90" height="14.70" fill="#cac5c9" stroke="#e8e5ea" stroke-width="0.5"/>
<rect x="340.30" y="492.55" width="6.20" height="14.25" fill="#4d6388" stroke="#36507a" stroke-width="0.7"/>
<rect x="347.77" y="492.20" width="6.90" height="14.70" fill="#cac5c9" stroke="#e8e5ea" stroke-width="0.5"/>
<rect x="355.60" y="492.20" width="6.90" height="14.70" fill="#cac5c9" stroke="#e8e5ea" stroke-width="0.5"/>
<rect x="363.43" y="492.20" width="6.90" height="14.70" fill="#cac5c9" stroke="#e8e5ea" stroke-width="0.5"/>
<rect x="371.25" y="492.20" width="6.90" height="14.70" fill="#cac5c9" stroke="#e8e5ea" stroke-width="0.5"/>
<rect x="379.08" y="492.20" width="6.90" height="14.70" fill="#cac5c9" stroke="#e8e5ea" stroke-width="0.5"/>
<rect x="386.90" y="492.20" width="6.90" height="14.70" fill="#cac5c9" stroke="#e8e5ea" stroke-width="0.5"/>
<rect x="394.73" y="492.20" width="6.90" height="14.70" fill="#cac5c9" stroke="#e8e5ea" stroke-width="0.5"/>
<rect x="402.55" y="492.20" width="6.90" height="14.70" fill="#cac5c9" stroke="#e8e5ea" stroke-width="0.5"/>
<rect x="410.38" y="492.20" width="6.90" height="14.70" fill="#cac5c9" stroke="#e8e5ea" stroke-width="0.5"/>
<rect x="418.20" y="492.20" width="6.90" height="14.70" fill="#cac5c9" stroke="#e8e5ea" stroke-width="0.5"/>
<rect x="426.03" y="492.20" width="6.90" height="14.70" fill="#cac5c9" stroke="#e8e5ea" stroke-width="0.5"/>
<rect x="433.85" y="492.20" width="6.90" height="14.70" fill="#cac5c9" stroke="#e8e5ea" stroke-width="0.5"/>
<rect x="441.68" y="492.20" width="6.90" height="14.70" fill="#cac5c9" stroke="#e8e5ea" stroke-width="0.5"/>
<rect x="449.50" y="492.20" width="6.90" height="14.70" fill="#cac5c9" stroke="#e8e5ea" stroke-width="0.5"/>
<text x="460.20" y="502.50" font-size="8.8" text-anchor="start" textLength="19.1" lengthAdjust="spacingAndGlyphs">NRAS</text>
<text x="102.90" y="502.60" font-size="8.5" text-anchor="start" textLength="10.9" lengthAdjust="spacingAndGlyphs">2%</text>
<rect x="93.33" y="492.60" width="5.47" height="14.30" fill="#4d6388" stroke="#3d5279" stroke-width="0.8"/>
<rect x="136.50" y="507.85" width="6.90" height="14.70" fill="#cac5c9" stroke="#e8e5ea" stroke-width="0.5"/>
<rect x="144.32" y="507.85" width="6.90" height="14.70" fill="#cac5c9" stroke="#e8e5ea" stroke-width="0.5"/>
<rect x="152.15" y="507.85" width="6.90" height="14.70" fill="#cac5c9" stroke="#e8e5ea" stroke-width="0.5"/>
<rect x="159.97" y="507.85" width="6.90" height="14.70" fill="#cac5c9" stroke="#e8e5ea" stroke-width="0.5"/>
<rect x="167.80" y="507.85" width="6.90" height="14.70" fill="#cac5c9" stroke="#e8e5ea" stroke-width="0.5"/>
<rect x="175.62" y="507.85" width="6.90" height="14.70" fill="#cac5c9" stroke="#e8e5ea" stroke-width="0.5"/>
<rect x="183.45" y="507.85" width="6.90" height="14.70" fill="#cac5c9" stroke="#e8e5ea" stroke-width="0.5"/>
<rect x="191.28" y="507.85" width="6.90" height="14.70" fill="#cac5c9" stroke="#e8e5ea" stroke-width="0.5"/>
<rect x="199.10" y="507.85" width="6.90" height="14.70" fill="#cac5c9" stroke="#e8e5ea" stroke-width="0.5"/>
<rect x="206.93" y="507.85" width="6.90" height="14.70" fill="#cac5c9" stroke="#e8e5ea" stroke-width="0.5"/>
<rect x="214.75" y="507.85" width="6.90" height="14.70" fill="#cac5c9" stroke="#e8e5ea" stroke-width="0.5"/>
<rect x="222.57" y="507.85" width="6.90" height="14.70" fill="#cac5c9" stroke="#e8e5ea" stroke-width="0.5"/>
<rect x="230.40" y="507.85" width="6.90" height="14.70" fill="#cac5c9" stroke="#e8e5ea" stroke-width="0.5"/>
<rect x="238.23" y="507.85" width="6.90" height="14.70" fill="#cac5c9" stroke="#e8e5ea" stroke-width="0.5"/>
<rect x="246.05" y="507.85" width="6.90" height="14.70" fill="#cac5c9" stroke="#e8e5ea" stroke-width="0.5"/>
<rect x="253.88" y="507.85" width="6.90" height="14.70" fill="#cac5c9" stroke="#e8e5ea" stroke-width="0.5"/>
<rect x="261.70" y="507.85" width="6.90" height="14.70" fill="#cac5c9" stroke="#e8e5ea" stroke-width="0.5"/>
<rect x="269.52" y="507.85" width="6.90" height="14.70" fill="#cac5c9" stroke="#e8e5ea" stroke-width="0.5"/>
<rect x="277.35" y="507.85" width="6.90" height="14.70" fill="#cac5c9" stroke="#e8e5ea" stroke-width="0.5"/>
<rect x="285.18" y="507.85" width="6.90" height="14.70" fill="#cac5c9" stroke="#e8e5ea" stroke-width="0.5"/>
<rect x="293.00" y="507.85" width="6.90" height="14.70" fill="#cac5c9" stroke="#e8e5ea" stroke-width="0.5"/>
<rect x="300.83" y="507.85" width="6.90" height="14.70" fill="#cac5c9" stroke="#e8e5ea" stroke-width="0.5"/>
<rect x="308.65" y="507.85" width="6.90" height="14.70" fill="#cac5c9" stroke="#e8e5ea" stroke-width="0.5"/>
<rect x="316.48" y="507.85" width="6.90" height="14.70" fill="#cac5c9" stroke="#e8e5ea" stroke-width="0.5"/>
<rect x="324.30" y="507.85" width="6.90" height="14.70" fill="#cac5c9" stroke="#e8e5ea" stroke-width="0.5"/>
<rect x="332.48" y="508.20" width="6.20" height="14.25" fill="#a97a45" stroke="#9c6c37" stroke-width="0.7"/>
<rect x="339.95" y="507.85" width="6.90" height="14.70" fill="#cac5c9" stroke="#e8e5ea" stroke-width="0.5"/>
<rect x="347.77" y="507.85" width="6.90" height="14.70" fill="#cac5c9" stroke="#e8e5ea" stroke-width="0.5"/>
<rect x="355.60" y="507.85" width="6.90" height="14.70" fill="#cac5c9" stroke="#e8e5ea" stroke-width="0.5"/>
<rect x="363.43" y="507.85" width="6.90" height="14.70" fill="#cac5c9" stroke="#e8e5ea" stroke-width="0.5"/>
<rect x="371.25" y="507.85" width="6.90" height="14.70" fill="#cac5c9" stroke="#e8e5ea" stroke-width="0.5"/>
<rect x="379.08" y="507.85" width="6.90" height="14.70" fill="#cac5c9" stroke="#e8e5ea" stroke-width="0.5"/>
<rect x="386.90" y="507.85" width="6.90" height="14.70" fill="#cac5c9" stroke="#e8e5ea" stroke-width="0.5"/>
<rect x="394.73" y="507.85" width="6.90" height="14.70" fill="#cac5c9" stroke="#e8e5ea" stroke-width="0.5"/>
<rect x="402.55" y="507.85" width="6.90" height="14.70" fill="#cac5c9" stroke="#e8e5ea" stroke-width="0.5"/>
<rect x="410.38" y="507.85" width="6.90" height="14.70" fill="#cac5c9" stroke="#e8e5ea" stroke-width="0.5"/>
<rect x="418.20" y="507.85" width="6.90" height="14.70" fill="#cac5c9" stroke="#e8e5ea" stroke-width="0.5"/>
<rect x="426.03" y="507.85" width="6.90" height="14.70" fill="#cac5c9" stroke="#e8e5ea" stroke-width="0.5"/>
<rect x="433.85" y="507.85" width="6.90" height="14.70" fill="#cac5c9" stroke="#e8e5ea" stroke-width="0.5"/>
<rect x="441.68" y="507.85" width="6.90" height="14.70" fill="#cac5c9" stroke="#e8e5ea" stroke-width="0.5"/>
<rect x="449.50" y="507.85" width="6.90" height="14.70" fill="#cac5c9" stroke="#e8e5ea" stroke-width="0.5"/>
<text x="460.20" y="518.15" font-size="8.8" text-anchor="start" textLength="18.4" lengthAdjust="spacingAndGlyphs">PHF6</text>
<text x="102.90" y="518.25" font-size="8.5" text-anchor="start" textLength="10.9" lengthAdjust="spacingAndGlyphs">2%</text>
<rect x="93.33" y="508.25" width="5.47" height="14.30" fill="#4d6388" stroke="#3d5279" stroke-width="0.8"/>
<rect x="136.50" y="523.50" width="6.90" height="14.70" fill="#cac5c9" stroke="#e8e5ea" stroke-width="0.5"/>
<rect x="144.32" y="523.50" width="6.90" height="14.70" fill="#cac5c9" stroke="#e8e5ea" stroke-width="0.5"/>
<rect x="152.15" y="523.50" width="6.90" height="14.70" fill="#cac5c9" stroke="#e8e5ea" stroke-width="0.5"/>
<rect x="159.97" y="523.50" width="6.90" height="14.70" fill="#cac5c9" stroke="#e8e5ea" stroke-width="0.5"/>
<rect x="167.80" y="523.50" width="6.90" height="14.70" fill="#cac5c9" stroke="#e8e5ea" stroke-width="0.5"/>
<rect x="175.62" y="523.50" width="6.90" height="14.70" fill="#cac5c9" stroke="#e8e5ea" stroke-width="0.5"/>
<rect x="183.45" y="523.50" width="6.90" height="14.70" fill="#cac5c9" stroke="#e8e5ea" stroke-width="0.5"/>
<rect x="191.28" y="523.50" width="6.90" height="14.70" fill="#cac5c9" stroke="#e8e5ea" stroke-width="0.5"/>
<rect x="199.10" y="523.50" width="6.90" height="14.70" fill="#cac5c9" stroke="#e8e5ea" stroke-width="0.5"/>
<rect x="206.93" y="523.50" width="6.90" height="14.70" fill="#cac5c9" stroke="#e8e5ea" stroke-width="0.5"/>
<rect x="214.75" y="523.50" width="6.90" height="14.70" fill="#cac5c9" stroke="#e8e5ea" stroke-width="0.5"/>
<rect x="222.57" y="523.50" width="6.90" height="14.70" fill="#cac5c9" stroke="#e8e5ea" stroke-width="0.5"/>
<rect x="230.40" y="523.50" width="6.90" height="14.70" fill="#cac5c9" stroke="#e8e5ea" stroke-width="0.5"/>
<rect x="238.23" y="523.50" width="6.90" height="14.70" fill="#cac5c9" stroke="#e8e5ea" stroke-width="0.5"/>
<rect x="246.40" y="523.85" width="6.20" height="14.25" fill="#4d6388" stroke="#36507a" stroke-width="0.7"/>
<rect x="253.88" y="523.50" width="6.90" height="14.70" fill="#cac5c9" stroke="#e8e5ea" stroke-width="0.5"/>
<rect x="261.70" y="523.50" width="6.90" height="14.70" fill="#cac5c9" stroke="#e8e5ea" stroke-width="0.5"/>
<rect x="269.52" y="523.50" width="6.90" height="14.70" fill="#cac5c9" stroke="#e8e5ea" stroke-width="0.5"/>
<rect x="277.35" y="523.50" width="6.90" height="14.70" fill="#cac5c9" stroke="#e8e5ea" stroke-width="0.5"/>
<rect x="285.18" y="523.50" width="6.90" height="14.70" fill="#cac5c9" stroke="#e8e5ea" stroke-width="0.5"/>
<rect x="293.00" y="523.50" width="6.90" height="14.70" fill="#cac5c9" stroke="#e8e5ea" stroke-width="0.5"/>
<rect x="300.83" y="523.50" width="6.90" height="14.70" fill="#cac5c9" stroke="#e8e5ea" stroke-width="0.5"/>
<rect x="308.65" y="523.50" width="6.90" height="14.70" fill="#cac5c9" stroke="#e8e5ea" stroke-width="0.5"/>
<rect x="316.48" y="523.50" width="6.90" height="14.70" fill="#cac5c9" stroke="#e8e5ea" stroke-width="0.5"/>
<rect x="324.30" y="523.50" width="6.90" height="14.70" fill="#cac5c9" stroke="#e8e5ea" stroke-width="0.5"/>
<rect x="332.12" y="523.50" width="6.90" height="14.70" fill="#cac5c9" stroke="#e8e5ea" stroke-width="0.5"/>
<rect x="339.95" y="523.50" width="6.90" height="14.70" fill="#cac5c9" stroke="#e8e5ea" stroke-width="0.5"/>
<rect x="347.77" y="523.50" width="6.90" height="14.70" fill="#cac5c9" stroke="#e8e5ea" stroke-width="0.5"/>
<rect x="355.60" y="523.50" width="6.90" height="14.70" fill="#cac5c9" stroke="#e8e5ea" stroke-width="0.5"/>
<rect x="363.43" y="523.50" width="6.90" height="14.70" fill="#cac5c9" stroke="#e8e5ea" stroke-width="0.5"/>
<rect x="371.25" y="523.50" width="6.90" height="14.70" fill="#cac5c9" stroke="#e8e5ea" stroke-width="0.5"/>
<rect x="379.08" y="523.50" width="6.90" height="14.70" fill="#cac5c9" stroke="#e8e5ea" stroke-width="0.5"/>
<rect x="386.90" y="523.50" width="6.90" height="14.70" fill="#cac5c9" stroke="#e8e5ea" stroke-width="0.5"/>
<rect x="394.73" y="523.50" width="6.90" height="14.70" fill="#cac5c9" stroke="#e8e5ea" stroke-width="0.5"/>
<rect x="402.55" y="523.50" width="6.90" height="14.70" fill="#cac5c9" stroke="#e8e5ea" stroke-width="0.5"/>
<rect x="410.38" y="523.50" width="6.90" height="14.70" fill="#cac5c9" stroke="#e8e5ea" stroke-width="0.5"/>
<rect x="418.20" y="523.50" width="6.90" height="14.70" fill="#cac5c9" stroke="#e8e5ea" stroke-width="0.5"/>
<rect x="426.03" y="523.50" width="6.90" height="14.70" fill="#cac5c9" stroke="#e8e5ea" stroke-width="0.5"/>
<rect x="433.85" y="523.50" width="6.90" height="14.70" fill="#cac5c9" stroke="#e8e5ea" stroke-width="0.5"/>
<rect x="441.68" y="523.50" width="6.90" height="14.70" fill="#cac5c9" stroke="#e8e5ea" stroke-width="0.5"/>
<rect x="449.50" y="523.50" width="6.90" height="14.70" fill="#cac5c9" stroke="#e8e5ea" stroke-width="0.5"/>
<text x="460.20" y="533.80" font-size="8.8" text-anchor="start" textLength="23.0" lengthAdjust="spacingAndGlyphs">U2AF2</text>
<text x="102.90" y="533.90" font-size="8.5" text-anchor="start" textLength="10.9" lengthAdjust="spacingAndGlyphs">2%</text>
<rect x="93.33" y="523.90" width="5.47" height="14.30" fill="#4d6388" stroke="#3d5279" stroke-width="0.8"/>
<rect x="136.50" y="539.15" width="6.90" height="14.70" fill="#cac5c9" stroke="#e8e5ea" stroke-width="0.5"/>
<rect x="144.32" y="539.15" width="6.90" height="14.70" fill="#cac5c9" stroke="#e8e5ea" stroke-width="0.5"/>
<rect x="152.15" y="539.15" width="6.90" height="14.70" fill="#cac5c9" stroke="#e8e5ea" stroke-width="0.5"/>
<rect x="159.97" y="539.15" width="6.90" height="14.70" fill="#cac5c9" stroke="#e8e5ea" stroke-width="0.5"/>
<rect x="167.80" y="539.15" width="6.90" height="14.70" fill="#cac5c9" stroke="#e8e5ea" stroke-width="0.5"/>
<rect x="175.62" y="539.15" width="6.90" height="14.70" fill="#cac5c9" stroke="#e8e5ea" stroke-width="0.5"/>
<rect x="183.45" y="539.15" width="6.90" height="14.70" fill="#cac5c9" stroke="#e8e5ea" stroke-width="0.5"/>
<rect x="191.28" y="539.15" width="6.90" height="14.70" fill="#cac5c9" stroke="#e8e5ea" stroke-width="0.5"/>
<rect x="199.10" y="539.15" width="6.90" height="14.70" fill="#cac5c9" stroke="#e8e5ea" stroke-width="0.5"/>
<rect x="206.93" y="539.15" width="6.90" height="14.70" fill="#cac5c9" stroke="#e8e5ea" stroke-width="0.5"/>
<rect x="214.75" y="539.15" width="6.90" height="14.70" fill="#cac5c9" stroke="#e8e5ea" stroke-width="0.5"/>
<rect x="222.57" y="539.15" width="6.90" height="14.70" fill="#cac5c9" stroke="#e8e5ea" stroke-width="0.5"/>
<rect x="230.40" y="539.15" width="6.90" height="14.70" fill="#cac5c9" stroke="#e8e5ea" stroke-width="0.5"/>
<rect x="238.23" y="539.15" width="6.90" height="14.70" fill="#cac5c9" stroke="#e8e5ea" stroke-width="0.5"/>
<rect x="246.40" y="539.50" width="6.20" height="14.25" fill="#dc9b3f" stroke="#d48f2e" stroke-width="0.7"/>
<rect x="253.88" y="539.15" width="6.90" height="14.70" fill="#cac5c9" stroke="#e8e5ea" stroke-width="0.5"/>
<rect x="261.70" y="539.15" width="6.90" height="14.70" fill="#cac5c9" stroke="#e8e5ea" stroke-width="0.5"/>
<rect x="269.52" y="539.15" width="6.90" height="14.70" fill="#cac5c9" stroke="#e8e5ea" stroke-width="0.5"/>
<rect x="277.35" y="539.15" width="6.90" height="14.70" fill="#cac5c9" stroke="#e8e5ea" stroke-width="0.5"/>
<rect x="285.18" y="539.15" width="6.90" height="14.70" fill="#cac5c9" stroke="#e8e5ea" stroke-width="0.5"/>
<rect x="293.00" y="539.15" width="6.90" height="14.70" fill="#cac5c9" stroke="#e8e5ea" stroke-width="0.5"/>
<rect x="300.83" y="539.15" width="6.90" height="14.70" fill="#cac5c9" stroke="#e8e5ea" stroke-width="0.5"/>
<rect x="308.65" y="539.15" width="6.90" height="14.70" fill="#cac5c9" stroke="#e8e5ea" stroke-width="0.5"/>
<rect x="316.48" y="539.15" width="6.90" height="14.70" fill="#cac5c9" stroke="#e8e5ea" stroke-width="0.5"/>
<rect x="324.30" y="539.15" width="6.90" height="14.70" fill="#cac5c9" stroke="#e8e5ea" stroke-width="0.5"/>
<rect x="332.12" y="539.15" width="6.90" height="14.70" fill="#cac5c9" stroke="#e8e5ea" stroke-width="0.5"/>
<rect x="339.95" y="539.15" width="6.90" height="14.70" fill="#cac5c9" stroke="#e8e5ea" stroke-width="0.5"/>
<rect x="347.77" y="539.15" width="6.90" height="14.70" fill="#cac5c9" stroke="#e8e5ea" stroke-width="0.5"/>
<rect x="355.60" y="539.15" width="6.90" height="14.70" fill="#cac5c9" stroke="#e8e5ea" stroke-width="0.5"/>
<rect x="363.43" y="539.15" width="6.90" height="14.70" fill="#cac5c9" stroke="#e8e5ea" stroke-width="0.5"/>
<rect x="371.25" y="539.15" width="6.90" height="14.70" fill="#cac5c9" stroke="#e8e5ea" stroke-width="0.5"/>
<rect x="379.08" y="539.15" width="6.90" height="14.70" fill="#cac5c9" stroke="#e8e5ea" stroke-width="0.5"/>
<rect x="386.90" y="539.15" width="6.90" height="14.70" fill="#cac5c9" stroke="#e8e5ea" stroke-width="0.5"/>
<rect x="394.73" y="539.15" width="6.90" height="14.70" fill="#cac5c9" stroke="#e8e5ea" stroke-width="0.5"/>
<rect x="402.55" y="539.15" width="6.90" height="14.70" fill="#cac5c9" stroke="#e8e5ea" stroke-width="0.5"/>
<rect x="410.38" y="539.15" width="6.90" height="14.70" fill="#cac5c9" stroke="#e8e5ea" stroke-width="0.5"/>
<rect x="418.20" y="539.15" width="6.90" height="14.70" fill="#cac5c9" stroke="#e8e5ea" stroke-width="0.5"/>
<rect x="426.03" y="539.15" width="6.90" height="14.70" fill="#cac5c9" stroke="#e8e5ea" stroke-width="0.5"/>
<rect x="433.85" y="539.15" width="6.90" height="14.70" fill="#cac5c9" stroke="#e8e5ea" stroke-width="0.5"/>
<rect x="441.68" y="539.15" width="6.90" height="14.70" fill="#cac5c9" stroke="#e8e5ea" stroke-width="0.5"/>
<rect x="449.50" y="539.15" width="6.90" height="14.70" fill="#cac5c9" stroke="#e8e5ea" stroke-width="0.5"/>
<text x="460.20" y="549.45" font-size="8.8" text-anchor="start" textLength="21.6" lengthAdjust="spacingAndGlyphs">ZRSR2</text>
<text x="102.90" y="549.55" font-size="8.5" text-anchor="start" textLength="10.9" lengthAdjust="spacingAndGlyphs">2%</text>
<rect x="86.06" y="539.55" width="12.74" height="14.30" fill="#4d6388" stroke="#3d5279" stroke-width="0.8"/>
<line x1="9" y1="561.0" x2="102.8" y2="561.0" stroke="#231f20" stroke-width="1.3"/>
<line x1="99.60" y1="561.2" x2="99.60" y2="564.40" stroke="#231f20" stroke-width="0.9"/>
<text x="100.10" y="574.80" font-size="8.0" text-anchor="middle">0</text>
<line x1="85.08" y1="561.2" x2="85.08" y2="562.60" stroke="#231f20" stroke-width="0.9"/>
<text x="85.58" y="574.80" font-size="8.0" text-anchor="middle">2</text>
<line x1="70.56" y1="561.2" x2="70.56" y2="564.40" stroke="#231f20" stroke-width="0.9"/>
<text x="71.06" y="574.80" font-size="8.0" text-anchor="middle">4</text>
<line x1="56.04" y1="561.2" x2="56.04" y2="562.60" stroke="#231f20" stroke-width="0.9"/>
<text x="56.54" y="574.80" font-size="8.0" text-anchor="middle">6</text>
<line x1="41.52" y1="561.2" x2="41.52" y2="564.40" stroke="#231f20" stroke-width="0.9"/>
<text x="42.02" y="574.80" font-size="8.0" text-anchor="middle">8</text>
<line x1="27.00" y1="561.2" x2="27.00" y2="562.60" stroke="#231f20" stroke-width="0.9"/>
<text x="27.50" y="574.80" font-size="8.0" text-anchor="middle">10</text>
<line x1="12.48" y1="561.2" x2="12.48" y2="564.40" stroke="#231f20" stroke-width="0.9"/>
<text x="12.98" y="574.80" font-size="8.0" text-anchor="middle">12</text>
<text x="31.20" y="588.20" font-size="10" text-anchor="start" textLength="49.5" lengthAdjust="spacingAndGlyphs">#&#160;mutations</text>
<rect x="518" y="0" width="1" height="597" fill="#999"/>
<rect x="519" y="0" width="1" height="597" fill="#4a4a4a"/>
<rect x="0" y="0" width="519" height="1" fill="#000"/>
<rect x="0" y="0" width="1.2" height="597" fill="#000"/>
<rect x="0" y="595.8" width="520" height="1.2" fill="#000"/>
</svg>
</body></html>
